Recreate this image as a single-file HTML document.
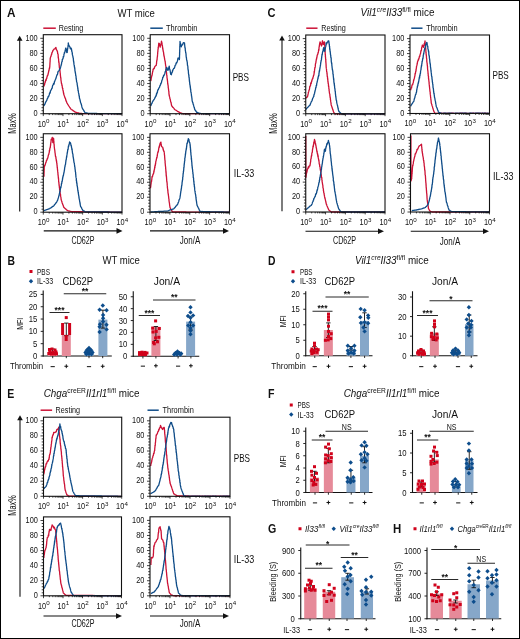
<!DOCTYPE html>
<html><head><meta charset="utf-8"><style>
html,body{margin:0;padding:0;background:#fff;width:520px;height:639px;overflow:hidden;}
svg{display:block;font-family:"Liberation Sans", sans-serif;}
text{fill:#111;}
svg{will-change:transform;}
</style></head><body>
<svg width="520" height="639" viewBox="0 0 520 639" font-family='"Liberation Sans", sans-serif'>
<rect x="0" y="0" width="520" height="639" fill="#fff"/>
<text x="7.00" y="17.04" font-size="13.45" font-weight="bold" textLength="8.50" lengthAdjust="spacingAndGlyphs">A</text>
<text x="136.20" y="16.50" font-size="11.11" text-anchor="middle" textLength="37.50" lengthAdjust="spacingAndGlyphs">WT mice</text>
<line x1="43.30" y1="28.20" x2="55.80" y2="28.20" stroke="#cc1236" stroke-width="1.5"/>
<text x="58.70" y="31.27" font-size="8.54" textLength="24.50" lengthAdjust="spacingAndGlyphs">Resting</text>
<line x1="150.30" y1="28.20" x2="162.80" y2="28.20" stroke="#0f4c88" stroke-width="1.5"/>
<text x="166.00" y="31.27" font-size="8.54" textLength="31.50" lengthAdjust="spacingAndGlyphs">Thrombin</text>
<polyline points="43.9,86.1 44.1,86.0 44.3,84.9 44.5,84.7 44.7,84.0 45.0,82.3 45.2,81.5 45.4,82.2 45.6,80.5 45.8,79.7 46.1,80.3 46.4,78.7 46.7,78.6 46.9,77.2 47.2,76.7 47.5,75.1 47.8,75.2 48.0,75.0 48.1,73.6 48.3,73.3 48.5,72.5 48.7,70.7 48.8,71.3 49.0,70.3 49.2,69.0 49.4,67.9 49.5,68.7 49.7,67.3 49.7,67.0 49.8,66.5 49.8,65.5 49.9,65.1 49.9,63.4 50.0,63.4 50.0,62.0 50.1,62.2 50.1,61.3 50.2,59.2 50.2,58.5 50.3,57.9 50.3,58.5 50.6,56.8 51.0,56.3 51.3,54.9 51.6,54.5 51.8,53.5 52.0,52.7 52.2,52.4 52.5,51.7 52.7,51.5 52.9,50.3 53.5,50.0 54.0,49.1 54.8,48.9 55.5,47.8 55.9,47.5 56.3,49.4 56.7,50.2 57.1,50.7 57.2,50.9 57.4,51.9 57.5,51.7 57.7,53.6 57.9,53.9 58.0,54.1 58.1,54.4 58.2,56.6 58.2,57.5 58.3,56.6 58.4,58.6 58.5,58.7 58.6,58.9 58.6,59.9 58.7,61.5 58.8,62.4 58.9,61.6 59.0,63.3 59.1,63.0 59.1,65.0 59.2,65.0 59.3,66.7 59.4,67.6 59.5,67.4 59.6,69.0 59.6,68.5 59.7,68.7 59.8,70.4 59.9,70.1 60.0,71.1 60.1,72.1 60.2,73.2 60.2,73.1 60.3,73.6 60.4,75.8 60.5,75.5 60.6,77.3 60.7,77.9 60.8,77.7 60.9,78.5 60.9,79.3 61.0,80.3 61.1,80.9 61.2,81.5 61.3,82.3 61.5,83.6 61.6,83.6 61.8,84.1 61.9,85.4 62.1,85.2 62.2,86.1 62.4,88.0 62.5,87.9 62.6,88.7 62.8,88.4 62.9,89.9 63.1,90.8 63.2,90.7 63.4,92.3 63.5,93.1 63.7,92.9 63.8,94.5 64.0,94.9 64.3,95.9 64.5,96.2 64.8,97.3 65.0,98.0 65.3,97.9 65.5,98.6 65.8,100.0 66.0,100.9 66.3,100.9 66.5,101.8 66.8,102.6 67.0,103.1 67.4,103.7 67.8,104.4 68.3,105.1 68.7,105.8 69.1,106.3 69.5,107.0 70.0,107.8 70.4,108.2 70.8,109.0 71.4,109.5 72.1,109.9 72.7,110.3 73.4,110.9 74.0,111.2 74.7,111.7 75.3,112.2 76.1,112.4 76.9,112.6 77.6,112.8 78.4,113.0 79.2,113.2 80.0,113.3 80.7,113.4 81.5,113.5 82.2,113.6 83.0,113.7 83.7,113.7 84.4,113.7 85.1,113.7 85.8,113.7 86.5,113.7 87.3,113.7 88.0,113.7 88.7,113.7 89.4,113.7 90.1,113.7 90.8,113.7 91.5,113.7 92.2,113.7 92.9,113.7 93.6,113.7 94.3,113.7 95.1,113.7 95.8,113.7 96.5,113.7 97.2,113.7 97.9,113.7 98.6,113.7 99.3,113.7 100.0,113.7 100.7,113.7 101.4,113.7 102.1,113.7 102.9,113.7 103.6,113.7 104.3,113.7 105.0,113.7 105.7,113.7 106.4,113.7 107.1,113.7 107.8,113.7 108.5,113.7 109.2,113.7 109.9,113.7 110.7,113.7 111.4,113.7 112.1,113.7 112.8,113.7 113.5,113.7 114.2,113.7 114.9,113.7 115.6,113.7 116.3,113.7 117.0,113.7 117.7,113.7 118.5,113.7 119.2,113.7 119.9,113.7 120.6,113.7 121.3,113.7 122.0,113.7" fill="none" stroke="#cc1236" stroke-width="1.3" stroke-linejoin="round"/>
<polyline points="43.9,105.9 44.2,105.2 44.5,104.5 44.9,104.2 45.2,103.3 45.5,102.5 45.8,101.8 46.1,101.6 46.5,100.7 46.8,100.3 47.1,99.2 47.4,98.4 47.7,98.2 47.9,97.8 48.2,96.4 48.5,96.6 48.8,96.1 49.0,95.3 49.3,94.7 49.6,92.9 49.9,93.2 50.2,92.9 50.4,91.0 50.7,90.7 51.0,90.0 51.3,89.8 51.6,88.9 51.9,88.3 52.2,88.1 52.5,86.0 52.8,85.4 53.0,84.9 53.3,84.2 53.6,83.4 53.9,84.3 54.2,83.4 54.5,81.3 54.8,81.4 55.0,80.4 55.3,79.7 55.5,79.1 55.8,78.9 56.0,78.1 56.3,77.0 56.5,76.1 56.8,75.6 57.0,74.6 57.3,74.7 57.5,74.3 57.8,73.0 58.0,71.7 58.3,71.3 58.6,71.0 59.0,70.7 59.3,70.4 59.6,69.0 60.0,69.1 60.3,68.2 60.6,67.2 60.8,66.4 60.9,65.9 61.1,65.6 61.3,64.4 61.5,64.1 61.6,63.0 61.8,61.9 62.0,61.8 62.2,61.4 62.3,59.5 62.5,59.5 62.7,58.8 62.9,58.9 63.1,58.3 63.3,56.5 63.6,56.8 63.8,55.9 64.0,54.2 64.2,53.8 64.4,52.5 64.6,53.0 64.8,52.0 65.0,51.7 65.1,50.8 65.3,49.9 65.5,49.2 65.7,48.2 65.9,48.1 66.1,49.7 66.3,49.4 66.4,50.4 66.6,52.2 66.8,51.7 67.0,52.5 67.1,51.7 67.2,52.4 67.3,50.4 67.4,49.4 67.5,50.1 67.6,48.1 67.7,48.6 67.8,47.6 67.9,47.2 68.0,46.6 68.1,45.2 68.2,44.9 68.3,42.8 68.6,44.9 68.9,45.2 69.3,46.4 69.6,46.1 70.1,47.9 70.5,48.9 71.0,48.0 71.5,49.1 71.6,50.2 71.8,51.4 71.9,51.1 72.0,51.7 72.2,52.6 72.3,54.0 72.5,55.0 72.6,55.0 72.7,55.7 72.9,56.5 73.0,57.1 73.1,58.0 73.3,58.1 73.4,59.6 73.5,61.2 73.6,60.9 73.7,62.2 73.8,61.9 73.9,63.5 74.0,64.4 74.1,64.9 74.2,65.4 74.3,66.0 74.5,67.0 74.6,68.2 74.7,67.6 74.8,68.2 74.9,70.1 75.0,71.1 75.1,71.1 75.2,71.7 75.3,72.9 75.4,72.6 75.5,73.5 75.6,74.1 75.7,75.5 75.9,75.7 76.0,76.3 76.1,77.8 76.2,79.0 76.3,78.5 76.4,80.0 76.5,80.2 76.6,81.7 76.7,81.9 76.9,82.0 77.0,82.7 77.1,83.0 77.2,84.6 77.3,85.1 77.4,85.4 77.5,86.5 77.7,87.1 77.8,88.6 77.9,88.2 78.0,90.4 78.2,90.2 78.3,91.1 78.4,91.6 78.5,92.9 78.7,93.5 78.8,93.8 78.9,94.4 79.0,95.5 79.2,96.3 79.3,96.5 79.4,97.6 79.5,98.5 79.7,98.7 79.8,99.1 80.0,99.8 80.2,101.0 80.4,101.6 80.6,102.6 80.8,103.1 81.0,103.4 81.2,104.0 81.4,104.8 81.6,105.4 81.8,106.4 82.0,107.2 82.2,107.9 82.4,108.3 82.8,109.2 83.2,109.7 83.7,110.4 84.1,111.2 84.5,111.8 84.9,112.5 85.7,112.8 86.6,113.0 87.4,113.2 88.2,113.5 88.9,113.5 89.6,113.5 90.3,113.5 91.0,113.5 91.7,113.5 92.4,113.5 93.1,113.5 93.8,113.5 94.5,113.5 95.2,113.5 95.9,113.5 96.7,113.5 97.4,113.6 98.1,113.6 98.8,113.6 99.5,113.6 100.2,113.6 100.9,113.6 101.6,113.6 102.3,113.6 103.0,113.6 103.7,113.6 104.4,113.6 105.1,113.6 105.8,113.6 106.5,113.6 107.2,113.6 107.9,113.6 108.6,113.6 109.3,113.6 110.0,113.6 110.7,113.6 111.4,113.6 112.1,113.6 112.8,113.6 113.5,113.7 114.3,113.7 115.0,113.7 115.7,113.7 116.4,113.7 117.1,113.7 117.8,113.7 118.5,113.7 119.2,113.7 119.9,113.7 120.6,113.7 121.3,113.7 122.0,113.7" fill="none" stroke="#0f4c88" stroke-width="1.3" stroke-linejoin="round"/>
<rect x="43.30" y="34.70" width="78.70" height="79.00" fill="none" stroke="#111" stroke-width="1.1"/>
<line x1="40.30" y1="113.70" x2="43.30" y2="113.70" stroke="#111" stroke-width="0.8"/>
<line x1="41.50" y1="110.68" x2="43.30" y2="110.68" stroke="#111" stroke-width="0.8"/>
<line x1="41.50" y1="107.67" x2="43.30" y2="107.67" stroke="#111" stroke-width="0.8"/>
<line x1="41.50" y1="104.65" x2="43.30" y2="104.65" stroke="#111" stroke-width="0.8"/>
<line x1="41.50" y1="101.64" x2="43.30" y2="101.64" stroke="#111" stroke-width="0.8"/>
<line x1="40.30" y1="98.62" x2="43.30" y2="98.62" stroke="#111" stroke-width="0.8"/>
<line x1="41.50" y1="95.60" x2="43.30" y2="95.60" stroke="#111" stroke-width="0.8"/>
<line x1="41.50" y1="92.59" x2="43.30" y2="92.59" stroke="#111" stroke-width="0.8"/>
<line x1="41.50" y1="89.57" x2="43.30" y2="89.57" stroke="#111" stroke-width="0.8"/>
<line x1="41.50" y1="86.56" x2="43.30" y2="86.56" stroke="#111" stroke-width="0.8"/>
<line x1="40.30" y1="83.54" x2="43.30" y2="83.54" stroke="#111" stroke-width="0.8"/>
<line x1="41.50" y1="80.52" x2="43.30" y2="80.52" stroke="#111" stroke-width="0.8"/>
<line x1="41.50" y1="77.51" x2="43.30" y2="77.51" stroke="#111" stroke-width="0.8"/>
<line x1="41.50" y1="74.49" x2="43.30" y2="74.49" stroke="#111" stroke-width="0.8"/>
<line x1="41.50" y1="71.48" x2="43.30" y2="71.48" stroke="#111" stroke-width="0.8"/>
<line x1="40.30" y1="68.46" x2="43.30" y2="68.46" stroke="#111" stroke-width="0.8"/>
<line x1="41.50" y1="65.44" x2="43.30" y2="65.44" stroke="#111" stroke-width="0.8"/>
<line x1="41.50" y1="62.43" x2="43.30" y2="62.43" stroke="#111" stroke-width="0.8"/>
<line x1="41.50" y1="59.41" x2="43.30" y2="59.41" stroke="#111" stroke-width="0.8"/>
<line x1="41.50" y1="56.40" x2="43.30" y2="56.40" stroke="#111" stroke-width="0.8"/>
<line x1="40.30" y1="53.38" x2="43.30" y2="53.38" stroke="#111" stroke-width="0.8"/>
<line x1="41.50" y1="50.36" x2="43.30" y2="50.36" stroke="#111" stroke-width="0.8"/>
<line x1="41.50" y1="47.35" x2="43.30" y2="47.35" stroke="#111" stroke-width="0.8"/>
<line x1="41.50" y1="44.33" x2="43.30" y2="44.33" stroke="#111" stroke-width="0.8"/>
<line x1="41.50" y1="41.32" x2="43.30" y2="41.32" stroke="#111" stroke-width="0.8"/>
<line x1="40.30" y1="38.30" x2="43.30" y2="38.30" stroke="#111" stroke-width="0.8"/>
<text x="37.70" y="115.93" font-size="8.42" text-anchor="end" textLength="4.10" lengthAdjust="spacingAndGlyphs">0</text>
<text x="37.70" y="100.85" font-size="8.42" text-anchor="end" textLength="8.20" lengthAdjust="spacingAndGlyphs">20</text>
<text x="37.70" y="85.77" font-size="8.42" text-anchor="end" textLength="8.20" lengthAdjust="spacingAndGlyphs">40</text>
<text x="37.70" y="70.69" font-size="8.42" text-anchor="end" textLength="8.20" lengthAdjust="spacingAndGlyphs">60</text>
<text x="37.70" y="55.61" font-size="8.42" text-anchor="end" textLength="8.20" lengthAdjust="spacingAndGlyphs">80</text>
<text x="37.70" y="40.53" font-size="8.42" text-anchor="end" textLength="12.30" lengthAdjust="spacingAndGlyphs">100</text>
<line x1="43.30" y1="113.70" x2="43.30" y2="116.10" stroke="#111" stroke-width="0.8"/>
<line x1="49.22" y1="113.70" x2="49.22" y2="115.10" stroke="#111" stroke-width="0.8"/>
<line x1="52.69" y1="113.70" x2="52.69" y2="115.10" stroke="#111" stroke-width="0.8"/>
<line x1="55.15" y1="113.70" x2="55.15" y2="115.10" stroke="#111" stroke-width="0.8"/>
<line x1="57.05" y1="113.70" x2="57.05" y2="115.10" stroke="#111" stroke-width="0.8"/>
<line x1="58.61" y1="113.70" x2="58.61" y2="115.10" stroke="#111" stroke-width="0.8"/>
<line x1="59.93" y1="113.70" x2="59.93" y2="115.10" stroke="#111" stroke-width="0.8"/>
<line x1="61.07" y1="113.70" x2="61.07" y2="115.10" stroke="#111" stroke-width="0.8"/>
<line x1="62.07" y1="113.70" x2="62.07" y2="115.10" stroke="#111" stroke-width="0.8"/>
<line x1="62.97" y1="113.70" x2="62.97" y2="116.10" stroke="#111" stroke-width="0.8"/>
<line x1="68.90" y1="113.70" x2="68.90" y2="115.10" stroke="#111" stroke-width="0.8"/>
<line x1="72.36" y1="113.70" x2="72.36" y2="115.10" stroke="#111" stroke-width="0.8"/>
<line x1="74.82" y1="113.70" x2="74.82" y2="115.10" stroke="#111" stroke-width="0.8"/>
<line x1="76.73" y1="113.70" x2="76.73" y2="115.10" stroke="#111" stroke-width="0.8"/>
<line x1="78.29" y1="113.70" x2="78.29" y2="115.10" stroke="#111" stroke-width="0.8"/>
<line x1="79.60" y1="113.70" x2="79.60" y2="115.10" stroke="#111" stroke-width="0.8"/>
<line x1="80.74" y1="113.70" x2="80.74" y2="115.10" stroke="#111" stroke-width="0.8"/>
<line x1="81.75" y1="113.70" x2="81.75" y2="115.10" stroke="#111" stroke-width="0.8"/>
<line x1="82.65" y1="113.70" x2="82.65" y2="116.10" stroke="#111" stroke-width="0.8"/>
<line x1="88.57" y1="113.70" x2="88.57" y2="115.10" stroke="#111" stroke-width="0.8"/>
<line x1="92.04" y1="113.70" x2="92.04" y2="115.10" stroke="#111" stroke-width="0.8"/>
<line x1="94.50" y1="113.70" x2="94.50" y2="115.10" stroke="#111" stroke-width="0.8"/>
<line x1="96.40" y1="113.70" x2="96.40" y2="115.10" stroke="#111" stroke-width="0.8"/>
<line x1="97.96" y1="113.70" x2="97.96" y2="115.10" stroke="#111" stroke-width="0.8"/>
<line x1="99.28" y1="113.70" x2="99.28" y2="115.10" stroke="#111" stroke-width="0.8"/>
<line x1="100.42" y1="113.70" x2="100.42" y2="115.10" stroke="#111" stroke-width="0.8"/>
<line x1="101.42" y1="113.70" x2="101.42" y2="115.10" stroke="#111" stroke-width="0.8"/>
<line x1="102.33" y1="113.70" x2="102.33" y2="116.10" stroke="#111" stroke-width="0.8"/>
<line x1="108.25" y1="113.70" x2="108.25" y2="115.10" stroke="#111" stroke-width="0.8"/>
<line x1="111.71" y1="113.70" x2="111.71" y2="115.10" stroke="#111" stroke-width="0.8"/>
<line x1="114.17" y1="113.70" x2="114.17" y2="115.10" stroke="#111" stroke-width="0.8"/>
<line x1="116.08" y1="113.70" x2="116.08" y2="115.10" stroke="#111" stroke-width="0.8"/>
<line x1="117.64" y1="113.70" x2="117.64" y2="115.10" stroke="#111" stroke-width="0.8"/>
<line x1="118.95" y1="113.70" x2="118.95" y2="115.10" stroke="#111" stroke-width="0.8"/>
<line x1="120.09" y1="113.70" x2="120.09" y2="115.10" stroke="#111" stroke-width="0.8"/>
<line x1="121.10" y1="113.70" x2="121.10" y2="115.10" stroke="#111" stroke-width="0.8"/>
<line x1="122.00" y1="113.70" x2="122.00" y2="116.10" stroke="#111" stroke-width="0.8"/>
<text x="37.70" y="126.60" font-size="8.4" textLength="8.2" lengthAdjust="spacingAndGlyphs" fill="#111">10</text><text x="46.10" y="123.30" font-size="6.2" fill="#111">0</text>
<text x="57.37" y="126.60" font-size="8.4" textLength="8.2" lengthAdjust="spacingAndGlyphs" fill="#111">10</text><text x="65.77" y="123.30" font-size="6.2" fill="#111">1</text>
<text x="77.05" y="126.60" font-size="8.4" textLength="8.2" lengthAdjust="spacingAndGlyphs" fill="#111">10</text><text x="85.45" y="123.30" font-size="6.2" fill="#111">2</text>
<text x="96.73" y="126.60" font-size="8.4" textLength="8.2" lengthAdjust="spacingAndGlyphs" fill="#111">10</text><text x="105.12" y="123.30" font-size="6.2" fill="#111">3</text>
<text x="116.40" y="126.60" font-size="8.4" textLength="8.2" lengthAdjust="spacingAndGlyphs" fill="#111">10</text><text x="124.80" y="123.30" font-size="6.2" fill="#111">4</text>
<polyline points="150.8,81.0 151.0,80.2 151.1,79.6 151.2,78.5 151.4,77.6 151.6,76.6 151.7,75.7 151.8,76.1 152.0,75.5 152.2,74.3 152.3,74.0 152.5,72.6 152.6,71.7 152.8,71.1 152.9,71.3 153.1,69.1 153.5,69.3 153.9,68.2 154.2,68.5 154.6,67.1 155.0,66.4 155.4,65.9 155.9,65.5 156.3,65.3 156.4,63.8 156.5,64.0 156.6,62.0 156.7,61.5 156.8,60.5 156.9,59.8 157.0,60.3 157.1,59.5 157.2,57.8 157.3,57.1 157.3,56.8 157.4,56.7 157.5,56.2 157.5,55.3 157.6,54.4 157.7,52.9 157.7,52.6 157.8,51.5 157.9,51.4 157.9,50.8 158.0,49.5 158.1,48.9 158.2,49.1 158.2,47.1 158.3,47.7 158.4,47.2 158.5,46.6 158.6,44.9 158.7,44.5 158.7,43.8 158.8,43.2 158.9,43.2 159.1,43.4 159.3,43.4 159.6,45.2 159.8,45.3 160.0,46.2 160.2,47.2 160.4,45.2 160.6,45.8 160.8,44.9 160.9,43.9 161.1,43.2 161.3,42.4 161.5,41.1 161.7,42.6 161.9,42.5 162.1,44.2 162.3,45.3 162.4,45.6 162.5,46.5 162.6,48.0 162.7,48.6 162.8,47.9 162.9,49.8 163.0,50.2 163.1,49.9 163.2,51.2 163.4,51.7 163.5,52.1 163.7,53.6 163.8,55.1 163.9,54.7 164.1,56.4 164.2,56.8 164.3,56.5 164.5,58.5 164.6,58.8 164.8,60.1 164.9,60.4 165.0,61.2 165.2,61.2 165.3,62.8 165.4,63.7 165.5,64.2 165.5,64.2 165.6,65.4 165.7,65.7 165.8,65.7 165.9,66.2 165.9,67.0 166.0,67.9 166.1,68.5 166.2,69.8 166.2,70.9 166.3,71.3 166.4,71.8 166.5,72.9 166.6,73.0 166.6,74.0 166.7,75.2 166.8,75.2 166.9,75.5 167.0,77.5 167.0,77.9 167.1,78.0 167.2,78.7 167.3,79.7 167.4,80.5 167.5,80.6 167.5,80.9 167.6,82.0 167.7,83.7 167.8,83.3 167.9,84.6 168.0,84.8 168.1,85.6 168.2,86.2 168.2,87.4 168.3,87.7 168.4,88.2 168.5,89.1 168.6,89.9 168.7,91.2 168.8,91.2 168.9,91.9 168.9,93.3 169.0,93.9 169.1,95.1 169.2,94.9 169.4,96.1 169.5,96.7 169.7,97.0 169.9,98.8 170.0,98.6 170.2,99.2 170.4,100.3 170.5,100.7 170.7,101.8 170.9,102.2 171.0,102.8 171.2,103.4 171.4,104.6 171.5,105.0 171.7,106.0 172.2,106.3 172.6,107.1 173.1,107.3 173.5,107.9 174.0,108.4 174.4,109.2 174.9,109.6 175.5,110.0 176.2,110.3 176.8,110.8 177.4,111.3 178.1,111.6 178.7,111.9 179.4,112.4 180.0,112.8 180.8,113.0 181.5,113.2 182.2,113.4 183.0,113.6 183.7,113.6 184.4,113.6 185.1,113.6 185.8,113.6 186.5,113.6 187.2,113.6 187.9,113.6 188.6,113.6 189.3,113.6 190.0,113.6 190.8,113.6 191.5,113.6 192.2,113.6 192.9,113.6 193.6,113.6 194.3,113.6 195.0,113.6 195.7,113.6 196.4,113.6 197.1,113.6 197.8,113.6 198.5,113.6 199.2,113.6 199.9,113.6 200.6,113.6 201.3,113.6 202.0,113.6 202.7,113.6 203.4,113.6 204.1,113.6 204.8,113.6 205.5,113.6 206.2,113.7 207.0,113.7 207.7,113.7 208.4,113.7 209.1,113.7 209.8,113.7 210.5,113.7 211.2,113.7 211.9,113.7 212.6,113.7 213.3,113.7 214.0,113.7 214.7,113.7 215.4,113.7 216.1,113.7 216.8,113.7 217.5,113.7 218.2,113.7 218.9,113.7 219.6,113.7 220.3,113.7 221.0,113.7 221.8,113.7 222.5,113.7 223.2,113.7 223.9,113.7 224.6,113.7 225.3,113.7 226.0,113.7 226.7,113.7 227.4,113.7 228.1,113.7 228.8,113.7 229.5,113.7" fill="none" stroke="#cc1236" stroke-width="1.3" stroke-linejoin="round"/>
<polyline points="150.8,105.9 151.1,105.1 151.5,104.0 151.8,103.4 152.1,103.2 152.4,101.9 152.8,101.5 153.1,100.6 153.5,100.3 154.0,99.5 154.4,99.1 154.8,98.1 155.3,97.1 155.7,96.4 155.9,95.6 156.2,95.8 156.4,94.2 156.6,93.3 156.9,94.0 157.1,92.1 157.4,92.5 157.6,90.5 157.8,90.4 158.1,89.3 158.3,89.7 158.6,88.7 158.9,88.1 159.2,87.7 159.6,87.2 159.9,85.6 160.2,85.5 160.5,84.5 160.8,83.3 161.0,83.9 161.3,82.7 161.5,82.4 161.8,80.6 162.0,80.4 162.2,79.6 162.5,79.3 162.7,77.4 163.0,77.3 163.3,76.9 163.6,75.5 163.8,75.7 164.1,75.4 164.4,74.2 164.7,74.0 164.9,73.2 165.2,71.8 165.4,71.3 165.6,71.7 165.9,69.8 166.1,69.3 166.4,68.0 166.6,67.5 167.0,68.0 167.5,70.0 167.9,70.3 168.2,69.8 168.4,69.3 168.7,67.8 168.9,67.6 169.2,66.2 169.3,66.6 169.5,68.3 169.6,68.9 169.8,69.6 169.9,69.5 170.1,70.7 170.2,70.7 170.4,72.5 170.5,73.0 170.7,72.6 170.8,74.4 171.0,73.7 171.1,74.3 171.4,74.7 171.6,73.2 171.9,72.8 172.2,72.3 172.5,70.5 172.7,71.1 173.0,69.5 173.4,69.1 173.7,68.3 174.1,68.4 174.5,67.8 174.9,66.3 175.2,65.3 175.6,65.0 175.8,64.5 176.1,63.2 176.3,62.7 176.6,63.1 176.8,62.3 177.1,62.1 177.3,61.4 177.6,60.5 177.8,58.9 178.1,57.8 178.8,58.7 179.4,59.5 179.4,58.9 179.5,58.2 179.5,57.2 179.5,57.4 179.5,55.6 179.6,55.2 179.6,55.3 179.6,54.4 179.6,52.7 179.7,51.9 179.7,52.2 179.7,50.1 179.7,49.6 179.8,49.6 179.8,48.9 179.8,47.5 179.8,46.5 179.8,46.1 179.9,46.4 179.9,45.1 179.9,45.3 179.9,44.3 180.0,43.9 180.0,41.5 180.2,42.5 180.4,42.9 180.7,44.4 180.9,45.0 181.1,45.2 181.3,46.9 181.6,45.4 182.0,45.2 182.3,44.4 182.6,44.8 183.0,43.5 183.3,42.6 184.5,42.8 184.6,44.2 184.7,45.3 184.8,46.1 184.9,47.3 185.0,47.8 185.1,47.6 185.2,48.1 185.3,50.0 185.4,50.8 185.5,51.0 185.6,52.3 185.7,52.6 185.8,52.8 185.9,53.3 186.0,53.8 186.1,55.6 186.2,56.8 186.3,57.5 186.4,57.4 186.5,58.5 186.6,59.7 186.8,60.2 186.9,60.5 187.0,60.9 187.1,61.8 187.2,61.9 187.3,62.6 187.4,64.2 187.5,65.5 187.6,65.4 187.7,65.8 187.8,66.4 187.9,67.3 187.9,68.6 188.0,68.7 188.1,70.3 188.2,69.6 188.3,70.5 188.4,71.6 188.4,72.1 188.5,73.6 188.6,74.2 188.7,75.1 188.8,75.2 188.9,74.9 188.9,76.6 189.0,77.2 189.1,77.8 189.2,78.1 189.3,79.6 189.4,80.7 189.4,79.9 189.5,81.6 189.6,81.8 189.7,82.7 189.8,84.1 189.9,85.0 190.0,85.1 190.1,85.0 190.2,87.1 190.3,86.4 190.4,87.5 190.5,89.1 190.6,88.9 190.7,89.5 190.8,91.4 190.9,92.1 191.0,91.8 191.1,92.6 191.2,93.2 191.3,93.7 191.4,94.6 191.5,96.3 191.6,95.9 191.7,96.8 191.8,97.5 191.9,98.1 192.0,99.3 192.1,100.2 192.2,101.0 192.4,101.5 192.6,102.3 192.8,102.4 193.0,103.3 193.2,104.4 193.4,104.5 193.6,105.4 193.8,106.2 194.0,106.7 194.2,107.6 194.4,108.1 194.6,108.8 194.8,109.7 195.3,110.2 195.8,111.0 196.2,111.5 196.7,112.3 197.6,112.5 198.4,112.9 199.3,113.2 200.2,113.4 201.0,113.7 201.7,113.7 202.4,113.7 203.1,113.7 203.8,113.7 204.6,113.7 205.3,113.7 206.0,113.7 206.7,113.7 207.4,113.7 208.1,113.7 208.8,113.7 209.6,113.7 210.3,113.7 211.0,113.7 211.7,113.7 212.4,113.7 213.1,113.7 213.8,113.7 214.5,113.7 215.2,113.7 216.0,113.7 216.7,113.7 217.4,113.7 218.1,113.7 218.8,113.7 219.5,113.7 220.2,113.7 220.9,113.7 221.7,113.7 222.4,113.7 223.1,113.7 223.8,113.7 224.5,113.7 225.2,113.7 225.9,113.7 226.7,113.7 227.4,113.7 228.1,113.7 228.8,113.7 229.5,113.7" fill="none" stroke="#0f4c88" stroke-width="1.3" stroke-linejoin="round"/>
<rect x="150.20" y="34.70" width="79.30" height="79.00" fill="none" stroke="#111" stroke-width="1.1"/>
<line x1="147.20" y1="113.70" x2="150.20" y2="113.70" stroke="#111" stroke-width="0.8"/>
<line x1="148.40" y1="110.68" x2="150.20" y2="110.68" stroke="#111" stroke-width="0.8"/>
<line x1="148.40" y1="107.67" x2="150.20" y2="107.67" stroke="#111" stroke-width="0.8"/>
<line x1="148.40" y1="104.65" x2="150.20" y2="104.65" stroke="#111" stroke-width="0.8"/>
<line x1="148.40" y1="101.64" x2="150.20" y2="101.64" stroke="#111" stroke-width="0.8"/>
<line x1="147.20" y1="98.62" x2="150.20" y2="98.62" stroke="#111" stroke-width="0.8"/>
<line x1="148.40" y1="95.60" x2="150.20" y2="95.60" stroke="#111" stroke-width="0.8"/>
<line x1="148.40" y1="92.59" x2="150.20" y2="92.59" stroke="#111" stroke-width="0.8"/>
<line x1="148.40" y1="89.57" x2="150.20" y2="89.57" stroke="#111" stroke-width="0.8"/>
<line x1="148.40" y1="86.56" x2="150.20" y2="86.56" stroke="#111" stroke-width="0.8"/>
<line x1="147.20" y1="83.54" x2="150.20" y2="83.54" stroke="#111" stroke-width="0.8"/>
<line x1="148.40" y1="80.52" x2="150.20" y2="80.52" stroke="#111" stroke-width="0.8"/>
<line x1="148.40" y1="77.51" x2="150.20" y2="77.51" stroke="#111" stroke-width="0.8"/>
<line x1="148.40" y1="74.49" x2="150.20" y2="74.49" stroke="#111" stroke-width="0.8"/>
<line x1="148.40" y1="71.48" x2="150.20" y2="71.48" stroke="#111" stroke-width="0.8"/>
<line x1="147.20" y1="68.46" x2="150.20" y2="68.46" stroke="#111" stroke-width="0.8"/>
<line x1="148.40" y1="65.44" x2="150.20" y2="65.44" stroke="#111" stroke-width="0.8"/>
<line x1="148.40" y1="62.43" x2="150.20" y2="62.43" stroke="#111" stroke-width="0.8"/>
<line x1="148.40" y1="59.41" x2="150.20" y2="59.41" stroke="#111" stroke-width="0.8"/>
<line x1="148.40" y1="56.40" x2="150.20" y2="56.40" stroke="#111" stroke-width="0.8"/>
<line x1="147.20" y1="53.38" x2="150.20" y2="53.38" stroke="#111" stroke-width="0.8"/>
<line x1="148.40" y1="50.36" x2="150.20" y2="50.36" stroke="#111" stroke-width="0.8"/>
<line x1="148.40" y1="47.35" x2="150.20" y2="47.35" stroke="#111" stroke-width="0.8"/>
<line x1="148.40" y1="44.33" x2="150.20" y2="44.33" stroke="#111" stroke-width="0.8"/>
<line x1="148.40" y1="41.32" x2="150.20" y2="41.32" stroke="#111" stroke-width="0.8"/>
<line x1="147.20" y1="38.30" x2="150.20" y2="38.30" stroke="#111" stroke-width="0.8"/>
<text x="144.60" y="115.93" font-size="8.42" text-anchor="end" textLength="4.10" lengthAdjust="spacingAndGlyphs">0</text>
<text x="144.60" y="100.85" font-size="8.42" text-anchor="end" textLength="8.20" lengthAdjust="spacingAndGlyphs">20</text>
<text x="144.60" y="85.77" font-size="8.42" text-anchor="end" textLength="8.20" lengthAdjust="spacingAndGlyphs">40</text>
<text x="144.60" y="70.69" font-size="8.42" text-anchor="end" textLength="8.20" lengthAdjust="spacingAndGlyphs">60</text>
<text x="144.60" y="55.61" font-size="8.42" text-anchor="end" textLength="8.20" lengthAdjust="spacingAndGlyphs">80</text>
<text x="144.60" y="40.53" font-size="8.42" text-anchor="end" textLength="12.30" lengthAdjust="spacingAndGlyphs">100</text>
<line x1="150.20" y1="113.70" x2="150.20" y2="116.10" stroke="#111" stroke-width="0.8"/>
<line x1="156.17" y1="113.70" x2="156.17" y2="115.10" stroke="#111" stroke-width="0.8"/>
<line x1="159.66" y1="113.70" x2="159.66" y2="115.10" stroke="#111" stroke-width="0.8"/>
<line x1="162.14" y1="113.70" x2="162.14" y2="115.10" stroke="#111" stroke-width="0.8"/>
<line x1="164.06" y1="113.70" x2="164.06" y2="115.10" stroke="#111" stroke-width="0.8"/>
<line x1="165.63" y1="113.70" x2="165.63" y2="115.10" stroke="#111" stroke-width="0.8"/>
<line x1="166.95" y1="113.70" x2="166.95" y2="115.10" stroke="#111" stroke-width="0.8"/>
<line x1="168.10" y1="113.70" x2="168.10" y2="115.10" stroke="#111" stroke-width="0.8"/>
<line x1="169.12" y1="113.70" x2="169.12" y2="115.10" stroke="#111" stroke-width="0.8"/>
<line x1="170.02" y1="113.70" x2="170.02" y2="116.10" stroke="#111" stroke-width="0.8"/>
<line x1="175.99" y1="113.70" x2="175.99" y2="115.10" stroke="#111" stroke-width="0.8"/>
<line x1="179.48" y1="113.70" x2="179.48" y2="115.10" stroke="#111" stroke-width="0.8"/>
<line x1="181.96" y1="113.70" x2="181.96" y2="115.10" stroke="#111" stroke-width="0.8"/>
<line x1="183.88" y1="113.70" x2="183.88" y2="115.10" stroke="#111" stroke-width="0.8"/>
<line x1="185.45" y1="113.70" x2="185.45" y2="115.10" stroke="#111" stroke-width="0.8"/>
<line x1="186.78" y1="113.70" x2="186.78" y2="115.10" stroke="#111" stroke-width="0.8"/>
<line x1="187.93" y1="113.70" x2="187.93" y2="115.10" stroke="#111" stroke-width="0.8"/>
<line x1="188.94" y1="113.70" x2="188.94" y2="115.10" stroke="#111" stroke-width="0.8"/>
<line x1="189.85" y1="113.70" x2="189.85" y2="116.10" stroke="#111" stroke-width="0.8"/>
<line x1="195.82" y1="113.70" x2="195.82" y2="115.10" stroke="#111" stroke-width="0.8"/>
<line x1="199.31" y1="113.70" x2="199.31" y2="115.10" stroke="#111" stroke-width="0.8"/>
<line x1="201.79" y1="113.70" x2="201.79" y2="115.10" stroke="#111" stroke-width="0.8"/>
<line x1="203.71" y1="113.70" x2="203.71" y2="115.10" stroke="#111" stroke-width="0.8"/>
<line x1="205.28" y1="113.70" x2="205.28" y2="115.10" stroke="#111" stroke-width="0.8"/>
<line x1="206.60" y1="113.70" x2="206.60" y2="115.10" stroke="#111" stroke-width="0.8"/>
<line x1="207.75" y1="113.70" x2="207.75" y2="115.10" stroke="#111" stroke-width="0.8"/>
<line x1="208.77" y1="113.70" x2="208.77" y2="115.10" stroke="#111" stroke-width="0.8"/>
<line x1="209.68" y1="113.70" x2="209.68" y2="116.10" stroke="#111" stroke-width="0.8"/>
<line x1="215.64" y1="113.70" x2="215.64" y2="115.10" stroke="#111" stroke-width="0.8"/>
<line x1="219.13" y1="113.70" x2="219.13" y2="115.10" stroke="#111" stroke-width="0.8"/>
<line x1="221.61" y1="113.70" x2="221.61" y2="115.10" stroke="#111" stroke-width="0.8"/>
<line x1="223.53" y1="113.70" x2="223.53" y2="115.10" stroke="#111" stroke-width="0.8"/>
<line x1="225.10" y1="113.70" x2="225.10" y2="115.10" stroke="#111" stroke-width="0.8"/>
<line x1="226.43" y1="113.70" x2="226.43" y2="115.10" stroke="#111" stroke-width="0.8"/>
<line x1="227.58" y1="113.70" x2="227.58" y2="115.10" stroke="#111" stroke-width="0.8"/>
<line x1="228.59" y1="113.70" x2="228.59" y2="115.10" stroke="#111" stroke-width="0.8"/>
<line x1="229.50" y1="113.70" x2="229.50" y2="116.10" stroke="#111" stroke-width="0.8"/>
<text x="144.60" y="126.60" font-size="8.4" textLength="8.2" lengthAdjust="spacingAndGlyphs" fill="#111">10</text><text x="153.00" y="123.30" font-size="6.2" fill="#111">0</text>
<text x="164.42" y="126.60" font-size="8.4" textLength="8.2" lengthAdjust="spacingAndGlyphs" fill="#111">10</text><text x="172.82" y="123.30" font-size="6.2" fill="#111">1</text>
<text x="184.25" y="126.60" font-size="8.4" textLength="8.2" lengthAdjust="spacingAndGlyphs" fill="#111">10</text><text x="192.65" y="123.30" font-size="6.2" fill="#111">2</text>
<text x="204.08" y="126.60" font-size="8.4" textLength="8.2" lengthAdjust="spacingAndGlyphs" fill="#111">10</text><text x="212.48" y="123.30" font-size="6.2" fill="#111">3</text>
<text x="223.90" y="126.60" font-size="8.4" textLength="8.2" lengthAdjust="spacingAndGlyphs" fill="#111">10</text><text x="232.30" y="123.30" font-size="6.2" fill="#111">4</text>
<polyline points="43.9,176.8 43.9,176.6 44.0,175.8 44.0,173.8 44.0,174.5 44.0,173.5 44.1,171.6 44.1,171.0 44.1,170.2 44.2,169.2 44.2,170.1 44.2,168.3 44.2,168.4 44.3,166.3 44.3,165.4 44.6,166.2 44.9,165.3 45.2,164.9 45.5,163.6 45.8,162.5 46.1,162.3 46.4,160.5 46.7,160.6 46.9,159.8 47.2,158.6 47.5,158.8 47.8,157.7 48.0,157.3 48.1,156.3 48.3,155.5 48.5,154.8 48.6,154.6 48.8,154.5 48.9,153.7 49.1,152.9 49.3,152.1 49.4,150.4 49.6,150.9 49.8,148.9 50.0,147.9 50.1,147.8 50.3,147.5 50.4,146.1 50.5,146.0 50.5,144.6 50.6,145.1 50.7,143.5 50.8,142.9 50.9,142.3 51.0,142.2 51.0,141.7 51.1,140.2 51.2,139.3 51.8,139.0 52.3,137.3 52.4,138.7 52.5,140.2 52.6,140.8 52.7,140.3 52.8,142.5 52.9,142.4 53.0,142.7 53.1,140.9 53.2,139.9 53.2,139.8 53.3,139.6 53.4,138.1 53.5,138.2 53.6,138.6 53.6,138.7 53.7,139.3 53.7,140.4 53.8,141.0 53.9,141.6 53.9,142.9 54.0,144.0 54.0,144.2 54.1,144.1 54.2,145.0 54.2,146.0 54.3,147.2 54.3,147.0 54.4,147.6 54.5,148.8 54.6,149.5 54.7,149.7 54.9,151.4 55.0,152.8 55.1,152.8 55.2,153.9 55.3,154.8 55.4,155.5 55.5,156.3 55.7,156.2 55.8,157.3 55.9,157.0 56.0,159.0 56.1,158.8 56.2,159.7 56.4,161.1 56.5,160.7 56.6,161.2 56.7,163.1 56.8,163.4 56.9,163.2 56.9,163.8 57.0,165.1 57.1,165.2 57.2,167.4 57.3,167.0 57.4,167.8 57.4,168.8 57.5,169.7 57.6,170.3 57.7,171.4 57.8,172.1 57.8,172.4 57.9,172.6 58.0,174.9 58.1,175.1 58.1,174.7 58.2,176.0 58.3,177.3 58.4,178.4 58.4,177.5 58.5,178.1 58.6,179.7 58.6,180.3 58.7,181.8 58.8,182.4 58.9,182.2 58.9,183.1 59.0,184.1 59.1,185.4 59.2,184.8 59.2,185.9 59.3,186.1 59.4,187.8 59.5,187.4 59.6,189.7 59.7,189.7 59.8,190.5 59.9,190.5 60.0,191.4 60.1,192.5 60.2,193.7 60.4,194.0 60.5,194.4 60.6,196.0 60.7,196.3 60.8,196.9 60.9,197.2 61.0,198.1 61.1,199.4 61.2,199.4 61.4,200.4 61.7,201.2 61.9,201.7 62.1,202.7 62.4,203.5 62.6,204.1 62.9,204.7 63.1,205.2 63.3,205.8 63.6,206.7 63.8,207.3 64.3,207.8 64.9,208.4 65.4,208.7 66.0,209.3 66.5,209.8 67.1,210.1 67.6,210.6 68.4,210.8 69.2,211.0 69.9,211.2 70.7,211.4 71.5,211.6 72.2,211.6 72.9,211.6 73.6,211.6 74.3,211.6 75.0,211.6 75.7,211.6 76.4,211.6 77.1,211.7 77.8,211.7 78.5,211.7 79.2,211.7 79.9,211.7 80.6,211.7 81.3,211.7 82.0,211.7 82.7,211.7 83.4,211.7 84.1,211.7 84.8,211.8 85.5,211.8 86.2,211.8 86.9,211.8 87.6,211.8 88.3,211.8 89.0,211.8 89.7,211.8 90.4,211.8 91.1,211.8 91.8,211.8 92.5,211.9 93.2,211.9 93.9,211.9 94.6,211.9 95.3,211.9 96.0,211.9 96.8,211.9 97.5,211.9 98.2,211.9 98.9,211.9 99.6,211.9 100.3,211.9 101.0,211.9 101.7,212.0 102.4,212.0 103.1,212.0 103.8,212.0 104.5,212.0 105.2,212.0 105.9,212.0 106.6,212.0 107.3,212.0 108.0,212.0 108.7,212.0 109.4,212.0 110.1,212.1 110.8,212.1 111.5,212.1 112.2,212.1 112.9,212.1 113.6,212.1 114.3,212.1 115.0,212.1 115.7,212.1 116.4,212.1 117.1,212.1 117.8,212.2 118.5,212.2 119.2,212.2 119.9,212.2 120.6,212.2 121.3,212.2 122.0,212.2" fill="none" stroke="#cc1236" stroke-width="1.3" stroke-linejoin="round"/>
<polyline points="43.9,210.6 44.6,210.3 45.4,210.1 46.1,209.8 46.8,209.6 47.5,209.4 48.2,209.1 49.0,208.8 49.7,208.6 50.3,208.1 51.0,207.8 51.6,207.2 52.2,206.9 52.9,206.4 53.5,206.1 54.0,205.6 54.4,204.8 54.9,204.2 55.3,203.9 55.8,203.1 56.2,202.8 56.7,202.0 57.0,201.2 57.3,200.8 57.6,200.4 57.8,199.6 58.1,198.6 58.4,197.7 58.7,196.6 58.8,196.2 59.0,195.5 59.1,195.6 59.3,193.8 59.4,194.2 59.6,192.9 59.7,192.2 59.9,191.2 60.0,191.6 60.2,189.7 60.3,189.6 60.5,188.8 60.6,187.6 60.7,186.9 60.9,187.6 61.0,186.6 61.2,185.8 61.3,185.4 61.5,183.3 61.6,183.7 61.8,183.1 61.9,181.4 62.1,181.2 62.2,181.4 62.4,179.6 62.5,179.7 62.6,177.9 62.8,178.1 62.9,176.7 63.1,176.4 63.2,175.5 63.4,175.7 63.5,174.8 63.7,173.7 63.8,173.3 64.0,172.1 64.1,172.1 64.3,170.5 64.4,170.3 64.5,169.6 64.6,168.5 64.8,167.2 64.9,166.7 65.0,166.8 65.1,165.3 65.2,165.5 65.4,164.3 65.5,164.4 65.6,163.5 65.7,162.5 65.9,161.1 66.0,159.8 66.1,160.0 66.2,159.6 66.3,159.3 66.5,157.3 66.6,156.5 66.7,157.3 66.8,156.1 66.9,155.0 67.0,154.7 67.2,153.0 67.3,153.0 67.4,152.5 67.5,151.7 67.7,150.2 67.8,149.4 68.0,149.6 68.1,149.3 68.3,147.3 68.4,146.3 68.6,145.8 68.7,146.3 68.9,144.9 69.1,144.3 69.2,144.5 69.4,143.1 69.6,141.8 70.0,143.3 70.4,142.8 70.8,144.1 71.0,145.6 71.2,145.4 71.4,145.9 71.5,147.5 71.7,147.9 71.9,149.8 72.1,149.0 72.2,151.0 72.3,151.0 72.4,152.5 72.5,152.6 72.6,153.7 72.8,153.8 72.9,154.4 73.0,155.5 73.1,156.9 73.2,156.8 73.3,157.4 73.4,158.4 73.5,158.6 73.6,159.7 73.8,160.9 73.9,161.6 74.0,162.5 74.1,162.6 74.2,162.9 74.4,163.6 74.5,164.9 74.6,165.4 74.7,166.8 74.9,167.0 75.0,168.6 75.1,169.1 75.2,169.9 75.3,170.7 75.3,171.1 75.4,171.6 75.5,172.1 75.6,172.4 75.7,174.4 75.8,174.6 75.8,174.6 75.9,176.8 76.0,176.9 76.1,177.7 76.2,178.0 76.3,178.2 76.3,180.5 76.4,179.7 76.5,180.7 76.6,182.6 76.7,181.7 76.8,183.1 76.9,183.8 77.0,184.1 77.1,186.0 77.2,185.8 77.3,185.8 77.4,187.3 77.5,187.2 77.7,189.2 77.8,190.1 77.9,190.9 78.0,190.3 78.1,191.9 78.2,192.1 78.3,193.0 78.4,193.5 78.5,194.3 78.6,194.8 78.8,196.1 78.9,196.2 79.0,197.9 79.1,197.7 79.2,199.3 79.4,199.3 79.5,199.9 79.6,201.2 79.8,201.8 79.9,202.7 80.0,203.2 80.1,204.0 80.2,204.4 80.4,205.5 80.5,206.1 80.9,206.9 81.2,207.2 81.6,207.9 81.9,208.7 82.3,209.4 82.6,209.9 83.0,210.6 83.7,210.9 84.3,211.2 84.9,211.5 85.6,211.8 86.3,211.8 87.0,211.8 87.7,211.8 88.4,211.8 89.1,211.8 89.8,211.8 90.5,211.9 91.2,211.9 91.9,211.9 92.6,211.9 93.3,211.9 94.0,211.9 94.7,211.9 95.4,211.9 96.1,211.9 96.8,211.9 97.5,211.9 98.2,211.9 98.9,211.9 99.6,211.9 100.3,212.0 101.0,212.0 101.7,212.0 102.4,212.0 103.1,212.0 103.8,212.0 104.5,212.0 105.2,212.0 105.9,212.0 106.6,212.0 107.3,212.0 108.0,212.0 108.7,212.1 109.4,212.1 110.1,212.1 110.8,212.1 111.5,212.1 112.2,212.1 112.9,212.1 113.6,212.1 114.3,212.1 115.0,212.1 115.7,212.1 116.4,212.1 117.1,212.1 117.8,212.2 118.5,212.2 119.2,212.2 119.9,212.2 120.6,212.2 121.3,212.2 122.0,212.2" fill="none" stroke="#0f4c88" stroke-width="1.3" stroke-linejoin="round"/>
<rect x="43.30" y="133.75" width="78.70" height="78.45" fill="none" stroke="#111" stroke-width="1.1"/>
<line x1="40.30" y1="212.20" x2="43.30" y2="212.20" stroke="#111" stroke-width="0.8"/>
<line x1="41.50" y1="209.21" x2="43.30" y2="209.21" stroke="#111" stroke-width="0.8"/>
<line x1="41.50" y1="206.21" x2="43.30" y2="206.21" stroke="#111" stroke-width="0.8"/>
<line x1="41.50" y1="203.22" x2="43.30" y2="203.22" stroke="#111" stroke-width="0.8"/>
<line x1="41.50" y1="200.22" x2="43.30" y2="200.22" stroke="#111" stroke-width="0.8"/>
<line x1="40.30" y1="197.23" x2="43.30" y2="197.23" stroke="#111" stroke-width="0.8"/>
<line x1="41.50" y1="194.24" x2="43.30" y2="194.24" stroke="#111" stroke-width="0.8"/>
<line x1="41.50" y1="191.24" x2="43.30" y2="191.24" stroke="#111" stroke-width="0.8"/>
<line x1="41.50" y1="188.25" x2="43.30" y2="188.25" stroke="#111" stroke-width="0.8"/>
<line x1="41.50" y1="185.25" x2="43.30" y2="185.25" stroke="#111" stroke-width="0.8"/>
<line x1="40.30" y1="182.26" x2="43.30" y2="182.26" stroke="#111" stroke-width="0.8"/>
<line x1="41.50" y1="179.27" x2="43.30" y2="179.27" stroke="#111" stroke-width="0.8"/>
<line x1="41.50" y1="176.27" x2="43.30" y2="176.27" stroke="#111" stroke-width="0.8"/>
<line x1="41.50" y1="173.28" x2="43.30" y2="173.28" stroke="#111" stroke-width="0.8"/>
<line x1="41.50" y1="170.28" x2="43.30" y2="170.28" stroke="#111" stroke-width="0.8"/>
<line x1="40.30" y1="167.29" x2="43.30" y2="167.29" stroke="#111" stroke-width="0.8"/>
<line x1="41.50" y1="164.30" x2="43.30" y2="164.30" stroke="#111" stroke-width="0.8"/>
<line x1="41.50" y1="161.30" x2="43.30" y2="161.30" stroke="#111" stroke-width="0.8"/>
<line x1="41.50" y1="158.31" x2="43.30" y2="158.31" stroke="#111" stroke-width="0.8"/>
<line x1="41.50" y1="155.31" x2="43.30" y2="155.31" stroke="#111" stroke-width="0.8"/>
<line x1="40.30" y1="152.32" x2="43.30" y2="152.32" stroke="#111" stroke-width="0.8"/>
<line x1="41.50" y1="149.33" x2="43.30" y2="149.33" stroke="#111" stroke-width="0.8"/>
<line x1="41.50" y1="146.33" x2="43.30" y2="146.33" stroke="#111" stroke-width="0.8"/>
<line x1="41.50" y1="143.34" x2="43.30" y2="143.34" stroke="#111" stroke-width="0.8"/>
<line x1="41.50" y1="140.34" x2="43.30" y2="140.34" stroke="#111" stroke-width="0.8"/>
<line x1="40.30" y1="137.35" x2="43.30" y2="137.35" stroke="#111" stroke-width="0.8"/>
<text x="37.70" y="214.43" font-size="8.42" text-anchor="end" textLength="4.10" lengthAdjust="spacingAndGlyphs">0</text>
<text x="37.70" y="199.46" font-size="8.42" text-anchor="end" textLength="8.20" lengthAdjust="spacingAndGlyphs">20</text>
<text x="37.70" y="184.49" font-size="8.42" text-anchor="end" textLength="8.20" lengthAdjust="spacingAndGlyphs">40</text>
<text x="37.70" y="169.52" font-size="8.42" text-anchor="end" textLength="8.20" lengthAdjust="spacingAndGlyphs">60</text>
<text x="37.70" y="154.55" font-size="8.42" text-anchor="end" textLength="8.20" lengthAdjust="spacingAndGlyphs">80</text>
<text x="37.70" y="139.58" font-size="8.42" text-anchor="end" textLength="12.30" lengthAdjust="spacingAndGlyphs">100</text>
<line x1="43.30" y1="212.20" x2="43.30" y2="214.60" stroke="#111" stroke-width="0.8"/>
<line x1="49.22" y1="212.20" x2="49.22" y2="213.60" stroke="#111" stroke-width="0.8"/>
<line x1="52.69" y1="212.20" x2="52.69" y2="213.60" stroke="#111" stroke-width="0.8"/>
<line x1="55.15" y1="212.20" x2="55.15" y2="213.60" stroke="#111" stroke-width="0.8"/>
<line x1="57.05" y1="212.20" x2="57.05" y2="213.60" stroke="#111" stroke-width="0.8"/>
<line x1="58.61" y1="212.20" x2="58.61" y2="213.60" stroke="#111" stroke-width="0.8"/>
<line x1="59.93" y1="212.20" x2="59.93" y2="213.60" stroke="#111" stroke-width="0.8"/>
<line x1="61.07" y1="212.20" x2="61.07" y2="213.60" stroke="#111" stroke-width="0.8"/>
<line x1="62.07" y1="212.20" x2="62.07" y2="213.60" stroke="#111" stroke-width="0.8"/>
<line x1="62.97" y1="212.20" x2="62.97" y2="214.60" stroke="#111" stroke-width="0.8"/>
<line x1="68.90" y1="212.20" x2="68.90" y2="213.60" stroke="#111" stroke-width="0.8"/>
<line x1="72.36" y1="212.20" x2="72.36" y2="213.60" stroke="#111" stroke-width="0.8"/>
<line x1="74.82" y1="212.20" x2="74.82" y2="213.60" stroke="#111" stroke-width="0.8"/>
<line x1="76.73" y1="212.20" x2="76.73" y2="213.60" stroke="#111" stroke-width="0.8"/>
<line x1="78.29" y1="212.20" x2="78.29" y2="213.60" stroke="#111" stroke-width="0.8"/>
<line x1="79.60" y1="212.20" x2="79.60" y2="213.60" stroke="#111" stroke-width="0.8"/>
<line x1="80.74" y1="212.20" x2="80.74" y2="213.60" stroke="#111" stroke-width="0.8"/>
<line x1="81.75" y1="212.20" x2="81.75" y2="213.60" stroke="#111" stroke-width="0.8"/>
<line x1="82.65" y1="212.20" x2="82.65" y2="214.60" stroke="#111" stroke-width="0.8"/>
<line x1="88.57" y1="212.20" x2="88.57" y2="213.60" stroke="#111" stroke-width="0.8"/>
<line x1="92.04" y1="212.20" x2="92.04" y2="213.60" stroke="#111" stroke-width="0.8"/>
<line x1="94.50" y1="212.20" x2="94.50" y2="213.60" stroke="#111" stroke-width="0.8"/>
<line x1="96.40" y1="212.20" x2="96.40" y2="213.60" stroke="#111" stroke-width="0.8"/>
<line x1="97.96" y1="212.20" x2="97.96" y2="213.60" stroke="#111" stroke-width="0.8"/>
<line x1="99.28" y1="212.20" x2="99.28" y2="213.60" stroke="#111" stroke-width="0.8"/>
<line x1="100.42" y1="212.20" x2="100.42" y2="213.60" stroke="#111" stroke-width="0.8"/>
<line x1="101.42" y1="212.20" x2="101.42" y2="213.60" stroke="#111" stroke-width="0.8"/>
<line x1="102.33" y1="212.20" x2="102.33" y2="214.60" stroke="#111" stroke-width="0.8"/>
<line x1="108.25" y1="212.20" x2="108.25" y2="213.60" stroke="#111" stroke-width="0.8"/>
<line x1="111.71" y1="212.20" x2="111.71" y2="213.60" stroke="#111" stroke-width="0.8"/>
<line x1="114.17" y1="212.20" x2="114.17" y2="213.60" stroke="#111" stroke-width="0.8"/>
<line x1="116.08" y1="212.20" x2="116.08" y2="213.60" stroke="#111" stroke-width="0.8"/>
<line x1="117.64" y1="212.20" x2="117.64" y2="213.60" stroke="#111" stroke-width="0.8"/>
<line x1="118.95" y1="212.20" x2="118.95" y2="213.60" stroke="#111" stroke-width="0.8"/>
<line x1="120.09" y1="212.20" x2="120.09" y2="213.60" stroke="#111" stroke-width="0.8"/>
<line x1="121.10" y1="212.20" x2="121.10" y2="213.60" stroke="#111" stroke-width="0.8"/>
<line x1="122.00" y1="212.20" x2="122.00" y2="214.60" stroke="#111" stroke-width="0.8"/>
<text x="37.70" y="225.10" font-size="8.4" textLength="8.2" lengthAdjust="spacingAndGlyphs" fill="#111">10</text><text x="46.10" y="221.80" font-size="6.2" fill="#111">0</text>
<text x="57.37" y="225.10" font-size="8.4" textLength="8.2" lengthAdjust="spacingAndGlyphs" fill="#111">10</text><text x="65.77" y="221.80" font-size="6.2" fill="#111">1</text>
<text x="77.05" y="225.10" font-size="8.4" textLength="8.2" lengthAdjust="spacingAndGlyphs" fill="#111">10</text><text x="85.45" y="221.80" font-size="6.2" fill="#111">2</text>
<text x="96.73" y="225.10" font-size="8.4" textLength="8.2" lengthAdjust="spacingAndGlyphs" fill="#111">10</text><text x="105.12" y="221.80" font-size="6.2" fill="#111">3</text>
<text x="116.40" y="225.10" font-size="8.4" textLength="8.2" lengthAdjust="spacingAndGlyphs" fill="#111">10</text><text x="124.80" y="221.80" font-size="6.2" fill="#111">4</text>
<polyline points="150.5,188.2 150.6,187.3 150.7,186.5 150.8,186.2 150.9,184.0 151.0,184.4 151.1,183.9 151.2,181.8 151.4,182.0 151.5,181.9 151.6,180.0 151.7,180.3 151.8,179.7 151.9,178.1 152.0,176.9 152.2,176.3 152.5,176.7 152.8,175.2 153.0,174.3 153.2,173.8 153.5,174.0 153.8,172.1 153.9,170.9 154.0,171.9 154.2,170.1 154.3,169.5 154.4,169.9 154.6,167.9 154.7,166.9 154.9,167.6 155.0,165.8 155.1,165.1 155.3,165.6 155.4,163.7 155.6,164.2 155.7,162.5 155.8,161.7 156.0,160.9 156.1,160.8 156.2,160.1 156.4,159.1 156.6,158.6 156.7,157.5 156.9,157.8 157.0,157.3 157.2,156.2 157.3,155.7 157.5,153.6 157.7,153.2 157.8,152.4 158.0,151.6 158.1,152.4 158.3,151.6 158.4,150.9 158.6,149.6 158.8,148.1 158.9,147.9 159.1,146.6 159.3,147.4 159.5,145.6 159.6,145.0 159.8,145.5 160.0,143.5 160.2,144.1 160.5,142.3 160.8,142.3 160.9,142.1 161.1,144.3 161.2,144.2 161.3,144.9 161.5,146.3 162.0,146.9 162.5,147.1 162.8,147.5 163.0,149.1 163.2,148.8 163.5,151.0 163.8,150.8 164.0,151.2 164.2,152.2 164.3,152.5 164.4,153.6 164.4,154.7 164.5,155.1 164.6,155.7 164.6,156.3 164.7,157.4 164.8,158.6 164.8,158.7 164.9,160.0 164.9,160.2 165.0,160.3 165.1,161.0 165.1,163.0 165.2,163.0 165.2,163.5 165.3,164.5 165.4,165.8 165.4,165.6 165.5,166.3 165.6,167.0 165.6,167.1 165.7,168.8 165.8,169.3 165.8,170.1 165.9,170.7 165.9,171.4 166.0,172.6 166.1,172.3 166.1,174.5 166.2,173.6 166.2,175.7 166.3,175.1 166.4,176.9 166.5,176.7 166.5,177.0 166.6,178.6 166.7,179.8 166.7,180.5 166.8,181.3 166.9,182.2 166.9,181.2 167.0,182.5 167.1,182.7 167.2,184.6 167.2,184.7 167.3,185.9 167.4,186.7 167.4,187.8 167.5,187.9 167.6,188.9 167.7,189.1 167.7,189.0 167.8,191.0 167.9,190.5 167.9,191.2 168.0,193.0 168.1,192.9 168.2,194.1 168.3,194.0 168.4,195.0 168.5,196.3 168.6,196.3 168.7,197.5 168.8,198.7 168.9,198.7 169.0,199.8 169.0,200.6 169.1,201.2 169.2,202.0 169.3,202.6 169.4,202.9 169.5,203.7 169.6,204.7 169.7,205.6 169.8,205.9 169.9,206.8 170.0,207.4 170.4,208.2 170.7,208.8 171.1,209.4 171.4,210.1 171.8,210.7 172.1,211.4 172.5,212.0 173.2,212.0 173.9,212.0 174.6,212.0 175.3,212.0 176.0,212.0 176.7,212.0 177.4,212.0 178.1,212.0 178.8,212.0 179.5,212.0 180.2,212.0 180.9,212.0 181.6,212.0 182.4,212.0 183.1,212.0 183.8,212.0 184.5,212.0 185.2,212.0 185.9,212.0 186.6,212.1 187.3,212.1 188.0,212.1 188.7,212.1 189.4,212.1 190.1,212.1 190.8,212.1 191.5,212.1 192.2,212.1 192.9,212.1 193.6,212.1 194.3,212.1 195.0,212.1 195.7,212.1 196.4,212.1 197.1,212.1 197.8,212.1 198.5,212.1 199.2,212.1 199.9,212.1 200.6,212.1 201.4,212.1 202.1,212.1 202.8,212.1 203.5,212.1 204.2,212.1 204.9,212.1 205.6,212.1 206.3,212.1 207.0,212.1 207.7,212.1 208.4,212.1 209.1,212.1 209.8,212.1 210.5,212.1 211.2,212.1 211.9,212.1 212.6,212.1 213.3,212.1 214.0,212.1 214.7,212.1 215.4,212.2 216.1,212.2 216.8,212.2 217.5,212.2 218.2,212.2 218.9,212.2 219.6,212.2 220.4,212.2 221.1,212.2 221.8,212.2 222.5,212.2 223.2,212.2 223.9,212.2 224.6,212.2 225.3,212.2 226.0,212.2 226.7,212.2 227.4,212.2 228.1,212.2 228.8,212.2 229.5,212.2" fill="none" stroke="#cc1236" stroke-width="1.3" stroke-linejoin="round"/>
<polyline points="150.5,212.0 151.2,212.0 151.9,211.9 152.6,211.9 153.3,211.8 154.0,211.8 154.8,211.7 155.5,211.7 156.2,211.7 156.9,211.6 157.6,211.6 158.3,211.5 159.0,211.5 159.7,211.5 160.4,211.4 161.1,211.4 161.8,211.3 162.5,211.3 163.2,211.3 164.0,211.2 164.7,211.2 165.4,211.2 166.1,211.1 166.8,211.1 167.5,211.0 168.2,210.8 168.9,210.5 169.6,210.2 170.3,209.9 171.0,209.7 171.7,209.6 172.4,209.2 173.1,209.1 173.8,208.7 174.2,208.3 174.7,207.8 175.2,207.2 175.6,206.8 176.1,205.9 176.6,205.5 177.0,205.0 177.5,204.5 177.8,203.9 178.0,203.3 178.2,202.6 178.5,202.0 178.8,201.2 179.0,200.2 179.2,199.6 179.5,199.1 179.8,198.5 180.0,197.4 180.1,196.6 180.2,196.2 180.3,195.1 180.4,195.2 180.5,193.3 180.6,193.5 180.7,192.6 180.8,191.5 180.9,191.3 181.0,190.5 181.1,190.5 181.2,189.7 181.3,188.5 181.4,188.4 181.5,187.7 181.6,185.7 181.7,186.2 181.8,185.5 181.9,185.1 182.0,184.0 182.1,182.6 182.2,181.6 182.3,181.7 182.4,180.2 182.5,180.5 182.6,179.4 182.7,179.2 182.7,177.6 182.8,176.8 182.9,177.2 183.0,176.1 183.0,174.9 183.1,174.5 183.2,173.6 183.3,173.2 183.4,172.3 183.4,171.2 183.5,171.7 183.6,170.8 183.7,169.9 183.8,168.4 183.8,167.5 183.9,167.8 184.0,167.2 184.1,166.2 184.1,164.7 184.2,164.9 184.3,163.9 184.4,162.9 184.5,162.6 184.5,161.6 184.6,161.3 184.7,160.8 184.8,160.5 184.8,158.2 184.9,158.3 185.0,158.3 185.1,157.1 185.2,156.2 185.3,156.0 185.4,153.8 185.5,154.4 185.6,153.4 185.7,152.6 185.8,151.4 185.9,151.2 186.1,149.6 186.2,149.6 186.3,148.4 186.4,148.9 186.5,147.9 186.6,146.6 186.7,146.4 186.8,145.0 186.9,144.5 187.0,143.1 187.2,143.7 187.4,142.8 187.6,142.1 187.9,140.1 188.1,140.8 188.3,138.6 188.5,138.9 188.7,139.4 188.9,139.4 189.1,140.8 189.4,142.3 189.6,142.5 189.8,142.7 190.0,144.3 190.1,144.2 190.1,145.9 190.2,145.7 190.3,145.8 190.3,148.1 190.4,147.2 190.5,148.3 190.5,149.9 190.6,149.4 190.7,150.9 190.7,152.2 190.8,152.4 190.9,152.7 190.9,154.1 191.0,155.0 191.1,155.2 191.1,156.0 191.2,156.2 191.3,157.0 191.3,158.8 191.4,159.5 191.5,158.4 191.5,159.5 191.6,160.3 191.7,162.0 191.7,161.6 191.8,162.3 191.9,164.1 191.9,163.7 192.0,165.9 192.1,165.6 192.2,167.1 192.2,167.7 192.3,167.3 192.4,169.0 192.5,169.1 192.5,169.4 192.6,169.8 192.7,171.7 192.8,172.1 192.9,172.4 192.9,174.0 193.0,173.6 193.1,174.7 193.2,174.8 193.2,176.0 193.3,177.6 193.4,177.7 193.5,177.7 193.6,178.6 193.6,180.0 193.7,180.1 193.8,181.9 193.9,181.1 194.0,183.2 194.0,183.5 194.1,184.6 194.2,184.4 194.3,184.6 194.3,185.5 194.4,187.0 194.5,186.7 194.6,187.5 194.7,189.4 194.8,190.2 194.9,190.9 195.0,191.5 195.1,191.8 195.2,192.9 195.3,193.4 195.4,193.9 195.5,194.4 195.6,194.6 195.7,195.4 195.8,196.3 195.9,197.3 196.0,197.6 196.1,199.2 196.2,199.5 196.3,200.3 196.4,201.1 196.5,201.3 196.6,202.5 196.7,203.2 196.8,203.5 196.9,204.1 197.0,205.2 197.3,205.8 197.6,206.4 197.9,206.9 198.2,207.6 198.5,208.1 198.8,208.8 199.1,209.5 199.4,210.2 199.7,210.8 200.0,211.5 200.7,211.5 201.4,211.6 202.1,211.5 202.8,211.6 203.5,211.6 204.2,211.6 204.9,211.6 205.6,211.6 206.3,211.6 207.0,211.7 207.7,211.7 208.4,211.7 209.1,211.7 209.8,211.7 210.5,211.8 211.2,211.8 211.9,211.8 212.6,211.8 213.3,211.8 214.0,211.8 214.8,211.9 215.5,211.9 216.2,211.9 216.9,211.9 217.6,211.9 218.3,211.9 219.0,211.9 219.7,212.0 220.4,212.0 221.1,212.0 221.8,212.0 222.5,212.0 223.2,212.0 223.9,212.1 224.6,212.1 225.3,212.1 226.0,212.1 226.7,212.1 227.4,212.2 228.1,212.2 228.8,212.2 229.5,212.2" fill="none" stroke="#0f4c88" stroke-width="1.3" stroke-linejoin="round"/>
<rect x="150.00" y="133.75" width="79.50" height="78.45" fill="none" stroke="#111" stroke-width="1.1"/>
<line x1="147.00" y1="212.20" x2="150.00" y2="212.20" stroke="#111" stroke-width="0.8"/>
<line x1="148.20" y1="209.21" x2="150.00" y2="209.21" stroke="#111" stroke-width="0.8"/>
<line x1="148.20" y1="206.21" x2="150.00" y2="206.21" stroke="#111" stroke-width="0.8"/>
<line x1="148.20" y1="203.22" x2="150.00" y2="203.22" stroke="#111" stroke-width="0.8"/>
<line x1="148.20" y1="200.22" x2="150.00" y2="200.22" stroke="#111" stroke-width="0.8"/>
<line x1="147.00" y1="197.23" x2="150.00" y2="197.23" stroke="#111" stroke-width="0.8"/>
<line x1="148.20" y1="194.24" x2="150.00" y2="194.24" stroke="#111" stroke-width="0.8"/>
<line x1="148.20" y1="191.24" x2="150.00" y2="191.24" stroke="#111" stroke-width="0.8"/>
<line x1="148.20" y1="188.25" x2="150.00" y2="188.25" stroke="#111" stroke-width="0.8"/>
<line x1="148.20" y1="185.25" x2="150.00" y2="185.25" stroke="#111" stroke-width="0.8"/>
<line x1="147.00" y1="182.26" x2="150.00" y2="182.26" stroke="#111" stroke-width="0.8"/>
<line x1="148.20" y1="179.27" x2="150.00" y2="179.27" stroke="#111" stroke-width="0.8"/>
<line x1="148.20" y1="176.27" x2="150.00" y2="176.27" stroke="#111" stroke-width="0.8"/>
<line x1="148.20" y1="173.28" x2="150.00" y2="173.28" stroke="#111" stroke-width="0.8"/>
<line x1="148.20" y1="170.28" x2="150.00" y2="170.28" stroke="#111" stroke-width="0.8"/>
<line x1="147.00" y1="167.29" x2="150.00" y2="167.29" stroke="#111" stroke-width="0.8"/>
<line x1="148.20" y1="164.30" x2="150.00" y2="164.30" stroke="#111" stroke-width="0.8"/>
<line x1="148.20" y1="161.30" x2="150.00" y2="161.30" stroke="#111" stroke-width="0.8"/>
<line x1="148.20" y1="158.31" x2="150.00" y2="158.31" stroke="#111" stroke-width="0.8"/>
<line x1="148.20" y1="155.31" x2="150.00" y2="155.31" stroke="#111" stroke-width="0.8"/>
<line x1="147.00" y1="152.32" x2="150.00" y2="152.32" stroke="#111" stroke-width="0.8"/>
<line x1="148.20" y1="149.33" x2="150.00" y2="149.33" stroke="#111" stroke-width="0.8"/>
<line x1="148.20" y1="146.33" x2="150.00" y2="146.33" stroke="#111" stroke-width="0.8"/>
<line x1="148.20" y1="143.34" x2="150.00" y2="143.34" stroke="#111" stroke-width="0.8"/>
<line x1="148.20" y1="140.34" x2="150.00" y2="140.34" stroke="#111" stroke-width="0.8"/>
<line x1="147.00" y1="137.35" x2="150.00" y2="137.35" stroke="#111" stroke-width="0.8"/>
<text x="144.40" y="214.43" font-size="8.42" text-anchor="end" textLength="4.10" lengthAdjust="spacingAndGlyphs">0</text>
<text x="144.40" y="199.46" font-size="8.42" text-anchor="end" textLength="8.20" lengthAdjust="spacingAndGlyphs">20</text>
<text x="144.40" y="184.49" font-size="8.42" text-anchor="end" textLength="8.20" lengthAdjust="spacingAndGlyphs">40</text>
<text x="144.40" y="169.52" font-size="8.42" text-anchor="end" textLength="8.20" lengthAdjust="spacingAndGlyphs">60</text>
<text x="144.40" y="154.55" font-size="8.42" text-anchor="end" textLength="8.20" lengthAdjust="spacingAndGlyphs">80</text>
<text x="144.40" y="139.58" font-size="8.42" text-anchor="end" textLength="12.30" lengthAdjust="spacingAndGlyphs">100</text>
<line x1="150.00" y1="212.20" x2="150.00" y2="214.60" stroke="#111" stroke-width="0.8"/>
<line x1="155.98" y1="212.20" x2="155.98" y2="213.60" stroke="#111" stroke-width="0.8"/>
<line x1="159.48" y1="212.20" x2="159.48" y2="213.60" stroke="#111" stroke-width="0.8"/>
<line x1="161.97" y1="212.20" x2="161.97" y2="213.60" stroke="#111" stroke-width="0.8"/>
<line x1="163.89" y1="212.20" x2="163.89" y2="213.60" stroke="#111" stroke-width="0.8"/>
<line x1="165.47" y1="212.20" x2="165.47" y2="213.60" stroke="#111" stroke-width="0.8"/>
<line x1="166.80" y1="212.20" x2="166.80" y2="213.60" stroke="#111" stroke-width="0.8"/>
<line x1="167.95" y1="212.20" x2="167.95" y2="213.60" stroke="#111" stroke-width="0.8"/>
<line x1="168.97" y1="212.20" x2="168.97" y2="213.60" stroke="#111" stroke-width="0.8"/>
<line x1="169.88" y1="212.20" x2="169.88" y2="214.60" stroke="#111" stroke-width="0.8"/>
<line x1="175.86" y1="212.20" x2="175.86" y2="213.60" stroke="#111" stroke-width="0.8"/>
<line x1="179.36" y1="212.20" x2="179.36" y2="213.60" stroke="#111" stroke-width="0.8"/>
<line x1="181.84" y1="212.20" x2="181.84" y2="213.60" stroke="#111" stroke-width="0.8"/>
<line x1="183.77" y1="212.20" x2="183.77" y2="213.60" stroke="#111" stroke-width="0.8"/>
<line x1="185.34" y1="212.20" x2="185.34" y2="213.60" stroke="#111" stroke-width="0.8"/>
<line x1="186.67" y1="212.20" x2="186.67" y2="213.60" stroke="#111" stroke-width="0.8"/>
<line x1="187.82" y1="212.20" x2="187.82" y2="213.60" stroke="#111" stroke-width="0.8"/>
<line x1="188.84" y1="212.20" x2="188.84" y2="213.60" stroke="#111" stroke-width="0.8"/>
<line x1="189.75" y1="212.20" x2="189.75" y2="214.60" stroke="#111" stroke-width="0.8"/>
<line x1="195.73" y1="212.20" x2="195.73" y2="213.60" stroke="#111" stroke-width="0.8"/>
<line x1="199.23" y1="212.20" x2="199.23" y2="213.60" stroke="#111" stroke-width="0.8"/>
<line x1="201.72" y1="212.20" x2="201.72" y2="213.60" stroke="#111" stroke-width="0.8"/>
<line x1="203.64" y1="212.20" x2="203.64" y2="213.60" stroke="#111" stroke-width="0.8"/>
<line x1="205.22" y1="212.20" x2="205.22" y2="213.60" stroke="#111" stroke-width="0.8"/>
<line x1="206.55" y1="212.20" x2="206.55" y2="213.60" stroke="#111" stroke-width="0.8"/>
<line x1="207.70" y1="212.20" x2="207.70" y2="213.60" stroke="#111" stroke-width="0.8"/>
<line x1="208.72" y1="212.20" x2="208.72" y2="213.60" stroke="#111" stroke-width="0.8"/>
<line x1="209.62" y1="212.20" x2="209.62" y2="214.60" stroke="#111" stroke-width="0.8"/>
<line x1="215.61" y1="212.20" x2="215.61" y2="213.60" stroke="#111" stroke-width="0.8"/>
<line x1="219.11" y1="212.20" x2="219.11" y2="213.60" stroke="#111" stroke-width="0.8"/>
<line x1="221.59" y1="212.20" x2="221.59" y2="213.60" stroke="#111" stroke-width="0.8"/>
<line x1="223.52" y1="212.20" x2="223.52" y2="213.60" stroke="#111" stroke-width="0.8"/>
<line x1="225.09" y1="212.20" x2="225.09" y2="213.60" stroke="#111" stroke-width="0.8"/>
<line x1="226.42" y1="212.20" x2="226.42" y2="213.60" stroke="#111" stroke-width="0.8"/>
<line x1="227.57" y1="212.20" x2="227.57" y2="213.60" stroke="#111" stroke-width="0.8"/>
<line x1="228.59" y1="212.20" x2="228.59" y2="213.60" stroke="#111" stroke-width="0.8"/>
<line x1="229.50" y1="212.20" x2="229.50" y2="214.60" stroke="#111" stroke-width="0.8"/>
<text x="144.40" y="225.10" font-size="8.4" textLength="8.2" lengthAdjust="spacingAndGlyphs" fill="#111">10</text><text x="152.80" y="221.80" font-size="6.2" fill="#111">0</text>
<text x="164.28" y="225.10" font-size="8.4" textLength="8.2" lengthAdjust="spacingAndGlyphs" fill="#111">10</text><text x="172.68" y="221.80" font-size="6.2" fill="#111">1</text>
<text x="184.15" y="225.10" font-size="8.4" textLength="8.2" lengthAdjust="spacingAndGlyphs" fill="#111">10</text><text x="192.55" y="221.80" font-size="6.2" fill="#111">2</text>
<text x="204.03" y="225.10" font-size="8.4" textLength="8.2" lengthAdjust="spacingAndGlyphs" fill="#111">10</text><text x="212.43" y="221.80" font-size="6.2" fill="#111">3</text>
<text x="223.90" y="225.10" font-size="8.4" textLength="8.2" lengthAdjust="spacingAndGlyphs" fill="#111">10</text><text x="232.30" y="221.80" font-size="6.2" fill="#111">4</text>
<text x="232.70" y="81.00" font-size="11.11" textLength="16.30" lengthAdjust="spacingAndGlyphs">PBS</text>
<text x="233.75" y="176.50" font-size="11.11" textLength="20.50" lengthAdjust="spacingAndGlyphs">IL-33</text>
<line x1="19.70" y1="39.80" x2="19.70" y2="211.60" stroke="#111" stroke-width="1.1"/>
<polygon points="19.70,35.80 16.90,40.80 22.50,40.80" fill="#111"/>
<text transform="translate(15.83,123.50) rotate(-90)" font-size="10.65" text-anchor="middle" fill="#111" textLength="20.40" lengthAdjust="spacingAndGlyphs">Max%</text>
<line x1="43.75" y1="230.90" x2="118.50" y2="230.90" stroke="#111" stroke-width="1.1"/>
<polygon points="122.50,230.90 116.50,228.10 116.50,233.70" fill="#111"/>
<line x1="150.00" y1="230.90" x2="225.00" y2="230.90" stroke="#111" stroke-width="1.1"/>
<polygon points="229.00,230.90 223.00,228.10 223.00,233.70" fill="#111"/>
<text x="83.00" y="243.54" font-size="11.23" text-anchor="middle" textLength="23.00" lengthAdjust="spacingAndGlyphs">CD62P</text>
<text x="190.00" y="243.54" font-size="11.23" text-anchor="middle" textLength="20.50" lengthAdjust="spacingAndGlyphs">Jon/A</text>
<text x="267.50" y="17.04" font-size="13.45" font-weight="bold" textLength="8.00" lengthAdjust="spacingAndGlyphs">C</text>
<text x="360.50" y="16.30" font-size="11.11" fill="#111" textLength="74.00" lengthAdjust="spacingAndGlyphs"><tspan font-style="italic">Vil1</tspan><tspan font-size="7.55" dy="-4.0" font-style="italic">cre</tspan><tspan dy="4.0" font-style="italic">Il33</tspan><tspan font-size="7.55" dy="-4.0">fl/fl</tspan><tspan dy="4.0"> mice</tspan></text>
<line x1="306.25" y1="28.20" x2="317.50" y2="28.20" stroke="#cc1236" stroke-width="1.5"/>
<text x="321.25" y="31.27" font-size="8.54" textLength="24.50" lengthAdjust="spacingAndGlyphs">Resting</text>
<line x1="411.25" y1="28.20" x2="422.50" y2="28.20" stroke="#0f4c88" stroke-width="1.5"/>
<text x="426.25" y="31.27" font-size="8.54" textLength="31.30" lengthAdjust="spacingAndGlyphs">Thrombin</text>
<polyline points="305.8,98.5 306.3,97.3 306.9,97.4 307.5,96.4 307.7,96.1 307.9,94.9 308.0,94.5 308.2,93.7 308.4,92.2 308.6,92.0 308.8,91.4 308.9,90.5 309.1,90.1 309.3,89.8 309.5,88.9 309.6,88.2 309.8,86.3 310.0,86.6 310.2,85.8 310.5,85.6 310.7,83.2 310.9,82.8 311.2,83.6 311.4,81.8 311.6,81.7 311.9,80.8 312.1,79.7 312.3,79.1 312.6,78.6 312.8,78.7 313.0,77.2 313.3,76.9 313.5,75.3 313.8,75.4 313.9,74.5 314.0,74.0 314.1,73.5 314.2,71.4 314.3,72.3 314.5,70.9 314.6,69.6 314.7,69.2 314.8,67.8 314.9,67.4 315.1,67.8 315.2,66.8 315.3,66.4 315.4,64.4 315.5,63.6 315.7,63.4 315.8,62.8 315.9,62.5 316.0,61.1 316.1,61.1 316.2,60.2 316.4,58.9 316.6,59.1 316.8,57.1 317.0,57.3 317.1,55.9 317.3,54.9 317.5,55.0 317.7,54.3 317.9,53.8 318.0,52.6 318.2,52.9 318.4,51.9 318.6,50.1 318.8,49.1 318.9,50.1 319.0,48.4 319.1,47.1 319.2,46.5 319.3,46.7 319.4,45.0 319.5,44.7 319.6,44.5 319.7,43.2 319.8,43.0 319.9,42.8 320.0,41.8 320.2,42.2 320.4,42.8 320.6,42.9 320.9,44.2 321.1,44.9 321.3,45.5 321.5,46.0 321.7,45.7 321.8,43.9 322.0,44.0 322.2,43.7 322.3,41.2 322.5,40.8 322.7,42.9 322.9,42.0 323.1,44.1 323.3,44.4 323.5,44.2 323.7,44.5 323.9,42.7 324.1,43.5 324.3,41.8 324.5,42.3 324.5,42.9 324.6,42.3 324.6,43.5 324.7,43.7 324.7,45.5 324.8,45.0 324.8,45.7 324.8,46.5 324.9,48.5 324.9,48.1 325.0,49.0 325.0,49.9 325.1,50.8 325.1,51.2 325.1,52.9 325.2,52.5 325.2,53.5 325.3,54.9 325.4,54.4 325.4,55.0 325.4,56.9 325.5,56.7 325.6,58.4 325.6,59.0 325.6,58.9 325.7,59.5 325.8,59.8 325.8,61.9 325.9,61.8 325.9,62.3 325.9,62.7 326.0,63.5 326.1,65.4 326.1,64.7 326.1,66.2 326.2,67.0 326.2,67.5 326.3,68.2 326.4,68.7 326.5,69.1 326.6,70.9 326.7,71.8 326.8,71.9 326.9,72.1 327.0,74.0 327.1,73.4 327.1,74.1 327.2,75.6 327.3,76.7 327.4,76.9 327.5,76.8 327.6,79.1 327.7,78.3 327.8,79.4 327.9,81.2 327.9,81.6 328.0,82.2 328.1,81.7 328.2,83.8 328.3,83.7 328.4,83.8 328.5,85.9 328.6,86.8 328.7,86.0 328.8,87.4 328.9,88.9 328.9,88.6 329.1,89.3 329.1,90.8 329.2,90.9 329.4,92.5 329.4,92.9 329.6,93.6 329.6,94.1 329.8,94.1 329.9,95.4 329.9,96.0 330.1,96.6 330.1,97.4 330.2,97.8 330.4,98.4 330.4,99.8 330.6,100.0 330.6,100.4 330.8,101.9 330.9,102.2 330.9,103.0 331.1,103.5 331.1,104.1 331.2,104.9 331.5,105.9 331.7,106.2 331.9,107.2 332.2,107.6 332.4,108.6 332.6,109.0 332.8,109.8 333.1,110.4 333.3,111.1 333.5,111.8 333.8,112.5 334.4,113.1 335.0,113.8 335.7,113.8 336.4,113.8 337.1,113.8 337.8,113.8 338.5,113.8 339.2,113.8 339.9,113.8 340.6,113.8 341.3,113.8 342.0,113.8 342.7,113.8 343.5,113.8 344.2,113.8 344.9,113.8 345.6,113.8 346.3,113.8 347.0,113.8 347.7,113.8 348.4,113.8 349.1,113.8 349.8,113.8 350.5,113.8 351.2,113.8 351.9,113.8 352.6,113.8 353.3,113.8 354.0,113.8 354.7,113.8 355.4,113.8 356.1,113.8 356.8,113.8 357.5,113.8 358.2,113.8 358.9,113.8 359.6,113.8 360.4,113.8 361.1,113.8 361.8,113.8 362.5,113.8 363.2,113.8 363.9,113.8 364.6,113.8 365.3,113.8 366.0,113.8 366.7,113.8 367.4,113.8 368.1,113.8 368.8,113.8 369.5,113.8 370.2,113.8 370.9,113.8 371.6,113.8 372.3,113.8 373.0,113.8 373.7,113.8 374.4,113.8 375.1,113.8 375.8,113.8 376.5,113.8 377.3,113.8 378.0,113.8 378.7,113.8 379.4,113.8 380.1,113.8 380.8,113.8 381.5,113.8 382.2,113.8 382.9,113.8 383.6,113.8 384.3,113.8 385.0,113.8" fill="none" stroke="#cc1236" stroke-width="1.3" stroke-linejoin="round"/>
<polyline points="305.8,109.5 306.3,108.9 306.8,108.2 307.3,107.8 307.9,107.1 308.4,106.8 308.9,106.1 309.5,105.4 310.0,105.2 310.3,104.3 310.6,103.4 310.9,102.8 311.2,101.9 311.4,101.6 311.7,101.3 312.0,100.7 312.3,99.8 312.6,98.6 312.9,98.0 313.2,97.3 313.5,96.8 313.8,96.4 313.9,94.9 314.1,94.8 314.3,94.0 314.5,93.6 314.6,93.2 314.8,91.8 315.0,91.4 315.2,90.2 315.4,89.7 315.5,89.3 315.7,87.6 315.9,87.7 316.1,87.0 316.2,85.7 316.4,85.1 316.6,85.4 316.7,83.9 316.9,82.9 317.0,82.3 317.2,82.1 317.3,81.1 317.5,80.4 317.7,79.6 317.8,78.7 318.0,78.5 318.1,78.0 318.3,76.4 318.4,76.6 318.6,75.4 318.8,75.9 318.9,75.1 319.0,72.9 319.1,73.2 319.2,71.9 319.3,70.7 319.5,71.4 319.6,70.7 319.7,69.8 319.8,68.8 319.9,68.7 320.1,67.2 320.2,66.7 320.3,66.0 320.4,65.6 320.5,64.9 320.7,63.2 320.8,62.3 320.9,62.2 321.0,61.6 321.1,60.5 321.2,60.6 321.4,59.9 321.5,58.9 321.6,57.9 321.7,57.5 321.8,55.9 321.9,56.3 322.0,54.3 322.2,55.0 322.3,53.9 322.5,52.6 322.6,51.7 322.8,51.8 323.0,50.8 323.1,50.6 323.3,48.8 323.4,49.5 323.6,48.1 323.8,47.4 323.9,48.7 324.0,49.2 324.1,49.7 324.2,50.1 324.4,51.2 324.5,51.2 324.6,50.9 324.8,51.2 324.9,49.3 325.1,48.5 325.2,49.2 325.4,47.6 325.5,47.2 325.7,46.7 325.8,46.2 326.0,44.8 326.1,44.9 326.2,42.9 326.8,43.7 327.2,42.1 327.8,42.0 328.2,40.8 328.8,40.9 328.8,41.0 328.9,42.1 329.0,42.3 329.1,43.9 329.2,44.5 329.3,44.1 329.4,45.8 329.5,46.9 329.6,46.3 329.6,46.9 329.7,48.9 329.8,49.7 329.9,48.9 330.0,50.7 330.1,51.7 330.2,51.2 330.3,52.8 330.4,52.7 330.4,54.2 330.5,54.4 330.6,55.1 330.7,55.1 330.8,56.8 330.9,57.6 331.0,57.5 331.1,57.8 331.2,58.6 331.2,59.6 331.3,61.6 331.4,61.9 331.5,62.9 331.6,63.3 331.7,62.9 331.8,64.1 331.9,65.8 332.0,66.3 332.1,67.3 332.1,67.7 332.2,68.2 332.3,69.0 332.4,70.0 332.5,69.9 332.6,69.9 332.7,71.1 332.8,71.3 332.9,72.4 332.9,73.7 333.0,73.9 333.1,74.5 333.2,75.0 333.3,76.2 333.4,77.2 333.5,78.0 333.6,79.4 333.7,78.5 333.8,79.6 333.8,80.0 333.9,82.2 334.0,82.4 334.1,83.1 334.2,84.1 334.3,83.4 334.4,85.7 334.5,85.4 334.6,86.7 334.6,87.0 334.7,88.3 334.8,88.2 334.9,88.9 335.0,89.6 335.1,91.1 335.2,91.4 335.3,91.6 335.4,92.6 335.4,93.7 335.5,94.1 335.6,95.1 335.7,96.2 335.8,96.6 335.9,97.5 336.0,97.6 336.1,99.0 336.2,99.7 336.2,100.0 336.4,100.3 336.6,101.0 336.7,102.3 336.9,103.1 337.0,103.7 337.2,104.2 337.3,104.9 337.5,105.4 337.7,106.4 337.8,107.3 338.0,107.6 338.1,108.5 338.3,109.3 338.4,109.9 338.6,110.5 338.8,111.2 339.2,111.8 339.8,112.3 340.2,112.8 340.8,113.2 341.2,113.8 342.0,113.8 342.7,113.8 343.4,113.8 344.1,113.8 344.8,113.8 345.5,113.8 346.2,113.8 346.9,113.8 347.6,113.8 348.3,113.8 349.0,113.8 349.7,113.8 350.4,113.8 351.1,113.8 351.8,113.8 352.5,113.8 353.2,113.8 354.0,113.8 354.7,113.8 355.4,113.8 356.1,113.8 356.8,113.8 357.5,113.8 358.2,113.8 358.9,113.8 359.6,113.8 360.3,113.8 361.0,113.8 361.7,113.8 362.4,113.8 363.1,113.8 363.8,113.8 364.5,113.8 365.2,113.8 365.9,113.8 366.7,113.8 367.4,113.8 368.1,113.8 368.8,113.8 369.5,113.8 370.2,113.8 370.9,113.8 371.6,113.8 372.3,113.8 373.0,113.8 373.7,113.8 374.4,113.8 375.1,113.8 375.8,113.8 376.5,113.8 377.2,113.8 377.9,113.8 378.6,113.8 379.4,113.8 380.1,113.8 380.8,113.8 381.5,113.8 382.2,113.8 382.9,113.8 383.6,113.8 384.3,113.8 385.0,113.8" fill="none" stroke="#0f4c88" stroke-width="1.3" stroke-linejoin="round"/>
<rect x="305.75" y="35.00" width="79.25" height="78.75" fill="none" stroke="#111" stroke-width="1.1"/>
<line x1="302.75" y1="113.75" x2="305.75" y2="113.75" stroke="#111" stroke-width="0.8"/>
<line x1="303.95" y1="110.74" x2="305.75" y2="110.74" stroke="#111" stroke-width="0.8"/>
<line x1="303.95" y1="107.74" x2="305.75" y2="107.74" stroke="#111" stroke-width="0.8"/>
<line x1="303.95" y1="104.73" x2="305.75" y2="104.73" stroke="#111" stroke-width="0.8"/>
<line x1="303.95" y1="101.73" x2="305.75" y2="101.73" stroke="#111" stroke-width="0.8"/>
<line x1="302.75" y1="98.72" x2="305.75" y2="98.72" stroke="#111" stroke-width="0.8"/>
<line x1="303.95" y1="95.71" x2="305.75" y2="95.71" stroke="#111" stroke-width="0.8"/>
<line x1="303.95" y1="92.71" x2="305.75" y2="92.71" stroke="#111" stroke-width="0.8"/>
<line x1="303.95" y1="89.70" x2="305.75" y2="89.70" stroke="#111" stroke-width="0.8"/>
<line x1="303.95" y1="86.70" x2="305.75" y2="86.70" stroke="#111" stroke-width="0.8"/>
<line x1="302.75" y1="83.69" x2="305.75" y2="83.69" stroke="#111" stroke-width="0.8"/>
<line x1="303.95" y1="80.68" x2="305.75" y2="80.68" stroke="#111" stroke-width="0.8"/>
<line x1="303.95" y1="77.68" x2="305.75" y2="77.68" stroke="#111" stroke-width="0.8"/>
<line x1="303.95" y1="74.67" x2="305.75" y2="74.67" stroke="#111" stroke-width="0.8"/>
<line x1="303.95" y1="71.67" x2="305.75" y2="71.67" stroke="#111" stroke-width="0.8"/>
<line x1="302.75" y1="68.66" x2="305.75" y2="68.66" stroke="#111" stroke-width="0.8"/>
<line x1="303.95" y1="65.65" x2="305.75" y2="65.65" stroke="#111" stroke-width="0.8"/>
<line x1="303.95" y1="62.65" x2="305.75" y2="62.65" stroke="#111" stroke-width="0.8"/>
<line x1="303.95" y1="59.64" x2="305.75" y2="59.64" stroke="#111" stroke-width="0.8"/>
<line x1="303.95" y1="56.64" x2="305.75" y2="56.64" stroke="#111" stroke-width="0.8"/>
<line x1="302.75" y1="53.63" x2="305.75" y2="53.63" stroke="#111" stroke-width="0.8"/>
<line x1="303.95" y1="50.62" x2="305.75" y2="50.62" stroke="#111" stroke-width="0.8"/>
<line x1="303.95" y1="47.62" x2="305.75" y2="47.62" stroke="#111" stroke-width="0.8"/>
<line x1="303.95" y1="44.61" x2="305.75" y2="44.61" stroke="#111" stroke-width="0.8"/>
<line x1="303.95" y1="41.61" x2="305.75" y2="41.61" stroke="#111" stroke-width="0.8"/>
<line x1="302.75" y1="38.60" x2="305.75" y2="38.60" stroke="#111" stroke-width="0.8"/>
<text x="300.15" y="115.98" font-size="8.42" text-anchor="end" textLength="4.10" lengthAdjust="spacingAndGlyphs">0</text>
<text x="300.15" y="100.95" font-size="8.42" text-anchor="end" textLength="8.20" lengthAdjust="spacingAndGlyphs">20</text>
<text x="300.15" y="85.92" font-size="8.42" text-anchor="end" textLength="8.20" lengthAdjust="spacingAndGlyphs">40</text>
<text x="300.15" y="70.89" font-size="8.42" text-anchor="end" textLength="8.20" lengthAdjust="spacingAndGlyphs">60</text>
<text x="300.15" y="55.86" font-size="8.42" text-anchor="end" textLength="8.20" lengthAdjust="spacingAndGlyphs">80</text>
<text x="300.15" y="40.83" font-size="8.42" text-anchor="end" textLength="12.30" lengthAdjust="spacingAndGlyphs">100</text>
<line x1="305.75" y1="113.75" x2="305.75" y2="116.15" stroke="#111" stroke-width="0.8"/>
<line x1="311.71" y1="113.75" x2="311.71" y2="115.15" stroke="#111" stroke-width="0.8"/>
<line x1="315.20" y1="113.75" x2="315.20" y2="115.15" stroke="#111" stroke-width="0.8"/>
<line x1="317.68" y1="113.75" x2="317.68" y2="115.15" stroke="#111" stroke-width="0.8"/>
<line x1="319.60" y1="113.75" x2="319.60" y2="115.15" stroke="#111" stroke-width="0.8"/>
<line x1="321.17" y1="113.75" x2="321.17" y2="115.15" stroke="#111" stroke-width="0.8"/>
<line x1="322.49" y1="113.75" x2="322.49" y2="115.15" stroke="#111" stroke-width="0.8"/>
<line x1="323.64" y1="113.75" x2="323.64" y2="115.15" stroke="#111" stroke-width="0.8"/>
<line x1="324.66" y1="113.75" x2="324.66" y2="115.15" stroke="#111" stroke-width="0.8"/>
<line x1="325.56" y1="113.75" x2="325.56" y2="116.15" stroke="#111" stroke-width="0.8"/>
<line x1="331.53" y1="113.75" x2="331.53" y2="115.15" stroke="#111" stroke-width="0.8"/>
<line x1="335.02" y1="113.75" x2="335.02" y2="115.15" stroke="#111" stroke-width="0.8"/>
<line x1="337.49" y1="113.75" x2="337.49" y2="115.15" stroke="#111" stroke-width="0.8"/>
<line x1="339.41" y1="113.75" x2="339.41" y2="115.15" stroke="#111" stroke-width="0.8"/>
<line x1="340.98" y1="113.75" x2="340.98" y2="115.15" stroke="#111" stroke-width="0.8"/>
<line x1="342.31" y1="113.75" x2="342.31" y2="115.15" stroke="#111" stroke-width="0.8"/>
<line x1="343.45" y1="113.75" x2="343.45" y2="115.15" stroke="#111" stroke-width="0.8"/>
<line x1="344.47" y1="113.75" x2="344.47" y2="115.15" stroke="#111" stroke-width="0.8"/>
<line x1="345.38" y1="113.75" x2="345.38" y2="116.15" stroke="#111" stroke-width="0.8"/>
<line x1="351.34" y1="113.75" x2="351.34" y2="115.15" stroke="#111" stroke-width="0.8"/>
<line x1="354.83" y1="113.75" x2="354.83" y2="115.15" stroke="#111" stroke-width="0.8"/>
<line x1="357.30" y1="113.75" x2="357.30" y2="115.15" stroke="#111" stroke-width="0.8"/>
<line x1="359.22" y1="113.75" x2="359.22" y2="115.15" stroke="#111" stroke-width="0.8"/>
<line x1="360.79" y1="113.75" x2="360.79" y2="115.15" stroke="#111" stroke-width="0.8"/>
<line x1="362.12" y1="113.75" x2="362.12" y2="115.15" stroke="#111" stroke-width="0.8"/>
<line x1="363.27" y1="113.75" x2="363.27" y2="115.15" stroke="#111" stroke-width="0.8"/>
<line x1="364.28" y1="113.75" x2="364.28" y2="115.15" stroke="#111" stroke-width="0.8"/>
<line x1="365.19" y1="113.75" x2="365.19" y2="116.15" stroke="#111" stroke-width="0.8"/>
<line x1="371.15" y1="113.75" x2="371.15" y2="115.15" stroke="#111" stroke-width="0.8"/>
<line x1="374.64" y1="113.75" x2="374.64" y2="115.15" stroke="#111" stroke-width="0.8"/>
<line x1="377.12" y1="113.75" x2="377.12" y2="115.15" stroke="#111" stroke-width="0.8"/>
<line x1="379.04" y1="113.75" x2="379.04" y2="115.15" stroke="#111" stroke-width="0.8"/>
<line x1="380.60" y1="113.75" x2="380.60" y2="115.15" stroke="#111" stroke-width="0.8"/>
<line x1="381.93" y1="113.75" x2="381.93" y2="115.15" stroke="#111" stroke-width="0.8"/>
<line x1="383.08" y1="113.75" x2="383.08" y2="115.15" stroke="#111" stroke-width="0.8"/>
<line x1="384.09" y1="113.75" x2="384.09" y2="115.15" stroke="#111" stroke-width="0.8"/>
<line x1="385.00" y1="113.75" x2="385.00" y2="116.15" stroke="#111" stroke-width="0.8"/>
<text x="300.15" y="126.65" font-size="8.4" textLength="8.2" lengthAdjust="spacingAndGlyphs" fill="#111">10</text><text x="308.55" y="123.35" font-size="6.2" fill="#111">0</text>
<text x="319.96" y="126.65" font-size="8.4" textLength="8.2" lengthAdjust="spacingAndGlyphs" fill="#111">10</text><text x="328.36" y="123.35" font-size="6.2" fill="#111">1</text>
<text x="339.77" y="126.65" font-size="8.4" textLength="8.2" lengthAdjust="spacingAndGlyphs" fill="#111">10</text><text x="348.18" y="123.35" font-size="6.2" fill="#111">2</text>
<text x="359.59" y="126.65" font-size="8.4" textLength="8.2" lengthAdjust="spacingAndGlyphs" fill="#111">10</text><text x="367.99" y="123.35" font-size="6.2" fill="#111">3</text>
<text x="379.40" y="126.65" font-size="8.4" textLength="8.2" lengthAdjust="spacingAndGlyphs" fill="#111">10</text><text x="387.80" y="123.35" font-size="6.2" fill="#111">4</text>
<polyline points="410.5,90.2 410.8,89.6 411.1,87.8 411.4,87.6 411.6,87.8 411.9,85.5 412.2,84.9 412.5,84.4 412.7,84.7 412.9,83.3 413.0,83.2 413.2,82.7 413.4,82.0 413.6,79.9 413.8,80.3 413.9,79.8 414.1,78.9 414.3,78.5 414.5,77.7 414.6,76.6 414.8,76.4 415.0,75.1 415.1,73.6 415.3,73.2 415.4,73.7 415.6,71.9 415.7,71.5 415.8,71.5 416.0,70.5 416.1,70.0 416.2,68.7 416.4,68.1 416.5,66.6 416.7,66.1 416.8,65.4 416.9,65.3 417.1,64.6 417.2,63.1 417.4,63.4 417.5,61.8 417.7,61.6 418.0,60.3 418.2,60.4 418.4,59.1 418.6,59.9 418.9,58.2 419.1,58.3 419.3,56.9 419.5,56.1 419.8,56.3 420.0,54.6 420.2,54.3 420.4,53.8 420.5,53.7 420.7,52.5 420.9,50.6 421.1,50.6 421.2,50.8 421.4,49.9 421.6,48.3 421.8,47.2 422.0,46.7 422.1,46.9 422.3,45.1 422.5,45.7 422.8,45.2 423.2,46.7 423.5,47.3 423.7,45.8 423.9,45.6 424.1,45.1 424.2,43.7 424.4,43.5 424.6,42.9 424.8,42.8 425.0,40.9 425.1,41.4 425.1,42.7 425.2,43.6 425.3,44.1 425.3,45.6 425.4,45.1 425.5,46.3 425.5,47.0 425.6,47.2 425.7,48.4 425.7,49.1 425.8,49.7 425.9,51.1 425.9,52.3 426.0,52.9 426.1,52.3 426.1,53.3 426.2,55.1 426.2,54.2 426.3,55.0 426.4,55.6 426.5,58.0 426.5,57.9 426.6,58.5 426.7,58.6 426.8,60.7 426.8,61.6 426.9,61.8 427.0,62.9 427.0,63.0 427.1,63.2 427.2,63.7 427.2,64.6 427.3,65.1 427.4,66.2 427.5,66.3 427.5,67.0 427.6,69.3 427.7,69.9 427.8,70.6 427.8,70.4 427.9,71.3 428.0,72.2 428.0,73.4 428.1,73.2 428.2,74.3 428.2,75.1 428.3,76.3 428.4,76.2 428.5,76.2 428.5,77.7 428.6,79.3 428.7,78.7 428.8,80.2 428.8,80.0 428.9,81.0 429.0,82.3 429.1,82.1 429.1,83.4 429.2,84.4 429.3,84.7 429.4,86.1 429.5,87.0 429.5,86.6 429.6,88.2 429.7,88.9 429.8,89.3 429.8,90.0 429.9,90.7 430.0,91.6 430.1,92.2 430.2,92.3 430.2,93.6 430.3,94.4 430.4,94.7 430.5,96.0 430.5,95.9 430.6,96.9 430.7,97.7 430.8,98.4 430.9,98.7 430.9,99.9 431.0,100.0 431.1,101.1 431.2,101.8 431.2,102.7 431.4,103.4 431.6,104.2 431.8,104.3 432.0,105.4 432.2,105.9 432.4,106.5 432.6,107.0 432.8,108.0 433.0,108.5 433.2,109.2 433.4,109.9 433.6,110.5 433.8,111.2 434.2,111.9 434.6,112.6 435.0,113.2 435.7,113.3 436.4,113.3 437.1,113.3 437.8,113.2 438.5,113.3 439.2,113.3 440.0,113.3 440.7,113.2 441.4,113.2 442.1,113.3 442.8,113.3 443.5,113.2 444.2,113.3 444.9,113.2 445.6,113.3 446.3,113.3 447.0,113.3 447.7,113.2 448.4,113.3 449.2,113.3 449.9,113.2 450.6,113.3 451.3,113.2 452.0,113.2 452.7,113.2 453.4,113.2 454.1,113.3 454.8,113.3 455.5,113.3 456.2,113.3 456.9,113.2 457.6,113.3 458.4,113.3 459.1,113.3 459.8,113.2 460.5,113.2 461.2,113.2 461.9,113.2 462.6,113.2 463.3,113.3 464.0,113.3 464.7,113.2 465.4,113.2 466.1,113.2 466.9,113.3 467.6,113.3 468.3,113.3 469.0,113.3 469.7,113.3 470.4,113.2 471.1,113.3 471.8,113.3 472.5,113.2 473.2,113.2 473.9,113.2 474.6,113.3 475.3,113.3 476.1,113.2 476.8,113.3 477.5,113.2 478.2,113.3 478.9,113.2 479.6,113.3 480.3,113.3 481.0,113.2 481.7,113.3 482.4,113.2 483.1,113.3 483.8,113.3 484.5,113.2 485.3,113.2 486.0,113.2 486.7,113.3 487.4,113.3 488.1,113.3 488.8,113.3 489.5,113.2" fill="none" stroke="#cc1236" stroke-width="1.3" stroke-linejoin="round"/>
<polyline points="410.5,106.2 410.9,105.8 411.3,104.9 411.7,104.3 412.1,103.7 412.5,103.3 412.9,102.4 413.3,101.9 413.8,101.3 413.9,100.9 414.1,99.9 414.3,99.1 414.5,98.6 414.7,97.8 414.9,97.5 415.1,96.1 415.3,95.5 415.5,94.6 415.7,94.4 415.9,94.3 416.1,93.3 416.2,92.7 416.4,92.5 416.6,91.6 416.7,90.1 416.9,89.2 417.0,89.1 417.1,87.8 417.3,87.8 417.4,86.1 417.6,86.0 417.8,85.9 417.9,84.4 418.1,83.5 418.2,83.8 418.4,82.1 418.5,82.7 418.6,81.5 418.8,81.3 418.9,80.0 419.1,79.2 419.2,78.1 419.4,77.0 419.6,77.9 419.7,75.9 419.9,74.9 420.0,75.8 420.1,74.4 420.2,73.7 420.4,73.6 420.5,72.6 420.6,71.0 420.7,70.3 420.8,70.3 421.0,69.6 421.1,68.1 421.2,67.4 421.3,67.2 421.4,65.6 421.5,66.3 421.7,65.3 421.8,63.7 421.9,63.7 422.0,63.0 422.1,61.4 422.3,61.3 422.4,61.2 422.5,59.9 422.6,59.7 422.8,58.1 422.9,58.8 423.1,57.5 423.2,56.6 423.3,55.0 423.5,54.9 423.6,53.5 423.8,53.6 423.9,52.5 424.0,51.9 424.2,51.3 424.3,50.3 424.4,49.9 424.6,49.6 424.7,48.2 424.9,48.3 425.0,48.3 425.2,47.2 425.4,46.9 425.7,44.7 425.9,45.0 426.1,43.6 426.3,44.2 426.5,42.7 426.8,42.4 426.9,43.2 427.0,42.7 427.1,43.4 427.3,45.4 427.4,46.1 427.6,46.1 427.7,46.0 427.8,46.7 427.9,48.8 428.1,49.4 428.2,49.5 428.4,50.7 428.5,51.7 428.6,50.9 428.8,52.9 428.8,54.1 428.9,54.6 429.0,55.3 429.1,55.2 429.2,56.3 429.3,56.1 429.4,58.0 429.5,58.5 429.6,58.8 429.6,58.8 429.7,59.8 429.8,60.9 429.9,62.5 430.0,62.4 430.1,63.9 430.2,63.4 430.3,64.2 430.4,64.9 430.4,65.7 430.5,67.3 430.6,67.3 430.7,67.9 430.8,69.3 430.9,69.5 431.0,71.0 431.1,71.4 431.2,72.4 431.2,72.4 431.3,73.0 431.4,73.8 431.5,75.5 431.6,76.2 431.7,76.2 431.8,76.8 431.9,76.7 432.0,78.9 432.1,79.1 432.1,79.5 432.2,79.8 432.3,81.0 432.4,82.2 432.5,82.1 432.6,82.8 432.7,83.9 432.8,84.6 432.9,84.5 432.9,85.3 433.0,86.6 433.1,87.9 433.2,88.0 433.3,88.1 433.4,89.2 433.5,89.8 433.6,91.5 433.7,91.4 433.8,93.2 433.9,92.9 434.0,93.5 434.1,94.0 434.3,95.4 434.4,96.1 434.5,97.2 434.7,97.8 434.8,98.3 434.9,98.5 435.1,100.2 435.2,100.2 435.3,100.9 435.5,101.6 435.6,102.7 435.7,103.5 435.9,104.0 436.0,104.7 436.1,105.2 436.2,106.3 436.5,107.0 436.8,107.5 437.1,108.2 437.4,109.1 437.6,109.8 437.9,110.3 438.2,111.2 438.5,111.8 438.8,112.5 439.6,112.7 440.4,113.0 441.2,113.2 442.0,113.3 442.7,113.3 443.4,113.3 444.1,113.2 444.8,113.2 445.5,113.2 446.2,113.2 446.9,113.3 447.6,113.3 448.3,113.2 449.1,113.2 449.8,113.2 450.5,113.2 451.2,113.3 451.9,113.2 452.6,113.3 453.3,113.3 454.0,113.3 454.7,113.3 455.4,113.2 456.2,113.2 456.9,113.3 457.6,113.2 458.3,113.3 459.0,113.2 459.7,113.3 460.4,113.2 461.1,113.2 461.8,113.3 462.5,113.2 463.2,113.2 464.0,113.2 464.7,113.2 465.4,113.2 466.1,113.2 466.8,113.3 467.5,113.3 468.2,113.3 468.9,113.3 469.6,113.2 470.3,113.2 471.1,113.2 471.8,113.2 472.5,113.3 473.2,113.2 473.9,113.3 474.6,113.3 475.3,113.2 476.0,113.2 476.7,113.2 477.4,113.2 478.1,113.2 478.9,113.2 479.6,113.2 480.3,113.2 481.0,113.3 481.7,113.3 482.4,113.2 483.1,113.2 483.8,113.3 484.5,113.2 485.2,113.2 486.0,113.3 486.7,113.3 487.4,113.2 488.1,113.3 488.8,113.3 489.5,113.2" fill="none" stroke="#0f4c88" stroke-width="1.3" stroke-linejoin="round"/>
<rect x="410.00" y="35.00" width="79.50" height="78.50" fill="none" stroke="#111" stroke-width="1.1"/>
<line x1="407.00" y1="113.50" x2="410.00" y2="113.50" stroke="#111" stroke-width="0.8"/>
<line x1="408.20" y1="110.50" x2="410.00" y2="110.50" stroke="#111" stroke-width="0.8"/>
<line x1="408.20" y1="107.51" x2="410.00" y2="107.51" stroke="#111" stroke-width="0.8"/>
<line x1="408.20" y1="104.51" x2="410.00" y2="104.51" stroke="#111" stroke-width="0.8"/>
<line x1="408.20" y1="101.52" x2="410.00" y2="101.52" stroke="#111" stroke-width="0.8"/>
<line x1="407.00" y1="98.52" x2="410.00" y2="98.52" stroke="#111" stroke-width="0.8"/>
<line x1="408.20" y1="95.52" x2="410.00" y2="95.52" stroke="#111" stroke-width="0.8"/>
<line x1="408.20" y1="92.53" x2="410.00" y2="92.53" stroke="#111" stroke-width="0.8"/>
<line x1="408.20" y1="89.53" x2="410.00" y2="89.53" stroke="#111" stroke-width="0.8"/>
<line x1="408.20" y1="86.54" x2="410.00" y2="86.54" stroke="#111" stroke-width="0.8"/>
<line x1="407.00" y1="83.54" x2="410.00" y2="83.54" stroke="#111" stroke-width="0.8"/>
<line x1="408.20" y1="80.54" x2="410.00" y2="80.54" stroke="#111" stroke-width="0.8"/>
<line x1="408.20" y1="77.55" x2="410.00" y2="77.55" stroke="#111" stroke-width="0.8"/>
<line x1="408.20" y1="74.55" x2="410.00" y2="74.55" stroke="#111" stroke-width="0.8"/>
<line x1="408.20" y1="71.56" x2="410.00" y2="71.56" stroke="#111" stroke-width="0.8"/>
<line x1="407.00" y1="68.56" x2="410.00" y2="68.56" stroke="#111" stroke-width="0.8"/>
<line x1="408.20" y1="65.56" x2="410.00" y2="65.56" stroke="#111" stroke-width="0.8"/>
<line x1="408.20" y1="62.57" x2="410.00" y2="62.57" stroke="#111" stroke-width="0.8"/>
<line x1="408.20" y1="59.57" x2="410.00" y2="59.57" stroke="#111" stroke-width="0.8"/>
<line x1="408.20" y1="56.58" x2="410.00" y2="56.58" stroke="#111" stroke-width="0.8"/>
<line x1="407.00" y1="53.58" x2="410.00" y2="53.58" stroke="#111" stroke-width="0.8"/>
<line x1="408.20" y1="50.58" x2="410.00" y2="50.58" stroke="#111" stroke-width="0.8"/>
<line x1="408.20" y1="47.59" x2="410.00" y2="47.59" stroke="#111" stroke-width="0.8"/>
<line x1="408.20" y1="44.59" x2="410.00" y2="44.59" stroke="#111" stroke-width="0.8"/>
<line x1="408.20" y1="41.60" x2="410.00" y2="41.60" stroke="#111" stroke-width="0.8"/>
<line x1="407.00" y1="38.60" x2="410.00" y2="38.60" stroke="#111" stroke-width="0.8"/>
<text x="404.40" y="115.73" font-size="8.42" text-anchor="end" textLength="4.10" lengthAdjust="spacingAndGlyphs">0</text>
<text x="404.40" y="100.75" font-size="8.42" text-anchor="end" textLength="8.20" lengthAdjust="spacingAndGlyphs">20</text>
<text x="404.40" y="85.77" font-size="8.42" text-anchor="end" textLength="8.20" lengthAdjust="spacingAndGlyphs">40</text>
<text x="404.40" y="70.79" font-size="8.42" text-anchor="end" textLength="8.20" lengthAdjust="spacingAndGlyphs">60</text>
<text x="404.40" y="55.81" font-size="8.42" text-anchor="end" textLength="8.20" lengthAdjust="spacingAndGlyphs">80</text>
<text x="404.40" y="40.83" font-size="8.42" text-anchor="end" textLength="12.30" lengthAdjust="spacingAndGlyphs">100</text>
<line x1="410.00" y1="113.50" x2="410.00" y2="115.90" stroke="#111" stroke-width="0.8"/>
<line x1="415.98" y1="113.50" x2="415.98" y2="114.90" stroke="#111" stroke-width="0.8"/>
<line x1="419.48" y1="113.50" x2="419.48" y2="114.90" stroke="#111" stroke-width="0.8"/>
<line x1="421.97" y1="113.50" x2="421.97" y2="114.90" stroke="#111" stroke-width="0.8"/>
<line x1="423.89" y1="113.50" x2="423.89" y2="114.90" stroke="#111" stroke-width="0.8"/>
<line x1="425.47" y1="113.50" x2="425.47" y2="114.90" stroke="#111" stroke-width="0.8"/>
<line x1="426.80" y1="113.50" x2="426.80" y2="114.90" stroke="#111" stroke-width="0.8"/>
<line x1="427.95" y1="113.50" x2="427.95" y2="114.90" stroke="#111" stroke-width="0.8"/>
<line x1="428.97" y1="113.50" x2="428.97" y2="114.90" stroke="#111" stroke-width="0.8"/>
<line x1="429.88" y1="113.50" x2="429.88" y2="115.90" stroke="#111" stroke-width="0.8"/>
<line x1="435.86" y1="113.50" x2="435.86" y2="114.90" stroke="#111" stroke-width="0.8"/>
<line x1="439.36" y1="113.50" x2="439.36" y2="114.90" stroke="#111" stroke-width="0.8"/>
<line x1="441.84" y1="113.50" x2="441.84" y2="114.90" stroke="#111" stroke-width="0.8"/>
<line x1="443.77" y1="113.50" x2="443.77" y2="114.90" stroke="#111" stroke-width="0.8"/>
<line x1="445.34" y1="113.50" x2="445.34" y2="114.90" stroke="#111" stroke-width="0.8"/>
<line x1="446.67" y1="113.50" x2="446.67" y2="114.90" stroke="#111" stroke-width="0.8"/>
<line x1="447.82" y1="113.50" x2="447.82" y2="114.90" stroke="#111" stroke-width="0.8"/>
<line x1="448.84" y1="113.50" x2="448.84" y2="114.90" stroke="#111" stroke-width="0.8"/>
<line x1="449.75" y1="113.50" x2="449.75" y2="115.90" stroke="#111" stroke-width="0.8"/>
<line x1="455.73" y1="113.50" x2="455.73" y2="114.90" stroke="#111" stroke-width="0.8"/>
<line x1="459.23" y1="113.50" x2="459.23" y2="114.90" stroke="#111" stroke-width="0.8"/>
<line x1="461.72" y1="113.50" x2="461.72" y2="114.90" stroke="#111" stroke-width="0.8"/>
<line x1="463.64" y1="113.50" x2="463.64" y2="114.90" stroke="#111" stroke-width="0.8"/>
<line x1="465.22" y1="113.50" x2="465.22" y2="114.90" stroke="#111" stroke-width="0.8"/>
<line x1="466.55" y1="113.50" x2="466.55" y2="114.90" stroke="#111" stroke-width="0.8"/>
<line x1="467.70" y1="113.50" x2="467.70" y2="114.90" stroke="#111" stroke-width="0.8"/>
<line x1="468.72" y1="113.50" x2="468.72" y2="114.90" stroke="#111" stroke-width="0.8"/>
<line x1="469.62" y1="113.50" x2="469.62" y2="115.90" stroke="#111" stroke-width="0.8"/>
<line x1="475.61" y1="113.50" x2="475.61" y2="114.90" stroke="#111" stroke-width="0.8"/>
<line x1="479.11" y1="113.50" x2="479.11" y2="114.90" stroke="#111" stroke-width="0.8"/>
<line x1="481.59" y1="113.50" x2="481.59" y2="114.90" stroke="#111" stroke-width="0.8"/>
<line x1="483.52" y1="113.50" x2="483.52" y2="114.90" stroke="#111" stroke-width="0.8"/>
<line x1="485.09" y1="113.50" x2="485.09" y2="114.90" stroke="#111" stroke-width="0.8"/>
<line x1="486.42" y1="113.50" x2="486.42" y2="114.90" stroke="#111" stroke-width="0.8"/>
<line x1="487.57" y1="113.50" x2="487.57" y2="114.90" stroke="#111" stroke-width="0.8"/>
<line x1="488.59" y1="113.50" x2="488.59" y2="114.90" stroke="#111" stroke-width="0.8"/>
<line x1="489.50" y1="113.50" x2="489.50" y2="115.90" stroke="#111" stroke-width="0.8"/>
<text x="404.40" y="126.40" font-size="8.4" textLength="8.2" lengthAdjust="spacingAndGlyphs" fill="#111">10</text><text x="412.80" y="123.10" font-size="6.2" fill="#111">0</text>
<text x="424.27" y="126.40" font-size="8.4" textLength="8.2" lengthAdjust="spacingAndGlyphs" fill="#111">10</text><text x="432.68" y="123.10" font-size="6.2" fill="#111">1</text>
<text x="444.15" y="126.40" font-size="8.4" textLength="8.2" lengthAdjust="spacingAndGlyphs" fill="#111">10</text><text x="452.55" y="123.10" font-size="6.2" fill="#111">2</text>
<text x="464.02" y="126.40" font-size="8.4" textLength="8.2" lengthAdjust="spacingAndGlyphs" fill="#111">10</text><text x="472.43" y="123.10" font-size="6.2" fill="#111">3</text>
<text x="483.90" y="126.40" font-size="8.4" textLength="8.2" lengthAdjust="spacingAndGlyphs" fill="#111">10</text><text x="492.30" y="123.10" font-size="6.2" fill="#111">4</text>
<polyline points="305.8,136.0 305.8,136.4 305.8,136.8 305.8,137.3 305.8,139.5 305.8,140.1 305.8,139.6 305.8,141.2 305.8,141.1 305.8,142.8 305.8,142.8 305.8,144.1 305.8,144.5 305.8,144.4 305.8,146.0 305.8,146.8 305.8,146.4 305.8,147.1 305.8,148.2 305.8,149.8 305.8,150.9 305.8,150.7 305.8,152.1 305.8,152.6 305.8,152.5 305.8,153.5 305.8,154.9 305.8,155.0 305.8,155.7 305.8,156.8 305.8,156.5 305.8,157.7 305.8,158.5 305.8,159.3 305.8,160.3 305.8,160.2 305.8,161.3 305.8,162.0 305.8,162.0 305.8,163.9 305.8,165.0 305.8,164.9 305.8,165.4 305.8,166.0 305.8,166.9 305.8,167.4 305.8,167.9 305.8,169.9 305.8,169.5 305.8,169.9 305.8,171.5 305.8,171.0 305.8,172.3 305.8,173.4 305.8,174.6 305.8,174.3 305.8,174.6 305.8,176.9 305.8,175.9 305.8,177.4 305.9,176.8 306.0,176.9 306.2,175.1 306.3,174.1 306.5,173.5 306.6,172.9 306.8,171.8 306.9,172.4 307.1,171.0 307.2,170.6 307.4,169.1 307.5,169.0 307.9,168.9 308.3,167.0 308.8,167.7 309.2,165.9 309.6,166.0 310.0,165.8 310.1,164.2 310.2,164.3 310.4,162.7 310.5,162.0 310.6,162.2 310.7,160.9 310.8,159.2 311.0,158.7 311.1,158.6 311.2,157.6 311.3,156.3 311.4,157.0 311.5,155.4 311.7,155.7 311.8,154.0 311.9,153.0 312.0,152.7 312.1,152.7 312.3,152.2 312.4,150.8 312.5,149.6 312.6,149.3 312.8,148.2 312.9,147.7 313.0,146.3 313.2,145.6 313.3,146.6 313.4,145.6 313.6,143.9 313.7,143.9 313.8,142.2 314.0,142.9 314.1,141.8 314.2,141.3 314.4,140.1 314.5,139.4 314.7,140.8 314.8,140.6 315.0,140.9 315.1,141.7 315.3,143.9 315.5,143.5 315.6,143.8 315.8,145.4 315.9,145.4 316.1,146.6 316.2,148.0 316.4,147.7 316.5,148.7 316.7,150.4 316.8,150.9 316.9,151.6 317.1,150.8 317.2,153.2 317.4,153.2 317.5,153.1 317.6,155.3 317.8,154.5 317.9,156.7 318.1,155.7 318.2,156.5 318.3,157.9 318.5,158.8 318.6,159.5 318.8,160.6 318.9,160.0 319.0,161.8 319.1,161.8 319.2,163.7 319.3,163.8 319.5,164.6 319.6,164.3 319.7,166.5 319.8,166.0 319.9,166.6 320.1,167.7 320.2,169.1 320.3,169.0 320.4,169.9 320.5,170.9 320.7,171.0 320.8,171.5 320.9,172.7 321.0,174.0 321.1,174.6 321.2,174.5 321.4,176.0 321.4,177.0 321.6,177.5 321.6,177.2 321.8,177.7 321.9,180.1 321.9,180.3 322.1,180.2 322.1,181.7 322.2,182.1 322.4,182.9 322.4,183.1 322.6,184.4 322.6,184.6 322.8,185.3 322.9,185.9 322.9,187.3 323.1,188.2 323.1,187.9 323.2,188.3 323.4,189.3 323.4,190.8 323.6,190.9 323.6,191.1 323.8,193.0 323.9,193.1 324.1,193.3 324.2,194.9 324.4,195.3 324.5,196.4 324.7,197.1 324.8,197.8 325.0,198.5 325.2,198.7 325.3,199.8 325.5,200.2 325.6,201.1 325.8,201.4 325.9,202.4 326.1,202.8 326.2,204.0 326.5,204.3 326.8,205.2 327.1,206.0 327.4,206.7 327.6,207.3 327.9,207.9 328.2,208.5 328.5,209.4 328.8,210.0 329.4,210.5 330.0,211.0 330.6,211.5 331.2,212.0 332.0,212.0 332.7,212.0 333.4,212.0 334.1,212.0 334.8,212.0 335.5,212.0 336.2,212.0 336.9,212.0 337.6,212.0 338.3,212.0 339.0,212.0 339.7,212.0 340.4,212.0 341.2,212.0 341.9,212.0 342.6,212.0 343.3,212.0 344.0,212.0 344.7,212.0 345.4,212.0 346.1,212.0 346.8,212.0 347.5,212.0 348.2,212.0 348.9,212.0 349.6,212.0 350.3,212.0 351.1,212.0 351.8,212.0 352.5,212.0 353.2,212.0 353.9,212.0 354.6,212.0 355.3,212.0 356.0,212.0 356.7,212.0 357.4,212.0 358.1,212.0 358.8,212.0 359.5,212.0 360.2,212.0 361.0,212.0 361.7,212.0 362.4,212.0 363.1,212.0 363.8,212.0 364.5,212.0 365.2,212.0 365.9,212.0 366.6,212.0 367.3,212.0 368.0,212.0 368.7,212.0 369.4,212.0 370.1,212.0 370.9,212.0 371.6,212.0 372.3,212.0 373.0,212.0 373.7,212.0 374.4,212.0 375.1,212.0 375.8,212.0 376.5,212.0 377.2,212.0 377.9,212.0 378.6,212.0 379.3,212.0 380.0,212.0 380.8,212.0 381.5,212.0 382.2,212.0 382.9,212.0 383.6,212.0 384.3,212.0 385.0,212.0" fill="none" stroke="#cc1236" stroke-width="1.3" stroke-linejoin="round"/>
<polyline points="305.9,209.5 306.5,209.1 307.2,208.6 307.9,208.0 308.5,207.6 309.1,207.1 309.8,206.3 310.4,205.8 311.1,205.5 311.7,204.7 312.0,204.0 312.2,203.4 312.5,202.3 312.8,201.7 313.1,201.5 313.3,200.2 313.6,200.0 313.9,198.5 314.2,198.1 314.5,197.6 314.8,196.7 315.1,196.7 315.3,196.0 315.6,194.5 315.9,193.6 316.2,194.0 316.5,193.1 316.8,192.0 317.0,190.6 317.1,189.8 317.3,190.2 317.5,189.5 317.7,188.4 317.8,187.5 318.0,186.7 318.2,186.2 318.4,185.6 318.5,185.2 318.7,184.1 318.8,183.3 319.0,182.3 319.1,182.4 319.3,182.1 319.4,180.1 319.6,180.4 319.7,179.4 319.8,177.9 320.0,177.0 320.1,177.5 320.3,175.6 320.4,174.8 320.6,174.0 320.7,174.6 320.8,173.1 320.9,171.7 321.0,171.5 321.1,171.2 321.2,170.4 321.3,169.1 321.4,169.6 321.5,168.7 321.6,167.2 321.8,166.6 321.9,165.7 322.0,164.6 322.1,165.0 322.2,163.6 322.3,163.6 322.4,163.2 322.5,161.6 322.6,160.8 322.7,160.3 322.8,159.8 323.0,158.3 323.1,158.2 323.2,157.4 323.3,156.3 323.4,156.9 323.5,156.0 323.7,154.9 323.8,153.4 323.9,153.9 324.0,152.5 324.1,152.7 324.2,151.5 324.3,150.0 324.4,150.2 324.5,149.2 324.7,149.5 324.9,151.0 325.0,150.9 325.2,151.4 325.3,150.4 325.5,150.7 325.6,149.3 325.7,148.4 325.9,147.4 326.0,148.0 326.1,146.3 326.3,146.6 326.4,145.9 326.7,145.1 327.0,143.4 327.3,144.1 327.5,142.8 327.8,142.6 328.1,142.1 328.4,140.4 328.6,141.2 328.7,142.9 328.9,142.5 329.1,142.9 329.3,143.5 329.4,145.2 329.6,145.5 329.7,147.3 329.7,146.3 329.8,147.7 329.9,149.0 330.0,149.5 330.0,150.7 330.1,151.0 330.2,152.2 330.2,153.0 330.3,153.6 330.4,153.8 330.5,154.2 330.5,155.1 330.6,155.3 330.7,156.0 330.8,157.2 330.8,157.8 330.9,158.4 331.0,158.5 331.1,160.9 331.1,160.4 331.2,161.3 331.3,161.8 331.4,162.9 331.5,164.0 331.5,165.0 331.6,165.0 331.7,166.3 331.8,166.0 331.9,166.9 331.9,167.4 332.0,169.2 332.1,168.4 332.2,169.2 332.2,170.9 332.3,170.7 332.4,171.0 332.5,172.3 332.6,173.1 332.6,173.8 332.7,174.1 332.8,175.0 332.9,175.6 333.0,176.1 333.1,177.4 333.2,177.6 333.3,178.2 333.3,180.3 333.4,180.9 333.5,180.7 333.6,181.7 333.7,181.6 333.8,182.1 333.9,183.7 334.0,185.2 334.1,184.3 334.2,185.7 334.3,187.0 334.3,186.3 334.4,188.1 334.5,188.2 334.6,189.7 334.7,190.5 334.8,191.3 334.9,191.8 335.0,191.5 335.2,193.1 335.3,193.7 335.4,194.0 335.5,194.6 335.6,195.7 335.8,196.4 335.9,197.1 336.0,198.3 336.1,198.3 336.2,199.6 336.3,199.7 336.5,200.9 336.6,201.4 336.7,202.1 336.9,202.9 337.1,203.4 337.3,204.2 337.5,205.0 337.8,205.6 338.0,206.6 338.2,207.2 338.4,207.9 338.6,208.6 339.1,209.3 339.6,210.0 340.0,210.7 340.5,211.5 341.2,211.7 342.0,212.0 342.7,212.0 343.4,212.0 344.1,212.0 344.8,212.0 345.5,212.0 346.2,212.0 346.9,212.0 347.6,212.0 348.3,212.0 349.0,212.0 349.8,212.0 350.5,212.0 351.2,212.0 351.9,212.0 352.6,212.0 353.3,212.0 354.0,212.0 354.7,212.0 355.4,212.0 356.1,212.0 356.8,212.0 357.5,212.0 358.2,212.0 358.9,212.0 359.6,212.0 360.3,212.0 361.0,212.0 361.7,212.0 362.4,212.0 363.1,212.0 363.9,212.0 364.6,212.0 365.3,212.0 366.0,212.0 366.7,212.0 367.4,212.0 368.1,212.0 368.8,212.0 369.5,212.0 370.2,212.0 370.9,212.0 371.6,212.0 372.3,212.0 373.0,212.0 373.7,212.0 374.4,212.0 375.1,212.0 375.8,212.0 376.5,212.0 377.2,212.0 378.0,212.0 378.7,212.0 379.4,212.0 380.1,212.0 380.8,212.0 381.5,212.0 382.2,212.0 382.9,212.0 383.6,212.0 384.3,212.0 385.0,212.0" fill="none" stroke="#0f4c88" stroke-width="1.3" stroke-linejoin="round"/>
<rect x="305.75" y="133.75" width="79.25" height="78.25" fill="none" stroke="#111" stroke-width="1.1"/>
<line x1="302.75" y1="212.00" x2="305.75" y2="212.00" stroke="#111" stroke-width="0.8"/>
<line x1="303.95" y1="209.01" x2="305.75" y2="209.01" stroke="#111" stroke-width="0.8"/>
<line x1="303.95" y1="206.03" x2="305.75" y2="206.03" stroke="#111" stroke-width="0.8"/>
<line x1="303.95" y1="203.04" x2="305.75" y2="203.04" stroke="#111" stroke-width="0.8"/>
<line x1="303.95" y1="200.06" x2="305.75" y2="200.06" stroke="#111" stroke-width="0.8"/>
<line x1="302.75" y1="197.07" x2="305.75" y2="197.07" stroke="#111" stroke-width="0.8"/>
<line x1="303.95" y1="194.08" x2="305.75" y2="194.08" stroke="#111" stroke-width="0.8"/>
<line x1="303.95" y1="191.10" x2="305.75" y2="191.10" stroke="#111" stroke-width="0.8"/>
<line x1="303.95" y1="188.11" x2="305.75" y2="188.11" stroke="#111" stroke-width="0.8"/>
<line x1="303.95" y1="185.13" x2="305.75" y2="185.13" stroke="#111" stroke-width="0.8"/>
<line x1="302.75" y1="182.14" x2="305.75" y2="182.14" stroke="#111" stroke-width="0.8"/>
<line x1="303.95" y1="179.15" x2="305.75" y2="179.15" stroke="#111" stroke-width="0.8"/>
<line x1="303.95" y1="176.17" x2="305.75" y2="176.17" stroke="#111" stroke-width="0.8"/>
<line x1="303.95" y1="173.18" x2="305.75" y2="173.18" stroke="#111" stroke-width="0.8"/>
<line x1="303.95" y1="170.20" x2="305.75" y2="170.20" stroke="#111" stroke-width="0.8"/>
<line x1="302.75" y1="167.21" x2="305.75" y2="167.21" stroke="#111" stroke-width="0.8"/>
<line x1="303.95" y1="164.22" x2="305.75" y2="164.22" stroke="#111" stroke-width="0.8"/>
<line x1="303.95" y1="161.24" x2="305.75" y2="161.24" stroke="#111" stroke-width="0.8"/>
<line x1="303.95" y1="158.25" x2="305.75" y2="158.25" stroke="#111" stroke-width="0.8"/>
<line x1="303.95" y1="155.27" x2="305.75" y2="155.27" stroke="#111" stroke-width="0.8"/>
<line x1="302.75" y1="152.28" x2="305.75" y2="152.28" stroke="#111" stroke-width="0.8"/>
<line x1="303.95" y1="149.29" x2="305.75" y2="149.29" stroke="#111" stroke-width="0.8"/>
<line x1="303.95" y1="146.31" x2="305.75" y2="146.31" stroke="#111" stroke-width="0.8"/>
<line x1="303.95" y1="143.32" x2="305.75" y2="143.32" stroke="#111" stroke-width="0.8"/>
<line x1="303.95" y1="140.34" x2="305.75" y2="140.34" stroke="#111" stroke-width="0.8"/>
<line x1="302.75" y1="137.35" x2="305.75" y2="137.35" stroke="#111" stroke-width="0.8"/>
<text x="300.15" y="214.23" font-size="8.42" text-anchor="end" textLength="4.10" lengthAdjust="spacingAndGlyphs">0</text>
<text x="300.15" y="199.30" font-size="8.42" text-anchor="end" textLength="8.20" lengthAdjust="spacingAndGlyphs">20</text>
<text x="300.15" y="184.37" font-size="8.42" text-anchor="end" textLength="8.20" lengthAdjust="spacingAndGlyphs">40</text>
<text x="300.15" y="169.44" font-size="8.42" text-anchor="end" textLength="8.20" lengthAdjust="spacingAndGlyphs">60</text>
<text x="300.15" y="154.51" font-size="8.42" text-anchor="end" textLength="8.20" lengthAdjust="spacingAndGlyphs">80</text>
<text x="300.15" y="139.58" font-size="8.42" text-anchor="end" textLength="12.30" lengthAdjust="spacingAndGlyphs">100</text>
<line x1="305.75" y1="212.00" x2="305.75" y2="214.40" stroke="#111" stroke-width="0.8"/>
<line x1="311.71" y1="212.00" x2="311.71" y2="213.40" stroke="#111" stroke-width="0.8"/>
<line x1="315.20" y1="212.00" x2="315.20" y2="213.40" stroke="#111" stroke-width="0.8"/>
<line x1="317.68" y1="212.00" x2="317.68" y2="213.40" stroke="#111" stroke-width="0.8"/>
<line x1="319.60" y1="212.00" x2="319.60" y2="213.40" stroke="#111" stroke-width="0.8"/>
<line x1="321.17" y1="212.00" x2="321.17" y2="213.40" stroke="#111" stroke-width="0.8"/>
<line x1="322.49" y1="212.00" x2="322.49" y2="213.40" stroke="#111" stroke-width="0.8"/>
<line x1="323.64" y1="212.00" x2="323.64" y2="213.40" stroke="#111" stroke-width="0.8"/>
<line x1="324.66" y1="212.00" x2="324.66" y2="213.40" stroke="#111" stroke-width="0.8"/>
<line x1="325.56" y1="212.00" x2="325.56" y2="214.40" stroke="#111" stroke-width="0.8"/>
<line x1="331.53" y1="212.00" x2="331.53" y2="213.40" stroke="#111" stroke-width="0.8"/>
<line x1="335.02" y1="212.00" x2="335.02" y2="213.40" stroke="#111" stroke-width="0.8"/>
<line x1="337.49" y1="212.00" x2="337.49" y2="213.40" stroke="#111" stroke-width="0.8"/>
<line x1="339.41" y1="212.00" x2="339.41" y2="213.40" stroke="#111" stroke-width="0.8"/>
<line x1="340.98" y1="212.00" x2="340.98" y2="213.40" stroke="#111" stroke-width="0.8"/>
<line x1="342.31" y1="212.00" x2="342.31" y2="213.40" stroke="#111" stroke-width="0.8"/>
<line x1="343.45" y1="212.00" x2="343.45" y2="213.40" stroke="#111" stroke-width="0.8"/>
<line x1="344.47" y1="212.00" x2="344.47" y2="213.40" stroke="#111" stroke-width="0.8"/>
<line x1="345.38" y1="212.00" x2="345.38" y2="214.40" stroke="#111" stroke-width="0.8"/>
<line x1="351.34" y1="212.00" x2="351.34" y2="213.40" stroke="#111" stroke-width="0.8"/>
<line x1="354.83" y1="212.00" x2="354.83" y2="213.40" stroke="#111" stroke-width="0.8"/>
<line x1="357.30" y1="212.00" x2="357.30" y2="213.40" stroke="#111" stroke-width="0.8"/>
<line x1="359.22" y1="212.00" x2="359.22" y2="213.40" stroke="#111" stroke-width="0.8"/>
<line x1="360.79" y1="212.00" x2="360.79" y2="213.40" stroke="#111" stroke-width="0.8"/>
<line x1="362.12" y1="212.00" x2="362.12" y2="213.40" stroke="#111" stroke-width="0.8"/>
<line x1="363.27" y1="212.00" x2="363.27" y2="213.40" stroke="#111" stroke-width="0.8"/>
<line x1="364.28" y1="212.00" x2="364.28" y2="213.40" stroke="#111" stroke-width="0.8"/>
<line x1="365.19" y1="212.00" x2="365.19" y2="214.40" stroke="#111" stroke-width="0.8"/>
<line x1="371.15" y1="212.00" x2="371.15" y2="213.40" stroke="#111" stroke-width="0.8"/>
<line x1="374.64" y1="212.00" x2="374.64" y2="213.40" stroke="#111" stroke-width="0.8"/>
<line x1="377.12" y1="212.00" x2="377.12" y2="213.40" stroke="#111" stroke-width="0.8"/>
<line x1="379.04" y1="212.00" x2="379.04" y2="213.40" stroke="#111" stroke-width="0.8"/>
<line x1="380.60" y1="212.00" x2="380.60" y2="213.40" stroke="#111" stroke-width="0.8"/>
<line x1="381.93" y1="212.00" x2="381.93" y2="213.40" stroke="#111" stroke-width="0.8"/>
<line x1="383.08" y1="212.00" x2="383.08" y2="213.40" stroke="#111" stroke-width="0.8"/>
<line x1="384.09" y1="212.00" x2="384.09" y2="213.40" stroke="#111" stroke-width="0.8"/>
<line x1="385.00" y1="212.00" x2="385.00" y2="214.40" stroke="#111" stroke-width="0.8"/>
<text x="300.15" y="224.90" font-size="8.4" textLength="8.2" lengthAdjust="spacingAndGlyphs" fill="#111">10</text><text x="308.55" y="221.60" font-size="6.2" fill="#111">0</text>
<text x="319.96" y="224.90" font-size="8.4" textLength="8.2" lengthAdjust="spacingAndGlyphs" fill="#111">10</text><text x="328.36" y="221.60" font-size="6.2" fill="#111">1</text>
<text x="339.77" y="224.90" font-size="8.4" textLength="8.2" lengthAdjust="spacingAndGlyphs" fill="#111">10</text><text x="348.18" y="221.60" font-size="6.2" fill="#111">2</text>
<text x="359.59" y="224.90" font-size="8.4" textLength="8.2" lengthAdjust="spacingAndGlyphs" fill="#111">10</text><text x="367.99" y="221.60" font-size="6.2" fill="#111">3</text>
<text x="379.40" y="224.90" font-size="8.4" textLength="8.2" lengthAdjust="spacingAndGlyphs" fill="#111">10</text><text x="387.80" y="221.60" font-size="6.2" fill="#111">4</text>
<polyline points="410.9,135.5 410.9,136.9 410.9,138.0 410.9,137.8 410.9,138.7 410.9,139.7 410.9,140.6 410.9,140.5 410.9,141.3 410.9,141.7 410.9,143.0 410.9,144.9 410.9,144.1 410.9,145.9 410.9,146.4 410.9,147.5 410.9,148.1 410.9,147.4 410.9,148.6 410.9,150.2 410.9,150.6 410.9,151.7 410.9,150.9 410.9,153.0 410.9,153.0 410.9,154.4 410.9,154.7 410.9,155.0 410.9,156.0 410.9,155.8 410.9,158.1 410.9,158.7 410.9,159.0 410.9,159.7 410.9,160.6 410.9,160.8 410.9,161.1 410.9,162.6 410.9,163.9 410.9,164.4 410.9,164.9 410.9,164.5 410.9,165.5 410.9,166.1 410.9,167.3 410.9,168.6 410.9,168.8 410.9,169.5 410.9,169.9 410.9,170.2 410.9,171.0 410.9,173.0 410.9,173.6 410.9,173.8 410.9,174.6 410.9,174.5 410.9,174.8 410.9,175.5 410.9,176.2 410.9,177.2 410.9,179.3 410.9,179.3 410.9,179.4 410.9,179.9 410.9,180.4 410.9,181.1 411.1,180.6 411.2,180.3 411.4,179.3 411.6,178.7 411.7,178.7 411.7,177.1 411.8,176.4 411.8,176.8 411.9,175.2 411.9,175.1 412.0,173.7 412.1,173.8 412.1,171.8 412.2,171.5 412.2,171.9 412.3,170.1 412.3,170.0 412.4,168.5 412.4,167.6 412.5,167.5 412.6,166.8 412.7,165.4 412.9,165.6 413.0,164.7 413.1,163.8 413.2,163.9 413.3,163.4 413.4,161.8 413.6,160.9 413.7,161.1 413.8,160.4 414.0,159.2 414.2,158.6 414.4,157.4 414.5,157.4 414.7,156.4 414.9,156.2 415.1,154.4 415.4,153.3 415.6,154.0 415.9,152.8 416.2,152.4 416.5,151.6 416.7,150.9 417.0,149.4 417.5,149.7 417.9,148.6 418.4,147.6 418.9,146.5 419.5,145.7 420.2,145.3 420.8,144.9 421.5,144.2 421.6,145.4 421.6,146.8 421.7,146.8 421.8,147.7 421.8,147.2 421.9,149.2 422.0,149.6 422.0,150.8 422.1,150.7 422.2,152.0 422.3,152.4 422.5,153.6 422.6,153.6 422.7,155.0 422.8,155.8 422.9,155.9 423.0,156.5 423.2,157.6 423.3,157.9 423.4,159.4 423.5,160.1 423.6,160.0 423.7,161.0 423.8,160.7 423.9,162.8 423.9,163.0 424.0,162.6 424.1,163.3 424.2,165.5 424.3,166.1 424.4,166.5 424.5,166.9 424.5,167.3 424.6,168.5 424.7,170.0 424.8,170.3 424.9,170.0 424.9,171.0 425.0,171.6 425.1,173.7 425.1,174.4 425.2,175.3 425.3,175.2 425.4,175.7 425.4,175.9 425.5,177.0 425.5,177.9 425.6,178.7 425.6,179.3 425.7,180.7 425.8,181.7 425.8,181.6 425.9,183.1 425.9,182.8 426.0,183.5 426.0,185.2 426.1,184.6 426.1,185.3 426.2,187.7 426.3,187.5 426.3,188.1 426.4,189.4 426.4,190.3 426.5,190.2 426.5,191.6 426.6,191.3 426.6,193.1 426.7,193.1 426.8,193.8 426.8,194.1 426.9,194.9 426.9,196.0 427.0,196.4 427.0,197.7 427.1,198.8 427.1,198.8 427.2,199.9 427.3,200.5 427.4,201.3 427.5,202.1 427.6,202.7 427.7,203.6 427.9,204.0 428.0,205.0 428.1,205.6 428.2,206.3 428.3,207.0 428.4,208.0 428.5,208.6 429.0,209.3 429.4,210.1 429.9,210.8 430.4,211.5 431.2,211.7 432.0,212.0 432.7,212.0 433.4,212.0 434.1,212.0 434.8,212.0 435.5,212.0 436.2,212.0 436.9,212.0 437.6,212.0 438.3,212.0 439.0,212.0 439.7,212.0 440.4,212.0 441.1,212.0 441.8,212.0 442.5,212.0 443.2,212.0 443.9,212.0 444.6,212.0 445.3,212.0 446.0,212.0 446.7,212.0 447.4,212.0 448.1,212.0 448.8,212.0 449.5,212.0 450.2,212.0 450.9,212.0 451.6,212.0 452.3,212.0 453.0,212.0 453.7,212.0 454.4,212.0 455.1,212.0 455.8,212.0 456.5,212.0 457.2,212.0 457.9,212.0 458.6,212.0 459.3,212.0 460.0,212.0 460.8,212.0 461.5,212.0 462.2,212.0 462.9,212.0 463.6,212.0 464.3,212.0 465.0,212.0 465.7,212.0 466.4,212.0 467.1,212.0 467.8,212.0 468.5,212.0 469.2,212.0 469.9,212.0 470.6,212.0 471.3,212.0 472.0,212.0 472.7,212.0 473.4,212.0 474.1,212.0 474.8,212.0 475.5,212.0 476.2,212.0 476.9,212.0 477.6,212.0 478.3,212.0 479.0,212.0 479.7,212.0 480.4,212.0 481.1,212.0 481.8,212.0 482.5,212.0 483.2,212.0 483.9,212.0 484.6,212.0 485.3,212.0 486.0,212.0 486.7,212.0 487.4,212.0 488.1,212.0 488.8,212.0 489.5,212.0" fill="none" stroke="#cc1236" stroke-width="1.3" stroke-linejoin="round"/>
<polyline points="411.8,210.6 412.5,210.5 413.3,210.3 414.0,210.4 414.8,210.2 415.5,210.1 416.3,210.0 417.0,209.9 417.7,209.7 418.5,209.5 419.2,209.4 419.9,209.2 420.6,209.1 421.4,208.9 422.1,208.7 422.9,208.3 423.7,208.0 424.5,207.8 425.3,207.5 425.8,206.8 426.3,206.5 426.9,205.8 427.4,205.1 427.9,204.8 428.1,204.3 428.3,203.4 428.5,202.9 428.7,202.2 429.0,201.5 429.2,200.4 429.4,200.2 429.6,198.7 429.8,198.4 429.9,197.2 430.1,196.8 430.2,196.6 430.3,195.8 430.5,195.3 430.6,194.1 430.8,193.3 430.9,192.0 431.0,191.8 431.2,191.7 431.3,190.1 431.4,190.1 431.6,188.5 431.7,188.6 431.8,186.8 431.9,187.5 432.0,185.3 432.1,184.5 432.2,184.7 432.3,184.4 432.4,183.5 432.5,182.3 432.6,182.1 432.6,180.5 432.7,180.0 432.8,179.3 432.9,178.4 433.0,177.4 433.1,177.0 433.2,176.9 433.3,176.3 433.4,175.1 433.5,174.9 433.6,173.7 433.7,173.8 433.8,171.7 433.8,172.3 433.9,171.9 434.0,170.6 434.1,170.0 434.2,169.9 434.2,167.6 434.3,166.8 434.4,166.9 434.5,166.5 434.6,165.5 434.6,164.7 434.7,163.9 434.8,163.2 434.9,163.2 435.0,161.1 435.0,161.4 435.1,159.7 435.2,160.3 435.3,158.5 435.4,158.8 435.4,157.2 435.5,157.1 435.6,156.1 435.7,156.2 435.8,154.6 435.9,153.9 436.0,153.2 436.1,152.0 436.2,152.5 436.3,150.7 436.4,149.7 436.5,149.0 436.6,149.2 436.7,148.9 436.8,147.6 436.9,147.5 437.0,145.5 437.1,145.9 437.2,145.0 437.4,143.2 437.5,142.2 437.7,142.1 437.9,141.3 438.0,140.7 438.2,140.3 438.3,138.7 438.5,138.0 438.7,138.9 438.8,139.3 439.0,140.6 439.1,141.6 439.3,141.8 439.5,142.3 439.6,144.2 439.8,143.8 439.9,145.9 440.0,146.2 440.0,146.2 440.1,146.5 440.2,148.7 440.3,148.0 440.4,150.0 440.5,150.4 440.5,151.4 440.6,151.2 440.7,152.9 440.8,152.8 440.9,154.1 440.9,155.5 441.0,155.5 441.1,155.5 441.2,156.3 441.2,157.3 441.3,158.8 441.4,159.4 441.4,159.4 441.5,160.5 441.6,160.7 441.6,161.7 441.7,162.1 441.8,163.9 441.9,163.6 441.9,164.2 442.0,165.4 442.1,165.4 442.1,165.9 442.2,167.2 442.3,168.6 442.3,168.5 442.4,169.0 442.5,169.7 442.5,171.0 442.6,171.1 442.7,172.3 442.8,173.0 442.8,172.8 442.9,174.1 443.0,175.7 443.1,175.3 443.2,177.0 443.3,176.5 443.3,178.0 443.4,178.6 443.5,179.7 443.6,179.3 443.7,180.2 443.8,181.4 443.8,183.1 443.9,183.1 444.0,184.4 444.1,184.5 444.2,186.1 444.3,185.2 444.3,187.3 444.4,186.9 444.5,187.6 444.6,188.8 444.7,189.4 444.8,191.0 444.9,191.6 445.0,192.0 445.1,192.0 445.2,192.7 445.3,193.7 445.4,194.2 445.5,194.8 445.6,195.5 445.7,196.3 445.8,197.1 445.9,197.6 446.0,198.5 446.1,199.8 446.2,200.4 446.3,200.9 446.4,201.8 446.5,202.5 446.7,202.6 447.0,203.3 447.2,204.2 447.4,205.0 447.6,205.9 447.9,206.2 448.1,207.2 448.3,207.9 448.5,208.4 448.8,209.3 449.0,210.0 449.6,210.3 450.3,210.8 451.0,211.2 451.6,211.6 452.3,211.6 453.0,211.6 453.7,211.6 454.4,211.6 455.1,211.6 455.8,211.6 456.5,211.7 457.2,211.7 457.9,211.7 458.6,211.7 459.3,211.7 460.0,211.7 460.7,211.7 461.4,211.7 462.1,211.7 462.8,211.7 463.5,211.7 464.2,211.7 464.9,211.7 465.6,211.7 466.3,211.8 467.0,211.8 467.7,211.8 468.4,211.8 469.1,211.8 469.8,211.8 470.6,211.8 471.3,211.8 472.0,211.8 472.7,211.8 473.4,211.8 474.1,211.8 474.8,211.8 475.5,211.8 476.2,211.9 476.9,211.9 477.6,211.9 478.3,211.9 479.0,211.9 479.7,211.9 480.4,211.9 481.1,211.9 481.8,211.9 482.5,211.9 483.2,211.9 483.9,211.9 484.6,211.9 485.3,212.0 486.0,212.0 486.7,212.0 487.4,212.0 488.1,212.0 488.8,212.0 489.5,212.0" fill="none" stroke="#0f4c88" stroke-width="1.3" stroke-linejoin="round"/>
<rect x="410.50" y="133.75" width="79.00" height="78.25" fill="none" stroke="#111" stroke-width="1.1"/>
<line x1="407.50" y1="212.00" x2="410.50" y2="212.00" stroke="#111" stroke-width="0.8"/>
<line x1="408.70" y1="209.01" x2="410.50" y2="209.01" stroke="#111" stroke-width="0.8"/>
<line x1="408.70" y1="206.03" x2="410.50" y2="206.03" stroke="#111" stroke-width="0.8"/>
<line x1="408.70" y1="203.04" x2="410.50" y2="203.04" stroke="#111" stroke-width="0.8"/>
<line x1="408.70" y1="200.06" x2="410.50" y2="200.06" stroke="#111" stroke-width="0.8"/>
<line x1="407.50" y1="197.07" x2="410.50" y2="197.07" stroke="#111" stroke-width="0.8"/>
<line x1="408.70" y1="194.08" x2="410.50" y2="194.08" stroke="#111" stroke-width="0.8"/>
<line x1="408.70" y1="191.10" x2="410.50" y2="191.10" stroke="#111" stroke-width="0.8"/>
<line x1="408.70" y1="188.11" x2="410.50" y2="188.11" stroke="#111" stroke-width="0.8"/>
<line x1="408.70" y1="185.13" x2="410.50" y2="185.13" stroke="#111" stroke-width="0.8"/>
<line x1="407.50" y1="182.14" x2="410.50" y2="182.14" stroke="#111" stroke-width="0.8"/>
<line x1="408.70" y1="179.15" x2="410.50" y2="179.15" stroke="#111" stroke-width="0.8"/>
<line x1="408.70" y1="176.17" x2="410.50" y2="176.17" stroke="#111" stroke-width="0.8"/>
<line x1="408.70" y1="173.18" x2="410.50" y2="173.18" stroke="#111" stroke-width="0.8"/>
<line x1="408.70" y1="170.20" x2="410.50" y2="170.20" stroke="#111" stroke-width="0.8"/>
<line x1="407.50" y1="167.21" x2="410.50" y2="167.21" stroke="#111" stroke-width="0.8"/>
<line x1="408.70" y1="164.22" x2="410.50" y2="164.22" stroke="#111" stroke-width="0.8"/>
<line x1="408.70" y1="161.24" x2="410.50" y2="161.24" stroke="#111" stroke-width="0.8"/>
<line x1="408.70" y1="158.25" x2="410.50" y2="158.25" stroke="#111" stroke-width="0.8"/>
<line x1="408.70" y1="155.27" x2="410.50" y2="155.27" stroke="#111" stroke-width="0.8"/>
<line x1="407.50" y1="152.28" x2="410.50" y2="152.28" stroke="#111" stroke-width="0.8"/>
<line x1="408.70" y1="149.29" x2="410.50" y2="149.29" stroke="#111" stroke-width="0.8"/>
<line x1="408.70" y1="146.31" x2="410.50" y2="146.31" stroke="#111" stroke-width="0.8"/>
<line x1="408.70" y1="143.32" x2="410.50" y2="143.32" stroke="#111" stroke-width="0.8"/>
<line x1="408.70" y1="140.34" x2="410.50" y2="140.34" stroke="#111" stroke-width="0.8"/>
<line x1="407.50" y1="137.35" x2="410.50" y2="137.35" stroke="#111" stroke-width="0.8"/>
<text x="404.90" y="214.23" font-size="8.42" text-anchor="end" textLength="4.10" lengthAdjust="spacingAndGlyphs">0</text>
<text x="404.90" y="199.30" font-size="8.42" text-anchor="end" textLength="8.20" lengthAdjust="spacingAndGlyphs">20</text>
<text x="404.90" y="184.37" font-size="8.42" text-anchor="end" textLength="8.20" lengthAdjust="spacingAndGlyphs">40</text>
<text x="404.90" y="169.44" font-size="8.42" text-anchor="end" textLength="8.20" lengthAdjust="spacingAndGlyphs">60</text>
<text x="404.90" y="154.51" font-size="8.42" text-anchor="end" textLength="8.20" lengthAdjust="spacingAndGlyphs">80</text>
<text x="404.90" y="139.58" font-size="8.42" text-anchor="end" textLength="12.30" lengthAdjust="spacingAndGlyphs">100</text>
<line x1="410.50" y1="212.00" x2="410.50" y2="214.40" stroke="#111" stroke-width="0.8"/>
<line x1="416.45" y1="212.00" x2="416.45" y2="213.40" stroke="#111" stroke-width="0.8"/>
<line x1="419.92" y1="212.00" x2="419.92" y2="213.40" stroke="#111" stroke-width="0.8"/>
<line x1="422.39" y1="212.00" x2="422.39" y2="213.40" stroke="#111" stroke-width="0.8"/>
<line x1="424.30" y1="212.00" x2="424.30" y2="213.40" stroke="#111" stroke-width="0.8"/>
<line x1="425.87" y1="212.00" x2="425.87" y2="213.40" stroke="#111" stroke-width="0.8"/>
<line x1="427.19" y1="212.00" x2="427.19" y2="213.40" stroke="#111" stroke-width="0.8"/>
<line x1="428.34" y1="212.00" x2="428.34" y2="213.40" stroke="#111" stroke-width="0.8"/>
<line x1="429.35" y1="212.00" x2="429.35" y2="213.40" stroke="#111" stroke-width="0.8"/>
<line x1="430.25" y1="212.00" x2="430.25" y2="214.40" stroke="#111" stroke-width="0.8"/>
<line x1="436.20" y1="212.00" x2="436.20" y2="213.40" stroke="#111" stroke-width="0.8"/>
<line x1="439.67" y1="212.00" x2="439.67" y2="213.40" stroke="#111" stroke-width="0.8"/>
<line x1="442.14" y1="212.00" x2="442.14" y2="213.40" stroke="#111" stroke-width="0.8"/>
<line x1="444.05" y1="212.00" x2="444.05" y2="213.40" stroke="#111" stroke-width="0.8"/>
<line x1="445.62" y1="212.00" x2="445.62" y2="213.40" stroke="#111" stroke-width="0.8"/>
<line x1="446.94" y1="212.00" x2="446.94" y2="213.40" stroke="#111" stroke-width="0.8"/>
<line x1="448.09" y1="212.00" x2="448.09" y2="213.40" stroke="#111" stroke-width="0.8"/>
<line x1="449.10" y1="212.00" x2="449.10" y2="213.40" stroke="#111" stroke-width="0.8"/>
<line x1="450.00" y1="212.00" x2="450.00" y2="214.40" stroke="#111" stroke-width="0.8"/>
<line x1="455.95" y1="212.00" x2="455.95" y2="213.40" stroke="#111" stroke-width="0.8"/>
<line x1="459.42" y1="212.00" x2="459.42" y2="213.40" stroke="#111" stroke-width="0.8"/>
<line x1="461.89" y1="212.00" x2="461.89" y2="213.40" stroke="#111" stroke-width="0.8"/>
<line x1="463.80" y1="212.00" x2="463.80" y2="213.40" stroke="#111" stroke-width="0.8"/>
<line x1="465.37" y1="212.00" x2="465.37" y2="213.40" stroke="#111" stroke-width="0.8"/>
<line x1="466.69" y1="212.00" x2="466.69" y2="213.40" stroke="#111" stroke-width="0.8"/>
<line x1="467.84" y1="212.00" x2="467.84" y2="213.40" stroke="#111" stroke-width="0.8"/>
<line x1="468.85" y1="212.00" x2="468.85" y2="213.40" stroke="#111" stroke-width="0.8"/>
<line x1="469.75" y1="212.00" x2="469.75" y2="214.40" stroke="#111" stroke-width="0.8"/>
<line x1="475.70" y1="212.00" x2="475.70" y2="213.40" stroke="#111" stroke-width="0.8"/>
<line x1="479.17" y1="212.00" x2="479.17" y2="213.40" stroke="#111" stroke-width="0.8"/>
<line x1="481.64" y1="212.00" x2="481.64" y2="213.40" stroke="#111" stroke-width="0.8"/>
<line x1="483.55" y1="212.00" x2="483.55" y2="213.40" stroke="#111" stroke-width="0.8"/>
<line x1="485.12" y1="212.00" x2="485.12" y2="213.40" stroke="#111" stroke-width="0.8"/>
<line x1="486.44" y1="212.00" x2="486.44" y2="213.40" stroke="#111" stroke-width="0.8"/>
<line x1="487.59" y1="212.00" x2="487.59" y2="213.40" stroke="#111" stroke-width="0.8"/>
<line x1="488.60" y1="212.00" x2="488.60" y2="213.40" stroke="#111" stroke-width="0.8"/>
<line x1="489.50" y1="212.00" x2="489.50" y2="214.40" stroke="#111" stroke-width="0.8"/>
<text x="404.90" y="224.90" font-size="8.4" textLength="8.2" lengthAdjust="spacingAndGlyphs" fill="#111">10</text><text x="413.30" y="221.60" font-size="6.2" fill="#111">0</text>
<text x="424.65" y="224.90" font-size="8.4" textLength="8.2" lengthAdjust="spacingAndGlyphs" fill="#111">10</text><text x="433.05" y="221.60" font-size="6.2" fill="#111">1</text>
<text x="444.40" y="224.90" font-size="8.4" textLength="8.2" lengthAdjust="spacingAndGlyphs" fill="#111">10</text><text x="452.80" y="221.60" font-size="6.2" fill="#111">2</text>
<text x="464.15" y="224.90" font-size="8.4" textLength="8.2" lengthAdjust="spacingAndGlyphs" fill="#111">10</text><text x="472.55" y="221.60" font-size="6.2" fill="#111">3</text>
<text x="483.90" y="224.90" font-size="8.4" textLength="8.2" lengthAdjust="spacingAndGlyphs" fill="#111">10</text><text x="492.30" y="221.60" font-size="6.2" fill="#111">4</text>
<text x="492.50" y="78.50" font-size="11.11" textLength="16.30" lengthAdjust="spacingAndGlyphs">PBS</text>
<text x="493.00" y="180.25" font-size="11.11" textLength="20.50" lengthAdjust="spacingAndGlyphs">IL-33</text>
<line x1="282.00" y1="39.50" x2="282.00" y2="211.30" stroke="#111" stroke-width="1.1"/>
<polygon points="282.00,35.50 279.20,40.50 284.80,40.50" fill="#111"/>
<text transform="translate(277.13,123.50) rotate(-90)" font-size="10.65" text-anchor="middle" fill="#111" textLength="20.40" lengthAdjust="spacingAndGlyphs">Max%</text>
<line x1="305.50" y1="231.25" x2="380.00" y2="231.25" stroke="#111" stroke-width="1.1"/>
<polygon points="384.00,231.25 378.00,228.45 378.00,234.05" fill="#111"/>
<line x1="410.75" y1="231.25" x2="485.00" y2="231.25" stroke="#111" stroke-width="1.1"/>
<polygon points="489.00,231.25 483.00,228.45 483.00,234.05" fill="#111"/>
<text x="344.50" y="244.04" font-size="11.23" text-anchor="middle" textLength="23.00" lengthAdjust="spacingAndGlyphs">CD62P</text>
<text x="450.00" y="244.54" font-size="11.23" text-anchor="middle" textLength="20.50" lengthAdjust="spacingAndGlyphs">Jon/A</text>
<text x="7.30" y="398.14" font-size="13.45" font-weight="bold" textLength="7.00" lengthAdjust="spacingAndGlyphs">E</text>
<text x="43.75" y="397.20" font-size="11.11" fill="#111" textLength="95.75" lengthAdjust="spacingAndGlyphs"><tspan font-style="italic">Chga</tspan><tspan font-size="7.55" dy="-4.0">creER</tspan><tspan dy="4.0" font-style="italic">Il1rl1</tspan><tspan font-size="7.55" dy="-4.0">fl/fl</tspan><tspan dy="4.0"> mice</tspan></text>
<line x1="40.60" y1="410.20" x2="52.10" y2="410.20" stroke="#cc1236" stroke-width="1.5"/>
<text x="55.60" y="413.27" font-size="8.54" textLength="24.40" lengthAdjust="spacingAndGlyphs">Resting</text>
<line x1="147.50" y1="410.20" x2="158.75" y2="410.20" stroke="#0f4c88" stroke-width="1.5"/>
<text x="162.50" y="413.27" font-size="8.54" textLength="31.30" lengthAdjust="spacingAndGlyphs">Thrombin</text>
<polyline points="43.8,474.4 43.9,473.3 44.1,473.0 44.2,472.0 44.4,470.6 44.5,470.2 44.6,470.1 44.8,468.6 44.9,469.3 45.1,467.0 45.2,467.2 45.5,467.1 45.8,466.1 46.0,464.3 46.3,463.5 46.6,463.9 46.9,462.6 47.4,461.4 47.8,460.8 48.2,461.1 48.7,459.3 48.8,459.1 49.0,459.5 49.1,457.6 49.3,457.9 49.4,455.7 49.5,455.3 49.7,454.3 49.8,454.8 50.0,453.8 50.1,453.4 50.3,452.8 50.4,451.9 50.5,450.1 50.6,450.0 50.7,448.5 50.8,449.1 50.8,447.6 50.9,447.1 51.0,447.1 51.1,446.6 51.2,445.2 51.3,444.0 51.4,444.2 51.5,443.4 51.6,441.5 51.7,441.2 51.7,441.4 51.8,440.8 51.9,439.9 52.0,438.4 52.1,437.1 52.3,437.7 52.6,435.7 52.8,435.7 53.1,434.5 53.3,434.6 53.6,433.0 53.8,432.3 54.7,432.7 55.6,432.0 56.2,431.9 56.7,429.8 57.3,429.2 57.6,429.6 58.0,428.6 58.4,428.7 58.7,427.2 58.8,427.2 58.8,428.7 58.9,429.0 59.0,430.7 59.1,431.4 59.1,432.2 59.2,431.6 59.3,433.1 59.3,433.2 59.4,435.3 59.5,434.5 59.5,436.1 59.6,436.9 59.7,436.7 59.8,438.1 59.8,438.0 59.9,438.6 60.0,439.7 60.1,440.1 60.1,441.4 60.2,442.6 60.3,443.7 60.4,443.2 60.4,444.3 60.5,445.4 60.6,445.4 60.7,446.1 60.8,447.0 60.8,448.5 60.9,448.4 61.0,449.8 61.1,449.4 61.1,450.4 61.2,451.1 61.3,451.7 61.4,452.3 61.4,453.4 61.5,454.9 61.6,455.3 61.7,456.6 61.7,456.1 61.8,456.8 61.8,457.4 61.9,458.6 62.0,458.6 62.0,460.6 62.1,460.6 62.2,460.6 62.2,462.2 62.3,462.8 62.3,463.1 62.4,464.0 62.5,465.3 62.5,466.7 62.6,466.7 62.7,466.8 62.7,467.1 62.8,468.3 62.8,468.9 62.9,469.9 63.0,470.7 63.0,471.1 63.1,471.6 63.2,473.7 63.2,474.4 63.3,474.7 63.3,475.7 63.4,475.9 63.5,476.9 63.6,477.2 63.7,478.2 63.8,479.1 63.8,479.7 63.9,480.5 64.0,481.0 64.1,481.4 64.2,482.6 64.3,483.4 64.4,483.6 64.5,484.2 64.6,484.8 64.7,485.8 64.7,486.5 64.8,487.2 64.9,488.0 65.0,488.8 65.1,489.4 65.3,490.5 65.6,490.9 65.8,491.7 66.1,492.7 66.3,493.3 66.6,494.1 66.8,494.8 67.5,495.1 68.1,495.5 68.8,495.9 69.4,496.2 70.1,496.2 70.8,496.2 71.5,496.2 72.2,496.2 72.9,496.2 73.6,496.2 74.3,496.2 75.1,496.2 75.8,496.2 76.5,496.2 77.2,496.2 77.9,496.2 78.6,496.2 79.3,496.2 80.0,496.2 80.7,496.2 81.4,496.2 82.1,496.2 82.8,496.2 83.5,496.2 84.2,496.2 84.9,496.2 85.7,496.2 86.4,496.2 87.1,496.2 87.8,496.2 88.5,496.2 89.2,496.2 89.9,496.2 90.6,496.2 91.3,496.2 92.0,496.2 92.7,496.2 93.4,496.2 94.1,496.2 94.8,496.2 95.6,496.3 96.3,496.3 97.0,496.3 97.7,496.3 98.4,496.3 99.1,496.3 99.8,496.3 100.5,496.3 101.2,496.3 101.9,496.3 102.6,496.3 103.3,496.3 104.0,496.3 104.7,496.3 105.4,496.3 106.2,496.3 106.9,496.3 107.6,496.3 108.3,496.3 109.0,496.3 109.7,496.3 110.4,496.3 111.1,496.3 111.8,496.3 112.5,496.3 113.2,496.3 113.9,496.3 114.6,496.3 115.3,496.3 116.0,496.3 116.8,496.3 117.5,496.3 118.2,496.3 118.9,496.3 119.6,496.3 120.3,496.3 121.0,496.3 121.7,496.3" fill="none" stroke="#cc1236" stroke-width="1.3" stroke-linejoin="round"/>
<polyline points="43.8,488.8 44.4,488.0 45.0,487.4 45.5,487.0 46.1,486.4 46.4,485.6 46.6,485.1 46.9,484.4 47.1,483.3 47.4,482.3 47.7,482.5 47.9,480.8 48.2,480.5 48.4,479.4 48.7,479.2 48.9,478.9 49.0,477.2 49.2,477.1 49.4,476.3 49.5,476.0 49.7,475.7 49.9,474.6 50.0,472.9 50.2,472.7 50.4,472.2 50.5,471.0 50.7,471.5 50.9,469.9 51.0,469.2 51.2,468.3 51.3,468.2 51.5,468.0 51.6,466.0 51.7,466.0 51.9,465.0 52.0,463.9 52.1,463.8 52.2,463.5 52.4,462.8 52.5,462.8 52.6,461.6 52.8,461.3 52.9,460.2 53.0,459.5 53.1,459.2 53.3,458.4 53.4,457.5 53.5,456.1 53.7,455.3 53.8,455.7 53.9,453.4 54.0,453.4 54.2,453.5 54.3,451.8 54.4,451.5 54.5,450.5 54.7,450.4 54.8,450.0 54.9,447.9 55.0,447.8 55.2,447.9 55.3,446.4 55.4,446.8 55.5,444.8 55.7,444.5 55.8,443.2 55.9,443.8 56.0,442.4 56.2,442.3 56.3,441.3 56.4,439.9 56.6,440.3 56.8,438.2 57.0,439.0 57.2,438.1 57.4,436.5 57.6,436.4 57.8,435.3 58.0,434.8 58.2,435.0 58.3,433.4 58.5,432.9 58.6,431.2 58.7,430.5 58.9,430.5 59.0,429.7 59.1,429.9 59.2,428.5 59.4,428.3 59.5,427.0 59.6,426.9 59.8,425.1 59.9,423.8 60.1,425.8 60.3,426.3 60.5,426.2 60.7,426.9 60.8,428.0 61.0,429.5 61.2,429.7 61.4,430.0 61.6,430.9 61.8,431.2 61.9,432.0 62.0,432.4 62.2,434.0 62.4,433.5 62.5,435.1 62.6,435.1 62.8,435.9 63.0,437.7 63.1,438.6 63.2,438.7 63.4,440.2 63.6,440.5 63.7,440.9 63.9,441.7 64.1,441.3 64.3,442.1 64.4,444.0 64.6,444.0 64.8,445.8 65.0,445.2 65.1,445.9 65.3,446.5 65.5,448.5 65.7,448.5 65.8,448.7 66.0,449.0 66.1,450.7 66.2,450.3 66.2,452.6 66.3,452.0 66.4,453.8 66.5,454.7 66.5,454.4 66.6,455.6 66.7,456.5 66.8,456.8 66.8,457.4 66.9,459.0 67.0,458.6 67.1,459.8 67.2,459.5 67.2,461.3 67.3,462.7 67.4,462.4 67.5,463.7 67.5,463.7 67.6,464.5 67.7,465.2 67.8,466.8 68.0,466.5 68.1,466.7 68.2,468.2 68.3,469.0 68.5,469.7 68.6,470.2 68.7,470.6 68.9,472.0 69.0,471.9 69.1,472.6 69.3,473.2 69.4,473.7 69.5,474.6 69.7,476.0 69.8,476.3 69.9,477.1 70.0,477.5 70.2,478.2 70.3,479.4 70.5,480.4 70.6,480.2 70.8,481.5 70.9,482.5 71.1,482.8 71.2,483.8 71.4,483.9 71.5,485.1 71.7,485.3 71.8,486.1 72.0,486.8 72.1,487.4 72.3,488.6 72.4,489.1 72.6,489.8 72.7,490.7 72.9,491.2 73.3,492.0 73.6,492.5 74.0,493.3 74.4,493.9 74.8,494.4 75.1,495.1 75.5,495.7 76.2,495.7 76.9,495.7 77.6,495.7 78.3,495.7 79.0,495.7 79.7,495.8 80.4,495.8 81.1,495.8 81.8,495.8 82.5,495.8 83.2,495.8 83.9,495.8 84.6,495.8 85.3,495.8 86.0,495.8 86.7,495.9 87.4,495.9 88.1,495.9 88.8,495.9 89.5,495.9 90.2,495.9 90.9,495.9 91.6,495.9 92.3,495.9 93.0,495.9 93.7,495.9 94.4,495.9 95.1,496.0 95.8,496.0 96.5,496.0 97.2,496.0 97.9,496.0 98.6,496.0 99.3,496.0 100.0,496.0 100.7,496.0 101.4,496.0 102.1,496.1 102.8,496.1 103.5,496.1 104.2,496.1 104.9,496.1 105.6,496.1 106.3,496.1 107.0,496.1 107.7,496.1 108.4,496.1 109.1,496.1 109.8,496.1 110.5,496.2 111.2,496.2 111.9,496.2 112.6,496.2 113.3,496.2 114.0,496.2 114.7,496.2 115.4,496.2 116.1,496.2 116.8,496.2 117.5,496.2 118.2,496.3 118.9,496.3 119.6,496.3 120.3,496.3 121.0,496.3 121.7,496.3" fill="none" stroke="#0f4c88" stroke-width="1.3" stroke-linejoin="round"/>
<rect x="43.50" y="417.20" width="78.20" height="79.10" fill="none" stroke="#111" stroke-width="1.1"/>
<line x1="40.50" y1="496.30" x2="43.50" y2="496.30" stroke="#111" stroke-width="0.8"/>
<line x1="41.70" y1="493.28" x2="43.50" y2="493.28" stroke="#111" stroke-width="0.8"/>
<line x1="41.70" y1="490.26" x2="43.50" y2="490.26" stroke="#111" stroke-width="0.8"/>
<line x1="41.70" y1="487.24" x2="43.50" y2="487.24" stroke="#111" stroke-width="0.8"/>
<line x1="41.70" y1="484.22" x2="43.50" y2="484.22" stroke="#111" stroke-width="0.8"/>
<line x1="40.50" y1="481.20" x2="43.50" y2="481.20" stroke="#111" stroke-width="0.8"/>
<line x1="41.70" y1="478.18" x2="43.50" y2="478.18" stroke="#111" stroke-width="0.8"/>
<line x1="41.70" y1="475.16" x2="43.50" y2="475.16" stroke="#111" stroke-width="0.8"/>
<line x1="41.70" y1="472.14" x2="43.50" y2="472.14" stroke="#111" stroke-width="0.8"/>
<line x1="41.70" y1="469.12" x2="43.50" y2="469.12" stroke="#111" stroke-width="0.8"/>
<line x1="40.50" y1="466.10" x2="43.50" y2="466.10" stroke="#111" stroke-width="0.8"/>
<line x1="41.70" y1="463.08" x2="43.50" y2="463.08" stroke="#111" stroke-width="0.8"/>
<line x1="41.70" y1="460.06" x2="43.50" y2="460.06" stroke="#111" stroke-width="0.8"/>
<line x1="41.70" y1="457.04" x2="43.50" y2="457.04" stroke="#111" stroke-width="0.8"/>
<line x1="41.70" y1="454.02" x2="43.50" y2="454.02" stroke="#111" stroke-width="0.8"/>
<line x1="40.50" y1="451.00" x2="43.50" y2="451.00" stroke="#111" stroke-width="0.8"/>
<line x1="41.70" y1="447.98" x2="43.50" y2="447.98" stroke="#111" stroke-width="0.8"/>
<line x1="41.70" y1="444.96" x2="43.50" y2="444.96" stroke="#111" stroke-width="0.8"/>
<line x1="41.70" y1="441.94" x2="43.50" y2="441.94" stroke="#111" stroke-width="0.8"/>
<line x1="41.70" y1="438.92" x2="43.50" y2="438.92" stroke="#111" stroke-width="0.8"/>
<line x1="40.50" y1="435.90" x2="43.50" y2="435.90" stroke="#111" stroke-width="0.8"/>
<line x1="41.70" y1="432.88" x2="43.50" y2="432.88" stroke="#111" stroke-width="0.8"/>
<line x1="41.70" y1="429.86" x2="43.50" y2="429.86" stroke="#111" stroke-width="0.8"/>
<line x1="41.70" y1="426.84" x2="43.50" y2="426.84" stroke="#111" stroke-width="0.8"/>
<line x1="41.70" y1="423.82" x2="43.50" y2="423.82" stroke="#111" stroke-width="0.8"/>
<line x1="40.50" y1="420.80" x2="43.50" y2="420.80" stroke="#111" stroke-width="0.8"/>
<text x="37.90" y="498.53" font-size="8.42" text-anchor="end" textLength="4.10" lengthAdjust="spacingAndGlyphs">0</text>
<text x="37.90" y="483.43" font-size="8.42" text-anchor="end" textLength="8.20" lengthAdjust="spacingAndGlyphs">20</text>
<text x="37.90" y="468.33" font-size="8.42" text-anchor="end" textLength="8.20" lengthAdjust="spacingAndGlyphs">40</text>
<text x="37.90" y="453.23" font-size="8.42" text-anchor="end" textLength="8.20" lengthAdjust="spacingAndGlyphs">60</text>
<text x="37.90" y="438.13" font-size="8.42" text-anchor="end" textLength="8.20" lengthAdjust="spacingAndGlyphs">80</text>
<text x="37.90" y="423.03" font-size="8.42" text-anchor="end" textLength="12.30" lengthAdjust="spacingAndGlyphs">100</text>
<line x1="43.50" y1="496.30" x2="43.50" y2="498.70" stroke="#111" stroke-width="0.8"/>
<line x1="49.39" y1="496.30" x2="49.39" y2="497.70" stroke="#111" stroke-width="0.8"/>
<line x1="52.83" y1="496.30" x2="52.83" y2="497.70" stroke="#111" stroke-width="0.8"/>
<line x1="55.27" y1="496.30" x2="55.27" y2="497.70" stroke="#111" stroke-width="0.8"/>
<line x1="57.16" y1="496.30" x2="57.16" y2="497.70" stroke="#111" stroke-width="0.8"/>
<line x1="58.71" y1="496.30" x2="58.71" y2="497.70" stroke="#111" stroke-width="0.8"/>
<line x1="60.02" y1="496.30" x2="60.02" y2="497.70" stroke="#111" stroke-width="0.8"/>
<line x1="61.16" y1="496.30" x2="61.16" y2="497.70" stroke="#111" stroke-width="0.8"/>
<line x1="62.16" y1="496.30" x2="62.16" y2="497.70" stroke="#111" stroke-width="0.8"/>
<line x1="63.05" y1="496.30" x2="63.05" y2="498.70" stroke="#111" stroke-width="0.8"/>
<line x1="68.94" y1="496.30" x2="68.94" y2="497.70" stroke="#111" stroke-width="0.8"/>
<line x1="72.38" y1="496.30" x2="72.38" y2="497.70" stroke="#111" stroke-width="0.8"/>
<line x1="74.82" y1="496.30" x2="74.82" y2="497.70" stroke="#111" stroke-width="0.8"/>
<line x1="76.71" y1="496.30" x2="76.71" y2="497.70" stroke="#111" stroke-width="0.8"/>
<line x1="78.26" y1="496.30" x2="78.26" y2="497.70" stroke="#111" stroke-width="0.8"/>
<line x1="79.57" y1="496.30" x2="79.57" y2="497.70" stroke="#111" stroke-width="0.8"/>
<line x1="80.71" y1="496.30" x2="80.71" y2="497.70" stroke="#111" stroke-width="0.8"/>
<line x1="81.71" y1="496.30" x2="81.71" y2="497.70" stroke="#111" stroke-width="0.8"/>
<line x1="82.60" y1="496.30" x2="82.60" y2="498.70" stroke="#111" stroke-width="0.8"/>
<line x1="88.49" y1="496.30" x2="88.49" y2="497.70" stroke="#111" stroke-width="0.8"/>
<line x1="91.93" y1="496.30" x2="91.93" y2="497.70" stroke="#111" stroke-width="0.8"/>
<line x1="94.37" y1="496.30" x2="94.37" y2="497.70" stroke="#111" stroke-width="0.8"/>
<line x1="96.26" y1="496.30" x2="96.26" y2="497.70" stroke="#111" stroke-width="0.8"/>
<line x1="97.81" y1="496.30" x2="97.81" y2="497.70" stroke="#111" stroke-width="0.8"/>
<line x1="99.12" y1="496.30" x2="99.12" y2="497.70" stroke="#111" stroke-width="0.8"/>
<line x1="100.26" y1="496.30" x2="100.26" y2="497.70" stroke="#111" stroke-width="0.8"/>
<line x1="101.26" y1="496.30" x2="101.26" y2="497.70" stroke="#111" stroke-width="0.8"/>
<line x1="102.15" y1="496.30" x2="102.15" y2="498.70" stroke="#111" stroke-width="0.8"/>
<line x1="108.04" y1="496.30" x2="108.04" y2="497.70" stroke="#111" stroke-width="0.8"/>
<line x1="111.48" y1="496.30" x2="111.48" y2="497.70" stroke="#111" stroke-width="0.8"/>
<line x1="113.92" y1="496.30" x2="113.92" y2="497.70" stroke="#111" stroke-width="0.8"/>
<line x1="115.81" y1="496.30" x2="115.81" y2="497.70" stroke="#111" stroke-width="0.8"/>
<line x1="117.36" y1="496.30" x2="117.36" y2="497.70" stroke="#111" stroke-width="0.8"/>
<line x1="118.67" y1="496.30" x2="118.67" y2="497.70" stroke="#111" stroke-width="0.8"/>
<line x1="119.81" y1="496.30" x2="119.81" y2="497.70" stroke="#111" stroke-width="0.8"/>
<line x1="120.81" y1="496.30" x2="120.81" y2="497.70" stroke="#111" stroke-width="0.8"/>
<line x1="121.70" y1="496.30" x2="121.70" y2="498.70" stroke="#111" stroke-width="0.8"/>
<text x="37.90" y="509.20" font-size="8.4" textLength="8.2" lengthAdjust="spacingAndGlyphs" fill="#111">10</text><text x="46.30" y="505.90" font-size="6.2" fill="#111">0</text>
<text x="57.45" y="509.20" font-size="8.4" textLength="8.2" lengthAdjust="spacingAndGlyphs" fill="#111">10</text><text x="65.85" y="505.90" font-size="6.2" fill="#111">1</text>
<text x="77.00" y="509.20" font-size="8.4" textLength="8.2" lengthAdjust="spacingAndGlyphs" fill="#111">10</text><text x="85.40" y="505.90" font-size="6.2" fill="#111">2</text>
<text x="96.55" y="509.20" font-size="8.4" textLength="8.2" lengthAdjust="spacingAndGlyphs" fill="#111">10</text><text x="104.95" y="505.90" font-size="6.2" fill="#111">3</text>
<text x="116.10" y="509.20" font-size="8.4" textLength="8.2" lengthAdjust="spacingAndGlyphs" fill="#111">10</text><text x="124.50" y="505.90" font-size="6.2" fill="#111">4</text>
<polyline points="150.5,466.0 150.7,465.5 150.8,465.5 151.0,463.7 151.2,463.5 151.3,462.9 151.5,462.3 151.7,461.8 151.8,459.9 152.0,460.3 152.2,458.2 152.3,458.2 152.5,457.9 152.7,457.5 152.9,455.8 153.2,455.7 153.4,455.1 153.6,453.2 153.8,453.8 154.1,453.2 154.3,451.3 154.5,450.9 154.6,450.4 154.7,450.6 154.7,450.0 154.8,447.9 154.9,447.5 155.0,446.3 155.0,445.5 155.1,445.1 155.2,445.7 155.3,444.9 155.3,442.9 155.4,443.0 155.5,442.3 155.6,441.3 155.6,441.3 155.7,439.2 155.8,438.8 155.9,437.8 155.9,438.6 156.0,437.7 156.1,436.3 156.2,435.0 156.2,435.6 156.6,434.8 157.0,434.2 157.3,433.7 157.7,432.4 158.0,431.4 158.4,431.3 158.8,429.3 159.1,429.9 159.4,428.2 159.8,427.6 160.2,427.7 160.5,425.4 161.0,426.6 161.5,428.1 162.0,427.9 162.5,429.5 163.1,428.7 163.7,427.4 164.2,427.5 164.3,427.9 164.4,429.2 164.4,430.0 164.5,430.3 164.6,430.2 164.6,432.3 164.7,431.8 164.7,433.3 164.8,434.4 164.8,434.4 164.9,434.4 165.0,436.0 165.0,435.9 165.1,436.7 165.2,437.5 165.2,438.1 165.3,439.5 165.3,440.6 165.4,440.7 165.4,442.3 165.5,441.4 165.6,442.6 165.6,443.3 165.7,444.4 165.8,445.3 165.8,445.3 165.9,446.3 165.9,446.9 166.0,447.6 166.1,447.8 166.1,449.7 166.2,449.2 166.2,450.6 166.3,450.9 166.4,452.0 166.4,453.2 166.5,454.1 166.6,454.9 166.6,455.2 166.7,455.3 166.8,455.5 166.8,456.5 166.9,458.5 166.9,458.4 167.0,459.1 167.1,459.7 167.1,460.4 167.2,460.9 167.2,461.7 167.3,462.8 167.4,463.5 167.4,463.5 167.5,464.3 167.6,464.8 167.7,466.3 167.8,467.4 167.9,468.5 168.0,468.3 168.1,469.4 168.2,470.4 168.3,470.7 168.4,471.4 168.5,471.4 168.6,473.0 168.7,473.8 168.8,473.8 168.9,475.0 169.0,475.1 169.1,475.6 169.2,476.7 169.3,477.7 169.4,478.2 169.5,478.7 169.6,480.3 169.7,480.6 169.8,480.9 169.9,481.4 170.0,482.7 170.2,483.6 170.5,484.1 170.7,484.8 170.9,485.7 171.2,486.2 171.4,486.5 171.6,487.4 171.9,488.1 172.1,488.9 172.3,489.4 172.6,490.3 172.8,491.0 173.0,491.6 173.3,492.4 173.5,493.0 173.8,493.8 174.4,494.1 175.0,494.6 175.6,494.9 176.2,495.2 176.9,495.6 177.5,496.0 178.2,496.0 178.9,496.0 179.6,496.0 180.3,496.0 181.0,496.0 181.7,496.0 182.4,496.0 183.1,496.0 183.8,496.0 184.5,496.0 185.2,496.0 185.9,496.0 186.6,496.0 187.3,496.0 188.0,496.0 188.7,496.1 189.4,496.1 190.1,496.1 190.8,496.1 191.5,496.1 192.2,496.1 192.9,496.1 193.6,496.1 194.3,496.1 195.0,496.1 195.7,496.1 196.4,496.1 197.1,496.1 197.8,496.1 198.5,496.1 199.2,496.1 199.9,496.1 200.6,496.1 201.3,496.1 202.0,496.1 202.7,496.1 203.4,496.1 204.1,496.1 204.8,496.1 205.5,496.1 206.2,496.1 206.9,496.1 207.6,496.1 208.3,496.1 209.0,496.1 209.7,496.2 210.4,496.2 211.1,496.2 211.8,496.2 212.5,496.2 213.2,496.2 213.9,496.2 214.6,496.2 215.3,496.2 216.0,496.2 216.7,496.2 217.4,496.2 218.1,496.2 218.8,496.2 219.5,496.2 220.2,496.2 220.9,496.2 221.6,496.2 222.3,496.2 223.0,496.2 223.7,496.2 224.4,496.2 225.1,496.2 225.8,496.2 226.5,496.2 227.2,496.2 227.9,496.2 228.6,496.2 229.3,496.2 230.0,496.2" fill="none" stroke="#cc1236" stroke-width="1.3" stroke-linejoin="round"/>
<polyline points="150.5,493.7 151.1,493.3 151.8,493.1 152.4,492.6 153.1,492.3 153.7,491.9 154.4,491.6 155.0,491.1 155.4,490.5 155.8,490.1 156.1,489.1 156.5,488.7 156.9,488.2 157.2,487.5 157.6,486.6 158.0,486.2 158.4,485.5 158.8,485.2 158.9,484.6 159.1,483.7 159.3,483.1 159.5,482.1 159.6,481.9 159.8,481.0 160.0,480.5 160.2,478.9 160.4,478.8 160.5,478.1 160.7,477.4 160.9,477.0 161.1,475.3 161.2,474.4 161.4,474.4 161.5,473.1 161.6,473.6 161.7,472.9 161.8,471.4 162.0,471.3 162.1,470.2 162.2,470.0 162.3,468.7 162.4,467.3 162.6,468.0 162.7,466.0 162.8,465.0 162.9,465.5 163.0,464.6 163.2,464.2 163.3,462.4 163.4,462.9 163.5,462.0 163.6,461.0 163.8,459.1 163.8,459.8 163.9,458.4 164.1,457.2 164.2,456.9 164.2,457.3 164.3,455.5 164.4,455.0 164.6,455.1 164.7,454.1 164.8,452.8 164.8,452.0 164.9,451.7 165.1,451.0 165.2,450.6 165.2,449.8 165.3,448.2 165.4,448.8 165.6,447.9 165.7,446.7 165.8,445.4 165.8,445.2 165.9,445.3 166.1,443.5 166.2,442.9 166.2,442.8 166.4,442.2 166.5,441.7 166.6,440.2 166.7,440.1 166.8,438.4 167.0,437.4 167.1,437.8 167.2,436.3 167.3,436.8 167.4,435.0 167.6,434.4 167.7,434.6 167.8,432.4 167.9,433.3 168.0,431.5 168.2,430.2 168.3,430.1 168.4,429.0 168.5,428.5 168.6,428.2 168.8,427.6 169.1,426.2 169.5,427.0 169.8,424.7 170.2,423.9 170.5,423.5 170.9,422.3 171.2,423.2 171.5,422.6 171.7,423.0 171.9,424.8 172.2,424.9 172.4,425.2 172.6,426.5 172.8,426.7 173.1,427.2 173.3,428.6 173.5,428.8 173.8,429.7 173.8,430.7 173.9,432.3 174.0,432.3 174.1,432.9 174.2,433.1 174.2,434.1 174.3,434.5 174.4,436.2 174.5,437.1 174.6,437.6 174.6,437.5 174.7,438.8 174.8,438.7 174.9,440.3 174.9,441.3 175.0,440.6 175.1,441.2 175.2,443.5 175.3,443.4 175.3,444.5 175.4,445.3 175.5,445.9 175.6,445.4 175.7,446.4 175.8,447.3 175.8,448.9 175.9,449.3 176.0,449.1 176.1,449.7 176.1,451.5 176.2,452.4 176.3,451.6 176.4,452.8 176.5,453.1 176.5,454.4 176.6,454.4 176.7,455.7 176.8,456.0 176.8,456.5 176.9,458.9 177.0,458.1 177.1,460.2 177.2,460.6 177.2,460.6 177.3,461.3 177.4,462.0 177.5,462.6 177.5,463.8 177.6,463.7 177.7,465.2 177.8,465.8 177.9,465.9 177.9,468.0 178.0,467.5 178.1,468.8 178.2,469.7 178.2,470.4 178.3,470.8 178.4,471.3 178.6,472.0 178.7,473.2 178.8,472.8 178.8,474.3 178.9,475.4 179.1,475.5 179.2,476.3 179.2,477.3 179.3,478.1 179.4,478.2 179.6,479.2 179.7,480.2 179.8,480.6 179.8,480.9 179.9,482.4 180.1,482.4 180.2,483.4 180.2,483.6 180.3,484.9 180.4,485.4 180.6,486.4 180.7,486.6 180.8,487.2 181.0,488.1 181.2,488.8 181.5,489.6 181.8,490.1 182.0,490.9 182.2,491.6 182.5,492.0 182.8,493.0 183.0,493.4 183.2,494.1 183.5,494.8 183.8,495.5 184.6,495.8 185.4,496.0 186.2,496.3 187.0,496.3 187.7,496.3 188.4,496.2 189.1,496.2 189.8,496.3 190.5,496.3 191.2,496.2 191.9,496.3 192.6,496.2 193.3,496.2 194.0,496.3 194.7,496.2 195.4,496.2 196.1,496.3 196.8,496.2 197.5,496.2 198.2,496.3 199.0,496.2 199.7,496.2 200.4,496.3 201.1,496.3 201.8,496.3 202.5,496.2 203.2,496.3 203.9,496.3 204.6,496.2 205.3,496.2 206.0,496.2 206.7,496.3 207.4,496.2 208.1,496.3 208.8,496.2 209.5,496.3 210.2,496.2 210.9,496.3 211.7,496.3 212.4,496.2 213.1,496.2 213.8,496.2 214.5,496.3 215.2,496.2 215.9,496.2 216.6,496.3 217.3,496.3 218.0,496.3 218.7,496.3 219.4,496.3 220.1,496.3 220.8,496.2 221.5,496.3 222.2,496.3 222.9,496.2 223.6,496.2 224.4,496.2 225.1,496.3 225.8,496.2 226.5,496.2 227.2,496.2 227.9,496.2 228.6,496.3 229.3,496.2 230.0,496.2" fill="none" stroke="#0f4c88" stroke-width="1.3" stroke-linejoin="round"/>
<rect x="150.00" y="417.20" width="80.00" height="79.10" fill="none" stroke="#111" stroke-width="1.1"/>
<line x1="147.00" y1="496.30" x2="150.00" y2="496.30" stroke="#111" stroke-width="0.8"/>
<line x1="148.20" y1="493.28" x2="150.00" y2="493.28" stroke="#111" stroke-width="0.8"/>
<line x1="148.20" y1="490.26" x2="150.00" y2="490.26" stroke="#111" stroke-width="0.8"/>
<line x1="148.20" y1="487.24" x2="150.00" y2="487.24" stroke="#111" stroke-width="0.8"/>
<line x1="148.20" y1="484.22" x2="150.00" y2="484.22" stroke="#111" stroke-width="0.8"/>
<line x1="147.00" y1="481.20" x2="150.00" y2="481.20" stroke="#111" stroke-width="0.8"/>
<line x1="148.20" y1="478.18" x2="150.00" y2="478.18" stroke="#111" stroke-width="0.8"/>
<line x1="148.20" y1="475.16" x2="150.00" y2="475.16" stroke="#111" stroke-width="0.8"/>
<line x1="148.20" y1="472.14" x2="150.00" y2="472.14" stroke="#111" stroke-width="0.8"/>
<line x1="148.20" y1="469.12" x2="150.00" y2="469.12" stroke="#111" stroke-width="0.8"/>
<line x1="147.00" y1="466.10" x2="150.00" y2="466.10" stroke="#111" stroke-width="0.8"/>
<line x1="148.20" y1="463.08" x2="150.00" y2="463.08" stroke="#111" stroke-width="0.8"/>
<line x1="148.20" y1="460.06" x2="150.00" y2="460.06" stroke="#111" stroke-width="0.8"/>
<line x1="148.20" y1="457.04" x2="150.00" y2="457.04" stroke="#111" stroke-width="0.8"/>
<line x1="148.20" y1="454.02" x2="150.00" y2="454.02" stroke="#111" stroke-width="0.8"/>
<line x1="147.00" y1="451.00" x2="150.00" y2="451.00" stroke="#111" stroke-width="0.8"/>
<line x1="148.20" y1="447.98" x2="150.00" y2="447.98" stroke="#111" stroke-width="0.8"/>
<line x1="148.20" y1="444.96" x2="150.00" y2="444.96" stroke="#111" stroke-width="0.8"/>
<line x1="148.20" y1="441.94" x2="150.00" y2="441.94" stroke="#111" stroke-width="0.8"/>
<line x1="148.20" y1="438.92" x2="150.00" y2="438.92" stroke="#111" stroke-width="0.8"/>
<line x1="147.00" y1="435.90" x2="150.00" y2="435.90" stroke="#111" stroke-width="0.8"/>
<line x1="148.20" y1="432.88" x2="150.00" y2="432.88" stroke="#111" stroke-width="0.8"/>
<line x1="148.20" y1="429.86" x2="150.00" y2="429.86" stroke="#111" stroke-width="0.8"/>
<line x1="148.20" y1="426.84" x2="150.00" y2="426.84" stroke="#111" stroke-width="0.8"/>
<line x1="148.20" y1="423.82" x2="150.00" y2="423.82" stroke="#111" stroke-width="0.8"/>
<line x1="147.00" y1="420.80" x2="150.00" y2="420.80" stroke="#111" stroke-width="0.8"/>
<text x="144.40" y="498.53" font-size="8.42" text-anchor="end" textLength="4.10" lengthAdjust="spacingAndGlyphs">0</text>
<text x="144.40" y="483.43" font-size="8.42" text-anchor="end" textLength="8.20" lengthAdjust="spacingAndGlyphs">20</text>
<text x="144.40" y="468.33" font-size="8.42" text-anchor="end" textLength="8.20" lengthAdjust="spacingAndGlyphs">40</text>
<text x="144.40" y="453.23" font-size="8.42" text-anchor="end" textLength="8.20" lengthAdjust="spacingAndGlyphs">60</text>
<text x="144.40" y="438.13" font-size="8.42" text-anchor="end" textLength="8.20" lengthAdjust="spacingAndGlyphs">80</text>
<text x="144.40" y="423.03" font-size="8.42" text-anchor="end" textLength="12.30" lengthAdjust="spacingAndGlyphs">100</text>
<line x1="150.00" y1="496.30" x2="150.00" y2="498.70" stroke="#111" stroke-width="0.8"/>
<line x1="156.02" y1="496.30" x2="156.02" y2="497.70" stroke="#111" stroke-width="0.8"/>
<line x1="159.54" y1="496.30" x2="159.54" y2="497.70" stroke="#111" stroke-width="0.8"/>
<line x1="162.04" y1="496.30" x2="162.04" y2="497.70" stroke="#111" stroke-width="0.8"/>
<line x1="163.98" y1="496.30" x2="163.98" y2="497.70" stroke="#111" stroke-width="0.8"/>
<line x1="165.56" y1="496.30" x2="165.56" y2="497.70" stroke="#111" stroke-width="0.8"/>
<line x1="166.90" y1="496.30" x2="166.90" y2="497.70" stroke="#111" stroke-width="0.8"/>
<line x1="168.06" y1="496.30" x2="168.06" y2="497.70" stroke="#111" stroke-width="0.8"/>
<line x1="169.08" y1="496.30" x2="169.08" y2="497.70" stroke="#111" stroke-width="0.8"/>
<line x1="170.00" y1="496.30" x2="170.00" y2="498.70" stroke="#111" stroke-width="0.8"/>
<line x1="176.02" y1="496.30" x2="176.02" y2="497.70" stroke="#111" stroke-width="0.8"/>
<line x1="179.54" y1="496.30" x2="179.54" y2="497.70" stroke="#111" stroke-width="0.8"/>
<line x1="182.04" y1="496.30" x2="182.04" y2="497.70" stroke="#111" stroke-width="0.8"/>
<line x1="183.98" y1="496.30" x2="183.98" y2="497.70" stroke="#111" stroke-width="0.8"/>
<line x1="185.56" y1="496.30" x2="185.56" y2="497.70" stroke="#111" stroke-width="0.8"/>
<line x1="186.90" y1="496.30" x2="186.90" y2="497.70" stroke="#111" stroke-width="0.8"/>
<line x1="188.06" y1="496.30" x2="188.06" y2="497.70" stroke="#111" stroke-width="0.8"/>
<line x1="189.08" y1="496.30" x2="189.08" y2="497.70" stroke="#111" stroke-width="0.8"/>
<line x1="190.00" y1="496.30" x2="190.00" y2="498.70" stroke="#111" stroke-width="0.8"/>
<line x1="196.02" y1="496.30" x2="196.02" y2="497.70" stroke="#111" stroke-width="0.8"/>
<line x1="199.54" y1="496.30" x2="199.54" y2="497.70" stroke="#111" stroke-width="0.8"/>
<line x1="202.04" y1="496.30" x2="202.04" y2="497.70" stroke="#111" stroke-width="0.8"/>
<line x1="203.98" y1="496.30" x2="203.98" y2="497.70" stroke="#111" stroke-width="0.8"/>
<line x1="205.56" y1="496.30" x2="205.56" y2="497.70" stroke="#111" stroke-width="0.8"/>
<line x1="206.90" y1="496.30" x2="206.90" y2="497.70" stroke="#111" stroke-width="0.8"/>
<line x1="208.06" y1="496.30" x2="208.06" y2="497.70" stroke="#111" stroke-width="0.8"/>
<line x1="209.08" y1="496.30" x2="209.08" y2="497.70" stroke="#111" stroke-width="0.8"/>
<line x1="210.00" y1="496.30" x2="210.00" y2="498.70" stroke="#111" stroke-width="0.8"/>
<line x1="216.02" y1="496.30" x2="216.02" y2="497.70" stroke="#111" stroke-width="0.8"/>
<line x1="219.54" y1="496.30" x2="219.54" y2="497.70" stroke="#111" stroke-width="0.8"/>
<line x1="222.04" y1="496.30" x2="222.04" y2="497.70" stroke="#111" stroke-width="0.8"/>
<line x1="223.98" y1="496.30" x2="223.98" y2="497.70" stroke="#111" stroke-width="0.8"/>
<line x1="225.56" y1="496.30" x2="225.56" y2="497.70" stroke="#111" stroke-width="0.8"/>
<line x1="226.90" y1="496.30" x2="226.90" y2="497.70" stroke="#111" stroke-width="0.8"/>
<line x1="228.06" y1="496.30" x2="228.06" y2="497.70" stroke="#111" stroke-width="0.8"/>
<line x1="229.08" y1="496.30" x2="229.08" y2="497.70" stroke="#111" stroke-width="0.8"/>
<line x1="230.00" y1="496.30" x2="230.00" y2="498.70" stroke="#111" stroke-width="0.8"/>
<text x="144.40" y="509.20" font-size="8.4" textLength="8.2" lengthAdjust="spacingAndGlyphs" fill="#111">10</text><text x="152.80" y="505.90" font-size="6.2" fill="#111">0</text>
<text x="164.40" y="509.20" font-size="8.4" textLength="8.2" lengthAdjust="spacingAndGlyphs" fill="#111">10</text><text x="172.80" y="505.90" font-size="6.2" fill="#111">1</text>
<text x="184.40" y="509.20" font-size="8.4" textLength="8.2" lengthAdjust="spacingAndGlyphs" fill="#111">10</text><text x="192.80" y="505.90" font-size="6.2" fill="#111">2</text>
<text x="204.40" y="509.20" font-size="8.4" textLength="8.2" lengthAdjust="spacingAndGlyphs" fill="#111">10</text><text x="212.80" y="505.90" font-size="6.2" fill="#111">3</text>
<text x="224.40" y="509.20" font-size="8.4" textLength="8.2" lengthAdjust="spacingAndGlyphs" fill="#111">10</text><text x="232.80" y="505.90" font-size="6.2" fill="#111">4</text>
<polyline points="43.8,557.4 43.9,557.4 44.0,555.5 44.2,554.8 44.3,554.4 44.4,554.0 44.5,552.5 44.7,551.8 44.8,550.7 45.0,550.4 45.2,549.9 45.5,549.5 45.7,548.3 45.9,548.0 46.1,547.7 46.2,546.1 46.3,546.1 46.4,545.5 46.5,545.0 46.6,544.0 46.7,543.1 46.7,542.3 46.8,541.1 46.9,541.3 47.0,539.3 47.1,538.9 47.2,537.8 47.3,537.7 47.6,537.8 48.0,536.7 48.4,534.9 48.7,535.8 48.8,533.5 48.9,533.0 49.0,532.8 49.1,531.2 49.2,531.8 49.3,530.9 49.4,530.6 49.5,529.3 49.9,529.5 50.3,529.7 50.7,530.5 50.9,530.3 51.1,530.0 51.2,528.1 51.4,528.0 51.6,527.6 51.8,526.1 51.9,526.3 52.1,524.8 52.7,525.6 53.2,526.1 53.8,528.1 54.2,527.1 54.7,528.3 55.1,529.5 55.6,529.9 55.7,530.1 55.7,531.3 55.8,531.9 55.9,532.8 55.9,533.3 56.0,533.5 56.1,535.2 56.1,535.2 56.2,536.8 56.3,536.6 56.3,538.3 56.4,537.8 56.5,539.3 56.5,540.5 56.6,540.0 56.6,541.6 56.7,541.9 56.8,541.6 56.8,543.4 56.9,543.7 57.0,543.8 57.0,545.8 57.1,546.4 57.2,547.5 57.2,546.7 57.3,547.9 57.4,548.9 57.4,549.2 57.5,549.5 57.6,550.7 57.6,551.5 57.7,552.3 57.7,552.9 57.8,553.6 57.9,554.4 57.9,555.5 58.0,555.4 58.1,556.5 58.1,557.9 58.2,558.5 58.2,559.2 58.3,560.1 58.4,560.0 58.4,561.4 58.5,562.0 58.6,561.9 58.6,563.4 58.7,563.6 58.7,564.4 58.8,564.4 58.9,566.1 58.9,566.1 59.0,567.0 59.1,567.9 59.2,569.0 59.2,570.1 59.3,570.6 59.4,570.9 59.5,571.0 59.6,572.1 59.7,573.0 59.7,573.2 59.8,574.8 59.9,574.6 60.0,575.6 60.1,577.0 60.1,576.6 60.2,577.6 60.3,579.0 60.4,579.7 60.5,579.8 60.6,580.8 60.6,581.4 60.7,581.6 60.8,583.1 61.0,583.7 61.1,584.4 61.3,584.6 61.5,585.5 61.7,586.4 61.8,587.1 62.0,587.8 62.2,588.0 62.4,589.0 62.5,589.6 62.7,590.2 62.9,591.0 63.1,591.6 63.2,592.4 63.4,593.1 64.0,593.6 64.7,594.2 65.3,594.7 66.0,595.3 66.7,595.3 67.4,595.3 68.1,595.3 68.8,595.3 69.5,595.3 70.2,595.4 70.9,595.3 71.6,595.4 72.3,595.4 73.0,595.4 73.7,595.4 74.4,595.4 75.1,595.4 75.8,595.4 76.5,595.4 77.2,595.4 77.9,595.4 78.6,595.4 79.3,595.4 80.0,595.4 80.7,595.4 81.4,595.5 82.1,595.5 82.8,595.5 83.5,595.5 84.2,595.5 84.9,595.5 85.6,595.5 86.3,595.5 87.0,595.5 87.7,595.5 88.4,595.5 89.1,595.5 89.8,595.5 90.5,595.5 91.2,595.5 91.9,595.5 92.6,595.5 93.3,595.6 94.0,595.5 94.7,595.6 95.4,595.6 96.1,595.6 96.8,595.6 97.5,595.6 98.2,595.6 98.9,595.6 99.6,595.6 100.3,595.6 101.0,595.6 101.7,595.6 102.4,595.6 103.1,595.6 103.8,595.6 104.5,595.6 105.2,595.7 105.9,595.7 106.6,595.7 107.3,595.7 108.0,595.7 108.7,595.7 109.4,595.7 110.1,595.7 110.8,595.7 111.5,595.7 112.2,595.7 112.9,595.7 113.6,595.7 114.3,595.7 115.0,595.7 115.7,595.7 116.4,595.8 117.1,595.8 117.8,595.8 118.5,595.8 119.2,595.8 119.9,595.8 120.6,595.8 121.3,595.8" fill="none" stroke="#cc1236" stroke-width="1.3" stroke-linejoin="round"/>
<polyline points="43.8,588.6 44.2,587.9 44.6,587.4 45.0,586.6 45.3,585.8 45.7,585.0 46.1,584.3 46.4,583.4 46.8,583.0 47.1,582.6 47.4,581.3 47.7,581.6 48.1,580.0 48.4,579.8 48.7,579.0 48.8,578.6 48.9,577.5 49.0,577.3 49.2,575.8 49.3,576.3 49.4,575.7 49.5,574.9 49.6,574.0 49.7,572.4 49.8,572.5 49.9,571.7 50.1,571.4 50.2,570.1 50.3,570.0 50.4,568.5 50.5,567.3 50.6,566.8 50.8,567.6 50.9,565.7 51.0,564.6 51.1,564.0 51.2,564.7 51.3,563.7 51.5,562.3 51.6,560.9 51.7,561.6 51.8,559.5 51.9,560.1 52.1,558.8 52.2,558.0 52.3,556.7 52.4,557.1 52.5,556.8 52.6,555.3 52.8,555.4 52.9,553.4 53.0,553.0 53.1,552.5 53.2,551.3 53.3,552.1 53.4,550.5 53.5,548.9 53.6,549.3 53.7,547.7 53.8,547.4 53.9,547.5 54.0,545.9 54.1,545.1 54.2,545.4 54.3,543.7 54.4,544.2 54.5,541.8 54.6,541.2 54.7,542.1 54.8,540.7 54.9,539.9 55.0,539.6 55.1,538.0 55.2,538.4 55.3,536.6 55.5,537.0 55.6,535.6 55.8,535.6 55.9,535.1 56.0,534.1 56.2,532.2 56.3,532.1 56.5,532.2 56.6,530.7 56.7,529.5 56.9,529.3 57.0,528.0 57.2,527.2 57.3,527.5 57.7,525.8 58.1,525.8 58.6,525.0 59.0,525.2 59.5,523.9 59.9,523.5 60.4,523.2 60.6,523.1 60.8,524.4 61.0,524.6 61.2,525.7 61.4,527.1 61.6,528.1 61.7,528.8 61.8,529.2 62.0,528.6 62.1,529.9 62.2,530.5 62.3,531.2 62.4,532.1 62.6,533.2 62.7,532.6 62.8,534.4 62.9,534.1 63.0,536.1 63.2,537.1 63.3,537.3 63.4,538.2 63.5,539.3 63.5,539.9 63.6,539.5 63.7,540.8 63.8,541.3 63.8,542.1 63.9,542.6 64.0,542.6 64.0,543.9 64.1,544.1 64.2,546.3 64.2,546.9 64.3,546.3 64.4,548.0 64.5,549.2 64.5,549.5 64.6,550.2 64.7,550.6 64.7,551.2 64.8,551.8 64.9,552.1 65.0,553.2 65.0,553.8 65.1,554.9 65.2,555.5 65.3,556.1 65.4,558.1 65.5,557.4 65.5,558.4 65.6,559.9 65.7,559.8 65.8,560.0 65.9,561.6 66.0,562.0 66.1,563.5 66.2,563.4 66.3,564.1 66.4,565.2 66.4,566.1 66.5,566.0 66.6,566.6 66.7,568.5 66.8,568.4 66.9,570.3 67.0,570.7 67.1,570.9 67.2,570.8 67.2,571.9 67.3,572.2 67.4,573.8 67.5,574.5 67.6,575.4 67.7,575.5 67.8,577.0 67.9,577.6 68.0,578.1 68.1,578.5 68.1,579.7 68.2,579.9 68.3,580.1 68.4,581.7 68.5,581.6 68.6,582.6 68.8,583.3 69.0,584.4 69.2,584.8 69.3,585.4 69.5,586.4 69.7,587.0 69.9,587.5 70.1,588.1 70.3,588.7 70.5,589.7 70.6,590.2 70.8,591.0 71.0,591.5 71.2,592.3 71.6,592.7 72.0,593.3 72.5,594.0 72.9,594.6 73.3,595.1 73.7,595.7 74.4,595.7 75.1,595.7 75.8,595.7 76.5,595.7 77.2,595.7 77.9,595.7 78.6,595.7 79.3,595.7 80.0,595.7 80.7,595.7 81.4,595.7 82.1,595.7 82.8,595.7 83.5,595.7 84.2,595.7 84.9,595.7 85.6,595.7 86.3,595.7 87.0,595.7 87.7,595.7 88.4,595.7 89.1,595.7 89.8,595.7 90.5,595.7 91.2,595.7 91.9,595.7 92.6,595.7 93.3,595.7 94.0,595.7 94.7,595.7 95.4,595.7 96.1,595.7 96.8,595.7 97.5,595.7 98.2,595.8 98.9,595.8 99.6,595.8 100.3,595.8 101.0,595.8 101.7,595.8 102.4,595.8 103.1,595.8 103.8,595.8 104.5,595.8 105.2,595.8 105.9,595.8 106.6,595.8 107.3,595.8 108.0,595.8 108.7,595.8 109.4,595.8 110.1,595.8 110.8,595.8 111.5,595.8 112.2,595.8 112.9,595.8 113.6,595.8 114.3,595.8 115.0,595.8 115.7,595.8 116.4,595.8 117.1,595.8 117.8,595.8 118.5,595.8 119.2,595.8 119.9,595.8 120.6,595.8 121.3,595.8" fill="none" stroke="#0f4c88" stroke-width="1.3" stroke-linejoin="round"/>
<rect x="43.50" y="516.90" width="78.00" height="78.90" fill="none" stroke="#111" stroke-width="1.1"/>
<line x1="40.50" y1="595.80" x2="43.50" y2="595.80" stroke="#111" stroke-width="0.8"/>
<line x1="41.70" y1="592.79" x2="43.50" y2="592.79" stroke="#111" stroke-width="0.8"/>
<line x1="41.70" y1="589.78" x2="43.50" y2="589.78" stroke="#111" stroke-width="0.8"/>
<line x1="41.70" y1="586.76" x2="43.50" y2="586.76" stroke="#111" stroke-width="0.8"/>
<line x1="41.70" y1="583.75" x2="43.50" y2="583.75" stroke="#111" stroke-width="0.8"/>
<line x1="40.50" y1="580.74" x2="43.50" y2="580.74" stroke="#111" stroke-width="0.8"/>
<line x1="41.70" y1="577.73" x2="43.50" y2="577.73" stroke="#111" stroke-width="0.8"/>
<line x1="41.70" y1="574.72" x2="43.50" y2="574.72" stroke="#111" stroke-width="0.8"/>
<line x1="41.70" y1="571.70" x2="43.50" y2="571.70" stroke="#111" stroke-width="0.8"/>
<line x1="41.70" y1="568.69" x2="43.50" y2="568.69" stroke="#111" stroke-width="0.8"/>
<line x1="40.50" y1="565.68" x2="43.50" y2="565.68" stroke="#111" stroke-width="0.8"/>
<line x1="41.70" y1="562.67" x2="43.50" y2="562.67" stroke="#111" stroke-width="0.8"/>
<line x1="41.70" y1="559.66" x2="43.50" y2="559.66" stroke="#111" stroke-width="0.8"/>
<line x1="41.70" y1="556.64" x2="43.50" y2="556.64" stroke="#111" stroke-width="0.8"/>
<line x1="41.70" y1="553.63" x2="43.50" y2="553.63" stroke="#111" stroke-width="0.8"/>
<line x1="40.50" y1="550.62" x2="43.50" y2="550.62" stroke="#111" stroke-width="0.8"/>
<line x1="41.70" y1="547.61" x2="43.50" y2="547.61" stroke="#111" stroke-width="0.8"/>
<line x1="41.70" y1="544.60" x2="43.50" y2="544.60" stroke="#111" stroke-width="0.8"/>
<line x1="41.70" y1="541.58" x2="43.50" y2="541.58" stroke="#111" stroke-width="0.8"/>
<line x1="41.70" y1="538.57" x2="43.50" y2="538.57" stroke="#111" stroke-width="0.8"/>
<line x1="40.50" y1="535.56" x2="43.50" y2="535.56" stroke="#111" stroke-width="0.8"/>
<line x1="41.70" y1="532.55" x2="43.50" y2="532.55" stroke="#111" stroke-width="0.8"/>
<line x1="41.70" y1="529.54" x2="43.50" y2="529.54" stroke="#111" stroke-width="0.8"/>
<line x1="41.70" y1="526.52" x2="43.50" y2="526.52" stroke="#111" stroke-width="0.8"/>
<line x1="41.70" y1="523.51" x2="43.50" y2="523.51" stroke="#111" stroke-width="0.8"/>
<line x1="40.50" y1="520.50" x2="43.50" y2="520.50" stroke="#111" stroke-width="0.8"/>
<text x="37.90" y="598.03" font-size="8.42" text-anchor="end" textLength="4.10" lengthAdjust="spacingAndGlyphs">0</text>
<text x="37.90" y="582.97" font-size="8.42" text-anchor="end" textLength="8.20" lengthAdjust="spacingAndGlyphs">20</text>
<text x="37.90" y="567.91" font-size="8.42" text-anchor="end" textLength="8.20" lengthAdjust="spacingAndGlyphs">40</text>
<text x="37.90" y="552.85" font-size="8.42" text-anchor="end" textLength="8.20" lengthAdjust="spacingAndGlyphs">60</text>
<text x="37.90" y="537.79" font-size="8.42" text-anchor="end" textLength="8.20" lengthAdjust="spacingAndGlyphs">80</text>
<text x="37.90" y="522.73" font-size="8.42" text-anchor="end" textLength="12.30" lengthAdjust="spacingAndGlyphs">100</text>
<line x1="43.50" y1="595.80" x2="43.50" y2="598.20" stroke="#111" stroke-width="0.8"/>
<line x1="49.37" y1="595.80" x2="49.37" y2="597.20" stroke="#111" stroke-width="0.8"/>
<line x1="52.80" y1="595.80" x2="52.80" y2="597.20" stroke="#111" stroke-width="0.8"/>
<line x1="55.24" y1="595.80" x2="55.24" y2="597.20" stroke="#111" stroke-width="0.8"/>
<line x1="57.13" y1="595.80" x2="57.13" y2="597.20" stroke="#111" stroke-width="0.8"/>
<line x1="58.67" y1="595.80" x2="58.67" y2="597.20" stroke="#111" stroke-width="0.8"/>
<line x1="59.98" y1="595.80" x2="59.98" y2="597.20" stroke="#111" stroke-width="0.8"/>
<line x1="61.11" y1="595.80" x2="61.11" y2="597.20" stroke="#111" stroke-width="0.8"/>
<line x1="62.11" y1="595.80" x2="62.11" y2="597.20" stroke="#111" stroke-width="0.8"/>
<line x1="63.00" y1="595.80" x2="63.00" y2="598.20" stroke="#111" stroke-width="0.8"/>
<line x1="68.87" y1="595.80" x2="68.87" y2="597.20" stroke="#111" stroke-width="0.8"/>
<line x1="72.30" y1="595.80" x2="72.30" y2="597.20" stroke="#111" stroke-width="0.8"/>
<line x1="74.74" y1="595.80" x2="74.74" y2="597.20" stroke="#111" stroke-width="0.8"/>
<line x1="76.63" y1="595.80" x2="76.63" y2="597.20" stroke="#111" stroke-width="0.8"/>
<line x1="78.17" y1="595.80" x2="78.17" y2="597.20" stroke="#111" stroke-width="0.8"/>
<line x1="79.48" y1="595.80" x2="79.48" y2="597.20" stroke="#111" stroke-width="0.8"/>
<line x1="80.61" y1="595.80" x2="80.61" y2="597.20" stroke="#111" stroke-width="0.8"/>
<line x1="81.61" y1="595.80" x2="81.61" y2="597.20" stroke="#111" stroke-width="0.8"/>
<line x1="82.50" y1="595.80" x2="82.50" y2="598.20" stroke="#111" stroke-width="0.8"/>
<line x1="88.37" y1="595.80" x2="88.37" y2="597.20" stroke="#111" stroke-width="0.8"/>
<line x1="91.80" y1="595.80" x2="91.80" y2="597.20" stroke="#111" stroke-width="0.8"/>
<line x1="94.24" y1="595.80" x2="94.24" y2="597.20" stroke="#111" stroke-width="0.8"/>
<line x1="96.13" y1="595.80" x2="96.13" y2="597.20" stroke="#111" stroke-width="0.8"/>
<line x1="97.67" y1="595.80" x2="97.67" y2="597.20" stroke="#111" stroke-width="0.8"/>
<line x1="98.98" y1="595.80" x2="98.98" y2="597.20" stroke="#111" stroke-width="0.8"/>
<line x1="100.11" y1="595.80" x2="100.11" y2="597.20" stroke="#111" stroke-width="0.8"/>
<line x1="101.11" y1="595.80" x2="101.11" y2="597.20" stroke="#111" stroke-width="0.8"/>
<line x1="102.00" y1="595.80" x2="102.00" y2="598.20" stroke="#111" stroke-width="0.8"/>
<line x1="107.87" y1="595.80" x2="107.87" y2="597.20" stroke="#111" stroke-width="0.8"/>
<line x1="111.30" y1="595.80" x2="111.30" y2="597.20" stroke="#111" stroke-width="0.8"/>
<line x1="113.74" y1="595.80" x2="113.74" y2="597.20" stroke="#111" stroke-width="0.8"/>
<line x1="115.63" y1="595.80" x2="115.63" y2="597.20" stroke="#111" stroke-width="0.8"/>
<line x1="117.17" y1="595.80" x2="117.17" y2="597.20" stroke="#111" stroke-width="0.8"/>
<line x1="118.48" y1="595.80" x2="118.48" y2="597.20" stroke="#111" stroke-width="0.8"/>
<line x1="119.61" y1="595.80" x2="119.61" y2="597.20" stroke="#111" stroke-width="0.8"/>
<line x1="120.61" y1="595.80" x2="120.61" y2="597.20" stroke="#111" stroke-width="0.8"/>
<line x1="121.50" y1="595.80" x2="121.50" y2="598.20" stroke="#111" stroke-width="0.8"/>
<text x="37.90" y="608.70" font-size="8.4" textLength="8.2" lengthAdjust="spacingAndGlyphs" fill="#111">10</text><text x="46.30" y="605.40" font-size="6.2" fill="#111">0</text>
<text x="57.40" y="608.70" font-size="8.4" textLength="8.2" lengthAdjust="spacingAndGlyphs" fill="#111">10</text><text x="65.80" y="605.40" font-size="6.2" fill="#111">1</text>
<text x="76.90" y="608.70" font-size="8.4" textLength="8.2" lengthAdjust="spacingAndGlyphs" fill="#111">10</text><text x="85.30" y="605.40" font-size="6.2" fill="#111">2</text>
<text x="96.40" y="608.70" font-size="8.4" textLength="8.2" lengthAdjust="spacingAndGlyphs" fill="#111">10</text><text x="104.80" y="605.40" font-size="6.2" fill="#111">3</text>
<text x="115.90" y="608.70" font-size="8.4" textLength="8.2" lengthAdjust="spacingAndGlyphs" fill="#111">10</text><text x="124.30" y="605.40" font-size="6.2" fill="#111">4</text>
<polyline points="150.9,564.9 150.9,563.6 151.0,562.1 151.0,563.0 151.0,560.9 151.1,561.2 151.1,559.5 151.1,559.3 151.2,558.7 151.2,557.5 151.9,557.6 152.5,557.9 153.2,556.3 153.2,556.1 153.3,556.0 153.3,553.9 153.4,554.5 153.4,553.9 153.5,552.6 153.5,550.9 153.5,550.6 153.6,549.8 153.6,549.6 153.7,548.4 153.7,549.0 153.8,548.3 153.8,546.0 154.1,546.6 154.3,545.1 154.6,544.5 154.8,543.6 155.1,542.6 155.5,542.3 156.0,541.8 156.4,540.7 156.8,539.8 157.3,539.4 157.7,538.4 157.8,538.5 157.9,537.6 158.0,537.2 158.0,536.3 158.1,535.6 158.2,534.1 158.3,533.7 158.4,532.4 158.5,532.9 158.6,532.4 158.7,531.2 158.7,530.2 158.8,529.1 158.9,528.8 159.0,528.5 159.4,527.3 159.9,526.9 160.1,526.7 160.3,527.8 160.6,529.1 160.8,530.5 161.0,530.2 161.1,531.3 161.1,531.7 161.2,532.0 161.2,533.1 161.3,534.5 161.3,534.6 161.4,535.5 161.4,536.3 161.5,537.2 161.5,537.9 161.6,538.7 162.5,539.7 162.8,540.0 163.0,540.7 163.3,542.1 163.5,542.0 163.8,543.0 163.9,542.9 163.9,544.6 164.0,545.3 164.1,546.6 164.2,545.8 164.2,546.9 164.3,548.5 164.4,549.3 164.5,549.9 164.5,549.8 164.6,551.8 164.7,551.9 164.8,553.1 164.8,553.8 164.9,554.3 165.0,554.7 165.0,555.7 165.1,555.4 165.1,557.3 165.2,558.3 165.3,558.5 165.3,559.2 165.4,560.1 165.4,560.7 165.5,560.4 165.6,562.4 165.6,563.0 165.7,562.7 165.7,564.0 165.8,563.9 165.8,564.9 165.9,565.8 166.0,566.8 166.0,568.0 166.1,569.0 166.1,569.4 166.2,569.3 166.3,570.0 166.3,570.3 166.4,571.8 166.5,572.3 166.6,573.3 166.6,573.8 166.7,574.9 166.8,575.7 166.8,575.9 166.9,576.8 167.0,577.7 167.1,577.8 167.1,579.1 167.2,579.2 167.3,580.1 167.4,581.0 167.4,581.8 167.5,582.4 167.6,583.5 167.8,583.7 167.9,584.8 168.0,585.4 168.1,585.8 168.3,586.5 168.4,587.5 168.5,588.1 168.6,588.8 168.8,589.6 168.9,590.0 169.0,590.7 169.1,591.7 169.3,592.2 169.4,592.9 169.9,593.4 170.4,593.9 170.9,594.5 171.4,595.0 172.3,595.2 173.1,595.5 174.0,595.8 174.7,595.7 175.4,595.8 176.1,595.7 176.8,595.8 177.5,595.7 178.2,595.7 178.9,595.7 179.6,595.8 180.3,595.8 181.0,595.7 181.7,595.8 182.4,595.8 183.1,595.7 183.8,595.8 184.5,595.8 185.2,595.7 185.9,595.8 186.6,595.8 187.3,595.7 188.0,595.7 188.7,595.7 189.4,595.8 190.1,595.8 190.8,595.8 191.5,595.7 192.2,595.7 192.9,595.7 193.6,595.7 194.3,595.8 195.0,595.8 195.7,595.7 196.4,595.8 197.1,595.8 197.8,595.8 198.5,595.8 199.2,595.7 199.9,595.8 200.6,595.8 201.3,595.7 202.0,595.8 202.7,595.7 203.4,595.8 204.1,595.8 204.8,595.7 205.5,595.7 206.2,595.8 206.9,595.8 207.6,595.8 208.3,595.8 209.0,595.7 209.7,595.7 210.4,595.8 211.1,595.7 211.8,595.7 212.5,595.7 213.2,595.8 213.9,595.8 214.6,595.7 215.3,595.8 216.0,595.7 216.7,595.7 217.4,595.8 218.1,595.8 218.8,595.7 219.5,595.7 220.2,595.7 220.9,595.8 221.6,595.7 222.3,595.7 223.0,595.7 223.7,595.7 224.4,595.8 225.1,595.8 225.8,595.8 226.5,595.7 227.2,595.8 227.9,595.7 228.6,595.8 229.3,595.7 230.0,595.8" fill="none" stroke="#cc1236" stroke-width="1.3" stroke-linejoin="round"/>
<polyline points="150.9,593.6 151.6,593.1 152.3,592.9 153.1,592.4 153.8,592.1 154.5,591.6 154.9,590.9 155.4,590.6 155.8,590.0 156.2,589.3 156.7,588.6 157.1,588.3 157.5,587.4 158.0,587.2 158.4,586.7 158.6,585.4 158.9,584.9 159.1,584.7 159.3,583.8 159.6,582.6 159.8,582.1 160.1,581.8 160.3,580.2 160.5,579.6 160.8,579.6 161.0,578.5 161.1,578.1 161.3,577.1 161.4,576.5 161.6,576.1 161.7,575.5 161.9,573.9 162.0,573.9 162.2,573.8 162.3,573.1 162.5,571.0 162.6,571.0 162.8,569.8 162.9,570.5 163.0,568.5 163.1,568.9 163.2,567.3 163.3,567.5 163.5,565.2 163.6,565.3 163.7,564.7 163.8,563.7 163.9,562.7 164.0,563.0 164.1,560.9 164.2,561.5 164.3,560.9 164.5,560.1 164.6,559.0 164.7,557.9 164.8,557.3 164.9,556.1 165.0,555.5 165.1,555.2 165.2,553.7 165.2,552.9 165.3,553.4 165.4,553.2 165.5,552.0 165.6,550.2 165.7,549.5 165.8,548.7 165.9,549.0 165.9,548.5 166.0,547.3 166.1,545.9 166.2,546.8 166.3,545.8 166.4,544.0 166.5,544.5 166.5,543.9 166.6,542.1 166.7,541.8 166.8,540.1 166.9,540.0 167.0,539.0 167.1,539.6 167.2,538.4 167.3,536.8 167.4,537.0 167.4,535.1 167.5,534.3 167.6,534.2 167.7,534.2 167.8,533.6 167.9,531.7 168.0,531.0 168.1,530.5 168.3,529.6 168.5,529.4 168.6,528.2 168.8,527.0 169.0,526.3 169.2,527.6 169.4,527.5 169.7,528.5 169.9,529.3 170.1,530.1 170.2,530.5 170.3,532.1 170.5,533.0 170.6,533.1 170.7,534.9 170.8,534.5 170.9,535.6 171.0,536.5 171.2,537.2 171.3,538.5 171.4,537.6 171.5,538.4 171.5,539.1 171.6,539.9 171.7,541.1 171.8,542.1 171.8,543.2 171.9,544.1 172.0,544.3 172.1,545.0 172.1,545.5 172.2,545.8 172.3,546.6 172.3,547.5 172.4,547.8 172.5,549.5 172.6,549.5 172.6,551.5 172.7,551.1 172.8,552.6 172.8,552.4 172.9,553.0 173.0,554.1 173.1,555.0 173.1,556.4 173.2,555.7 173.3,556.1 173.4,557.0 173.4,559.0 173.5,558.3 173.6,560.6 173.6,559.9 173.7,561.9 173.8,561.6 173.9,563.3 173.9,563.2 174.0,563.8 174.1,563.8 174.2,565.2 174.2,566.0 174.3,567.6 174.4,567.5 174.5,568.8 174.5,568.8 174.6,569.8 174.7,570.5 174.8,570.3 174.9,571.9 175.0,572.8 175.1,573.0 175.1,573.4 175.2,574.1 175.3,575.2 175.4,576.6 175.5,576.6 175.6,577.1 175.7,578.1 175.8,579.1 175.9,579.9 176.0,579.8 176.1,580.9 176.1,581.2 176.2,582.2 176.3,583.0 176.4,583.5 176.5,584.2 176.6,585.4 176.8,585.7 176.9,586.8 177.1,587.1 177.3,587.8 177.5,588.5 177.6,589.5 177.8,589.9 178.0,590.7 178.2,591.5 178.3,592.2 178.5,593.0 179.0,593.4 179.5,593.9 180.0,594.5 180.5,595.0 181.3,595.3 182.2,595.5 183.0,595.8 183.7,595.8 184.4,595.7 185.1,595.7 185.8,595.7 186.5,595.8 187.2,595.7 187.9,595.7 188.6,595.7 189.3,595.7 190.0,595.8 190.7,595.7 191.4,595.8 192.1,595.8 192.8,595.7 193.5,595.8 194.2,595.7 194.9,595.8 195.6,595.8 196.3,595.7 197.0,595.7 197.7,595.7 198.4,595.7 199.1,595.7 199.8,595.8 200.5,595.8 201.2,595.7 201.9,595.7 202.6,595.7 203.3,595.7 204.0,595.7 204.7,595.7 205.4,595.8 206.1,595.7 206.9,595.8 207.6,595.8 208.3,595.8 209.0,595.7 209.7,595.8 210.4,595.8 211.1,595.7 211.8,595.8 212.5,595.7 213.2,595.8 213.9,595.7 214.6,595.8 215.3,595.7 216.0,595.8 216.7,595.7 217.4,595.8 218.1,595.7 218.8,595.7 219.5,595.8 220.2,595.7 220.9,595.8 221.6,595.8 222.3,595.7 223.0,595.8 223.7,595.7 224.4,595.8 225.1,595.8 225.8,595.8 226.5,595.7 227.2,595.7 227.9,595.7 228.6,595.7 229.3,595.7 230.0,595.8" fill="none" stroke="#0f4c88" stroke-width="1.3" stroke-linejoin="round"/>
<rect x="150.00" y="516.80" width="80.00" height="79.00" fill="none" stroke="#111" stroke-width="1.1"/>
<line x1="147.00" y1="595.80" x2="150.00" y2="595.80" stroke="#111" stroke-width="0.8"/>
<line x1="148.20" y1="592.78" x2="150.00" y2="592.78" stroke="#111" stroke-width="0.8"/>
<line x1="148.20" y1="589.77" x2="150.00" y2="589.77" stroke="#111" stroke-width="0.8"/>
<line x1="148.20" y1="586.75" x2="150.00" y2="586.75" stroke="#111" stroke-width="0.8"/>
<line x1="148.20" y1="583.74" x2="150.00" y2="583.74" stroke="#111" stroke-width="0.8"/>
<line x1="147.00" y1="580.72" x2="150.00" y2="580.72" stroke="#111" stroke-width="0.8"/>
<line x1="148.20" y1="577.70" x2="150.00" y2="577.70" stroke="#111" stroke-width="0.8"/>
<line x1="148.20" y1="574.69" x2="150.00" y2="574.69" stroke="#111" stroke-width="0.8"/>
<line x1="148.20" y1="571.67" x2="150.00" y2="571.67" stroke="#111" stroke-width="0.8"/>
<line x1="148.20" y1="568.66" x2="150.00" y2="568.66" stroke="#111" stroke-width="0.8"/>
<line x1="147.00" y1="565.64" x2="150.00" y2="565.64" stroke="#111" stroke-width="0.8"/>
<line x1="148.20" y1="562.62" x2="150.00" y2="562.62" stroke="#111" stroke-width="0.8"/>
<line x1="148.20" y1="559.61" x2="150.00" y2="559.61" stroke="#111" stroke-width="0.8"/>
<line x1="148.20" y1="556.59" x2="150.00" y2="556.59" stroke="#111" stroke-width="0.8"/>
<line x1="148.20" y1="553.58" x2="150.00" y2="553.58" stroke="#111" stroke-width="0.8"/>
<line x1="147.00" y1="550.56" x2="150.00" y2="550.56" stroke="#111" stroke-width="0.8"/>
<line x1="148.20" y1="547.54" x2="150.00" y2="547.54" stroke="#111" stroke-width="0.8"/>
<line x1="148.20" y1="544.53" x2="150.00" y2="544.53" stroke="#111" stroke-width="0.8"/>
<line x1="148.20" y1="541.51" x2="150.00" y2="541.51" stroke="#111" stroke-width="0.8"/>
<line x1="148.20" y1="538.50" x2="150.00" y2="538.50" stroke="#111" stroke-width="0.8"/>
<line x1="147.00" y1="535.48" x2="150.00" y2="535.48" stroke="#111" stroke-width="0.8"/>
<line x1="148.20" y1="532.46" x2="150.00" y2="532.46" stroke="#111" stroke-width="0.8"/>
<line x1="148.20" y1="529.45" x2="150.00" y2="529.45" stroke="#111" stroke-width="0.8"/>
<line x1="148.20" y1="526.43" x2="150.00" y2="526.43" stroke="#111" stroke-width="0.8"/>
<line x1="148.20" y1="523.42" x2="150.00" y2="523.42" stroke="#111" stroke-width="0.8"/>
<line x1="147.00" y1="520.40" x2="150.00" y2="520.40" stroke="#111" stroke-width="0.8"/>
<text x="144.40" y="598.03" font-size="8.42" text-anchor="end" textLength="4.10" lengthAdjust="spacingAndGlyphs">0</text>
<text x="144.40" y="582.95" font-size="8.42" text-anchor="end" textLength="8.20" lengthAdjust="spacingAndGlyphs">20</text>
<text x="144.40" y="567.87" font-size="8.42" text-anchor="end" textLength="8.20" lengthAdjust="spacingAndGlyphs">40</text>
<text x="144.40" y="552.79" font-size="8.42" text-anchor="end" textLength="8.20" lengthAdjust="spacingAndGlyphs">60</text>
<text x="144.40" y="537.71" font-size="8.42" text-anchor="end" textLength="8.20" lengthAdjust="spacingAndGlyphs">80</text>
<text x="144.40" y="522.63" font-size="8.42" text-anchor="end" textLength="12.30" lengthAdjust="spacingAndGlyphs">100</text>
<line x1="150.00" y1="595.80" x2="150.00" y2="598.20" stroke="#111" stroke-width="0.8"/>
<line x1="156.02" y1="595.80" x2="156.02" y2="597.20" stroke="#111" stroke-width="0.8"/>
<line x1="159.54" y1="595.80" x2="159.54" y2="597.20" stroke="#111" stroke-width="0.8"/>
<line x1="162.04" y1="595.80" x2="162.04" y2="597.20" stroke="#111" stroke-width="0.8"/>
<line x1="163.98" y1="595.80" x2="163.98" y2="597.20" stroke="#111" stroke-width="0.8"/>
<line x1="165.56" y1="595.80" x2="165.56" y2="597.20" stroke="#111" stroke-width="0.8"/>
<line x1="166.90" y1="595.80" x2="166.90" y2="597.20" stroke="#111" stroke-width="0.8"/>
<line x1="168.06" y1="595.80" x2="168.06" y2="597.20" stroke="#111" stroke-width="0.8"/>
<line x1="169.08" y1="595.80" x2="169.08" y2="597.20" stroke="#111" stroke-width="0.8"/>
<line x1="170.00" y1="595.80" x2="170.00" y2="598.20" stroke="#111" stroke-width="0.8"/>
<line x1="176.02" y1="595.80" x2="176.02" y2="597.20" stroke="#111" stroke-width="0.8"/>
<line x1="179.54" y1="595.80" x2="179.54" y2="597.20" stroke="#111" stroke-width="0.8"/>
<line x1="182.04" y1="595.80" x2="182.04" y2="597.20" stroke="#111" stroke-width="0.8"/>
<line x1="183.98" y1="595.80" x2="183.98" y2="597.20" stroke="#111" stroke-width="0.8"/>
<line x1="185.56" y1="595.80" x2="185.56" y2="597.20" stroke="#111" stroke-width="0.8"/>
<line x1="186.90" y1="595.80" x2="186.90" y2="597.20" stroke="#111" stroke-width="0.8"/>
<line x1="188.06" y1="595.80" x2="188.06" y2="597.20" stroke="#111" stroke-width="0.8"/>
<line x1="189.08" y1="595.80" x2="189.08" y2="597.20" stroke="#111" stroke-width="0.8"/>
<line x1="190.00" y1="595.80" x2="190.00" y2="598.20" stroke="#111" stroke-width="0.8"/>
<line x1="196.02" y1="595.80" x2="196.02" y2="597.20" stroke="#111" stroke-width="0.8"/>
<line x1="199.54" y1="595.80" x2="199.54" y2="597.20" stroke="#111" stroke-width="0.8"/>
<line x1="202.04" y1="595.80" x2="202.04" y2="597.20" stroke="#111" stroke-width="0.8"/>
<line x1="203.98" y1="595.80" x2="203.98" y2="597.20" stroke="#111" stroke-width="0.8"/>
<line x1="205.56" y1="595.80" x2="205.56" y2="597.20" stroke="#111" stroke-width="0.8"/>
<line x1="206.90" y1="595.80" x2="206.90" y2="597.20" stroke="#111" stroke-width="0.8"/>
<line x1="208.06" y1="595.80" x2="208.06" y2="597.20" stroke="#111" stroke-width="0.8"/>
<line x1="209.08" y1="595.80" x2="209.08" y2="597.20" stroke="#111" stroke-width="0.8"/>
<line x1="210.00" y1="595.80" x2="210.00" y2="598.20" stroke="#111" stroke-width="0.8"/>
<line x1="216.02" y1="595.80" x2="216.02" y2="597.20" stroke="#111" stroke-width="0.8"/>
<line x1="219.54" y1="595.80" x2="219.54" y2="597.20" stroke="#111" stroke-width="0.8"/>
<line x1="222.04" y1="595.80" x2="222.04" y2="597.20" stroke="#111" stroke-width="0.8"/>
<line x1="223.98" y1="595.80" x2="223.98" y2="597.20" stroke="#111" stroke-width="0.8"/>
<line x1="225.56" y1="595.80" x2="225.56" y2="597.20" stroke="#111" stroke-width="0.8"/>
<line x1="226.90" y1="595.80" x2="226.90" y2="597.20" stroke="#111" stroke-width="0.8"/>
<line x1="228.06" y1="595.80" x2="228.06" y2="597.20" stroke="#111" stroke-width="0.8"/>
<line x1="229.08" y1="595.80" x2="229.08" y2="597.20" stroke="#111" stroke-width="0.8"/>
<line x1="230.00" y1="595.80" x2="230.00" y2="598.20" stroke="#111" stroke-width="0.8"/>
<text x="144.40" y="608.70" font-size="8.4" textLength="8.2" lengthAdjust="spacingAndGlyphs" fill="#111">10</text><text x="152.80" y="605.40" font-size="6.2" fill="#111">0</text>
<text x="164.40" y="608.70" font-size="8.4" textLength="8.2" lengthAdjust="spacingAndGlyphs" fill="#111">10</text><text x="172.80" y="605.40" font-size="6.2" fill="#111">1</text>
<text x="184.40" y="608.70" font-size="8.4" textLength="8.2" lengthAdjust="spacingAndGlyphs" fill="#111">10</text><text x="192.80" y="605.40" font-size="6.2" fill="#111">2</text>
<text x="204.40" y="608.70" font-size="8.4" textLength="8.2" lengthAdjust="spacingAndGlyphs" fill="#111">10</text><text x="212.80" y="605.40" font-size="6.2" fill="#111">3</text>
<text x="224.40" y="608.70" font-size="8.4" textLength="8.2" lengthAdjust="spacingAndGlyphs" fill="#111">10</text><text x="232.80" y="605.40" font-size="6.2" fill="#111">4</text>
<text x="233.75" y="462.00" font-size="11.11" textLength="16.30" lengthAdjust="spacingAndGlyphs">PBS</text>
<text x="233.75" y="563.25" font-size="11.11" textLength="20.50" lengthAdjust="spacingAndGlyphs">IL-33</text>
<line x1="20.00" y1="419.20" x2="20.00" y2="596.70" stroke="#111" stroke-width="1.1"/>
<polygon points="20.00,415.20 17.20,420.20 22.80,420.20" fill="#111"/>
<text transform="translate(15.83,505.50) rotate(-90)" font-size="10.65" text-anchor="middle" fill="#111" textLength="20.40" lengthAdjust="spacingAndGlyphs">Max%</text>
<line x1="43.50" y1="616.00" x2="118.00" y2="616.00" stroke="#111" stroke-width="1.1"/>
<polygon points="122.00,616.00 116.00,613.20 116.00,618.80" fill="#111"/>
<line x1="150.00" y1="616.00" x2="225.00" y2="616.00" stroke="#111" stroke-width="1.1"/>
<polygon points="229.00,616.00 223.00,613.20 223.00,618.80" fill="#111"/>
<text x="83.00" y="626.74" font-size="11.23" text-anchor="middle" textLength="23.00" lengthAdjust="spacingAndGlyphs">CD62P</text>
<text x="190.00" y="627.29" font-size="11.23" text-anchor="middle" textLength="20.50" lengthAdjust="spacingAndGlyphs">Jon/A</text>
<text x="7.50" y="264.84" font-size="13.45" font-weight="bold" textLength="7.50" lengthAdjust="spacingAndGlyphs">B</text>
<text x="121.20" y="264.00" font-size="11.11" text-anchor="middle" textLength="37.50" lengthAdjust="spacingAndGlyphs">WT mice</text>
<rect x="29.50" y="270.00" width="3.0" height="3.0" fill="#d0021b"/>
<text x="37.00" y="274.87" font-size="8.54" textLength="13.00" lengthAdjust="spacingAndGlyphs">PBS</text>
<polygon points="31.00,279.05 33.20,281.25 31.00,283.45 28.80,281.25" fill="#0d4d8c"/>
<text x="37.00" y="284.32" font-size="8.54" textLength="16.25" lengthAdjust="spacingAndGlyphs">IL-33</text>
<text x="62.50" y="284.75" font-size="11.11" textLength="30.50" lengthAdjust="spacingAndGlyphs">CD62P</text>
<text x="153.75" y="284.75" font-size="11.11" textLength="26.25" lengthAdjust="spacingAndGlyphs">Jon/A</text>
<line x1="43.20" y1="290.50" x2="43.20" y2="356.50" stroke="#111" stroke-width="1.1"/>
<line x1="42.70" y1="356.00" x2="111.80" y2="356.00" stroke="#111" stroke-width="1.1"/>
<line x1="40.70" y1="356.00" x2="43.20" y2="356.00" stroke="#111" stroke-width="0.9"/>
<text x="37.30" y="359.03" font-size="8.42" text-anchor="end" textLength="4.30" lengthAdjust="spacingAndGlyphs">0</text>
<line x1="40.70" y1="343.68" x2="43.20" y2="343.68" stroke="#111" stroke-width="0.9"/>
<text x="37.30" y="346.71" font-size="8.42" text-anchor="end" textLength="4.30" lengthAdjust="spacingAndGlyphs">5</text>
<line x1="40.70" y1="331.36" x2="43.20" y2="331.36" stroke="#111" stroke-width="0.9"/>
<text x="37.30" y="334.39" font-size="8.42" text-anchor="end" textLength="8.60" lengthAdjust="spacingAndGlyphs">10</text>
<line x1="40.70" y1="319.04" x2="43.20" y2="319.04" stroke="#111" stroke-width="0.9"/>
<text x="37.30" y="322.07" font-size="8.42" text-anchor="end" textLength="8.60" lengthAdjust="spacingAndGlyphs">15</text>
<line x1="40.70" y1="306.72" x2="43.20" y2="306.72" stroke="#111" stroke-width="0.9"/>
<text x="37.30" y="309.75" font-size="8.42" text-anchor="end" textLength="8.60" lengthAdjust="spacingAndGlyphs">20</text>
<line x1="40.70" y1="294.40" x2="43.20" y2="294.40" stroke="#111" stroke-width="0.9"/>
<text x="37.30" y="297.43" font-size="8.42" text-anchor="end" textLength="8.60" lengthAdjust="spacingAndGlyphs">25</text>
<rect x="48.00" y="350.50" width="9.00" height="5.50" fill="#e68a99"/>
<line x1="52.50" y1="349.00" x2="52.50" y2="352.50" stroke="#111" stroke-width="0.9"/>
<line x1="50.30" y1="349.00" x2="54.70" y2="349.00" stroke="#111" stroke-width="0.9"/>
<line x1="50.30" y1="352.50" x2="54.70" y2="352.50" stroke="#111" stroke-width="0.9"/>
<rect x="48.00" y="348.00" width="3.0" height="3.0" fill="#d0021b"/>
<rect x="50.50" y="347.50" width="3.0" height="3.0" fill="#d0021b"/>
<rect x="53.50" y="348.50" width="3.0" height="3.0" fill="#d0021b"/>
<rect x="48.50" y="350.50" width="3.0" height="3.0" fill="#d0021b"/>
<rect x="51.50" y="351.00" width="3.0" height="3.0" fill="#d0021b"/>
<rect x="54.50" y="350.50" width="3.0" height="3.0" fill="#d0021b"/>
<rect x="50.00" y="352.50" width="3.0" height="3.0" fill="#d0021b"/>
<rect x="53.00" y="352.50" width="3.0" height="3.0" fill="#d0021b"/>
<rect x="47.30" y="352.00" width="3.0" height="3.0" fill="#d0021b"/>
<rect x="55.00" y="352.30" width="3.0" height="3.0" fill="#d0021b"/>
<rect x="61.80" y="334.70" width="9.00" height="21.30" fill="#e68a99"/>
<line x1="66.30" y1="323.10" x2="66.30" y2="335.70" stroke="#111" stroke-width="0.9"/>
<line x1="64.10" y1="323.10" x2="68.50" y2="323.10" stroke="#111" stroke-width="0.9"/>
<line x1="64.10" y1="335.70" x2="68.50" y2="335.70" stroke="#111" stroke-width="0.9"/>
<rect x="64.75" y="316.10" width="3.0" height="3.0" fill="#d0021b"/>
<rect x="61.10" y="323.00" width="3.0" height="3.0" fill="#d0021b"/>
<rect x="61.10" y="326.00" width="3.0" height="3.0" fill="#d0021b"/>
<rect x="61.10" y="329.00" width="3.0" height="3.0" fill="#d0021b"/>
<rect x="61.10" y="332.00" width="3.0" height="3.0" fill="#d0021b"/>
<rect x="68.10" y="323.00" width="3.0" height="3.0" fill="#d0021b"/>
<rect x="68.10" y="326.00" width="3.0" height="3.0" fill="#d0021b"/>
<rect x="68.10" y="329.00" width="3.0" height="3.0" fill="#d0021b"/>
<rect x="68.10" y="332.00" width="3.0" height="3.0" fill="#d0021b"/>
<rect x="64.70" y="335.00" width="3.0" height="3.0" fill="#d0021b"/>
<rect x="64.70" y="338.00" width="3.0" height="3.0" fill="#d0021b"/>
<rect x="84.50" y="350.00" width="9.00" height="6.00" fill="#86a7c9"/>
<line x1="89.00" y1="348.50" x2="89.00" y2="352.00" stroke="#111" stroke-width="0.9"/>
<line x1="86.80" y1="348.50" x2="91.20" y2="348.50" stroke="#111" stroke-width="0.9"/>
<line x1="86.80" y1="352.00" x2="91.20" y2="352.00" stroke="#111" stroke-width="0.9"/>
<polygon points="89.00,345.80 91.20,348.00 89.00,350.20 86.80,348.00" fill="#0d4d8c"/>
<polygon points="87.00,347.80 89.20,350.00 87.00,352.20 84.80,350.00" fill="#0d4d8c"/>
<polygon points="91.00,347.80 93.20,350.00 91.00,352.20 88.80,350.00" fill="#0d4d8c"/>
<polygon points="85.50,350.30 87.70,352.50 85.50,354.70 83.30,352.50" fill="#0d4d8c"/>
<polygon points="88.50,350.30 90.70,352.50 88.50,354.70 86.30,352.50" fill="#0d4d8c"/>
<polygon points="92.50,350.30 94.70,352.50 92.50,354.70 90.30,352.50" fill="#0d4d8c"/>
<polygon points="89.00,351.80 91.20,354.00 89.00,356.20 86.80,354.00" fill="#0d4d8c"/>
<polygon points="86.50,352.10 88.70,354.30 86.50,356.50 84.30,354.30" fill="#0d4d8c"/>
<polygon points="91.50,352.10 93.70,354.30 91.50,356.50 89.30,354.30" fill="#0d4d8c"/>
<polygon points="89.00,348.80 91.20,351.00 89.00,353.20 86.80,351.00" fill="#0d4d8c"/>
<rect x="98.40" y="319.60" width="9.00" height="36.40" fill="#86a7c9"/>
<line x1="102.90" y1="310.20" x2="102.90" y2="328.10" stroke="#111" stroke-width="0.9"/>
<line x1="100.70" y1="310.20" x2="105.10" y2="310.20" stroke="#111" stroke-width="0.9"/>
<line x1="100.70" y1="328.10" x2="105.10" y2="328.10" stroke="#111" stroke-width="0.9"/>
<polygon points="102.80,303.30 105.00,305.50 102.80,307.70 100.60,305.50" fill="#0d4d8c"/>
<polygon points="99.60,307.60 101.80,309.80 99.60,312.00 97.40,309.80" fill="#0d4d8c"/>
<polygon points="106.60,308.00 108.80,310.20 106.60,312.40 104.40,310.20" fill="#0d4d8c"/>
<polygon points="103.10,312.80 105.30,315.00 103.10,317.20 100.90,315.00" fill="#0d4d8c"/>
<polygon points="103.10,316.10 105.30,318.30 103.10,320.50 100.90,318.30" fill="#0d4d8c"/>
<polygon points="100.00,322.00 102.20,324.20 100.00,326.40 97.80,324.20" fill="#0d4d8c"/>
<polygon points="106.50,322.60 108.70,324.80 106.50,327.00 104.30,324.80" fill="#0d4d8c"/>
<polygon points="103.10,319.40 105.30,321.60 103.10,323.80 100.90,321.60" fill="#0d4d8c"/>
<polygon points="99.60,324.60 101.80,326.80 99.60,329.00 97.40,326.80" fill="#0d4d8c"/>
<polygon points="106.60,327.20 108.80,329.40 106.60,331.60 104.40,329.40" fill="#0d4d8c"/>
<polygon points="99.60,329.80 101.80,332.00 99.60,334.20 97.40,332.00" fill="#0d4d8c"/>
<line x1="49.50" y1="312.50" x2="69.50" y2="312.50" stroke="#111" stroke-width="0.9"/>
<text x="59.50" y="312.50" font-size="9.36" text-anchor="middle" font-weight="bold" textLength="9.90" lengthAdjust="spacingAndGlyphs">***</text>
<line x1="63.75" y1="293.75" x2="106.25" y2="293.75" stroke="#111" stroke-width="0.9"/>
<text x="85.00" y="293.80" font-size="9.36" text-anchor="middle" font-weight="bold" textLength="6.60" lengthAdjust="spacingAndGlyphs">**</text>
<line x1="52.70" y1="356.00" x2="52.70" y2="358.20" stroke="#111" stroke-width="0.9"/>
<line x1="50.60" y1="366.65" x2="54.80" y2="366.65" stroke="#111" stroke-width="1.0"/>
<line x1="66.30" y1="356.00" x2="66.30" y2="358.20" stroke="#111" stroke-width="0.9"/>
<line x1="64.40" y1="366.25" x2="68.20" y2="366.25" stroke="#111" stroke-width="1.0"/>
<line x1="66.30" y1="364.35" x2="66.30" y2="368.15" stroke="#111" stroke-width="1.0"/>
<line x1="89.00" y1="356.00" x2="89.00" y2="358.20" stroke="#111" stroke-width="0.9"/>
<line x1="86.90" y1="366.65" x2="91.10" y2="366.65" stroke="#111" stroke-width="1.0"/>
<line x1="102.70" y1="356.00" x2="102.70" y2="358.20" stroke="#111" stroke-width="0.9"/>
<line x1="100.80" y1="366.25" x2="104.60" y2="366.25" stroke="#111" stroke-width="1.0"/>
<line x1="102.70" y1="364.35" x2="102.70" y2="368.15" stroke="#111" stroke-width="1.0"/>
<text x="26.50" y="369.41" font-size="8.77" text-anchor="middle" textLength="33.00" lengthAdjust="spacingAndGlyphs">Thrombin</text>
<text transform="translate(23.16,323.75) rotate(-90)" font-size="8.77" text-anchor="middle" fill="#111" textLength="12.00" lengthAdjust="spacingAndGlyphs">MFI</text>
<line x1="133.25" y1="291.25" x2="133.25" y2="356.75" stroke="#111" stroke-width="1.1"/>
<line x1="132.75" y1="356.25" x2="199.25" y2="356.25" stroke="#111" stroke-width="1.1"/>
<line x1="130.75" y1="356.25" x2="133.25" y2="356.25" stroke="#111" stroke-width="0.9"/>
<text x="127.35" y="359.28" font-size="8.42" text-anchor="end" textLength="4.30" lengthAdjust="spacingAndGlyphs">0</text>
<line x1="130.75" y1="344.35" x2="133.25" y2="344.35" stroke="#111" stroke-width="0.9"/>
<text x="127.35" y="347.38" font-size="8.42" text-anchor="end" textLength="8.60" lengthAdjust="spacingAndGlyphs">10</text>
<line x1="130.75" y1="332.45" x2="133.25" y2="332.45" stroke="#111" stroke-width="0.9"/>
<text x="127.35" y="335.48" font-size="8.42" text-anchor="end" textLength="8.60" lengthAdjust="spacingAndGlyphs">20</text>
<line x1="130.75" y1="320.55" x2="133.25" y2="320.55" stroke="#111" stroke-width="0.9"/>
<text x="127.35" y="323.58" font-size="8.42" text-anchor="end" textLength="8.60" lengthAdjust="spacingAndGlyphs">30</text>
<line x1="130.75" y1="308.65" x2="133.25" y2="308.65" stroke="#111" stroke-width="0.9"/>
<text x="127.35" y="311.68" font-size="8.42" text-anchor="end" textLength="8.60" lengthAdjust="spacingAndGlyphs">40</text>
<line x1="130.75" y1="296.75" x2="133.25" y2="296.75" stroke="#111" stroke-width="0.9"/>
<text x="127.35" y="299.78" font-size="8.42" text-anchor="end" textLength="8.60" lengthAdjust="spacingAndGlyphs">50</text>
<rect x="138.30" y="352.50" width="9.00" height="3.75" fill="#e68a99"/>
<line x1="142.80" y1="352.00" x2="142.80" y2="354.00" stroke="#111" stroke-width="0.9"/>
<line x1="140.60" y1="352.00" x2="145.00" y2="352.00" stroke="#111" stroke-width="0.9"/>
<line x1="140.60" y1="354.00" x2="145.00" y2="354.00" stroke="#111" stroke-width="0.9"/>
<rect x="138.00" y="351.10" width="3.0" height="3.0" fill="#d0021b"/>
<rect x="140.50" y="350.70" width="3.0" height="3.0" fill="#d0021b"/>
<rect x="143.50" y="350.90" width="3.0" height="3.0" fill="#d0021b"/>
<rect x="145.50" y="351.50" width="3.0" height="3.0" fill="#d0021b"/>
<rect x="138.00" y="352.90" width="3.0" height="3.0" fill="#d0021b"/>
<rect x="141.00" y="353.00" width="3.0" height="3.0" fill="#d0021b"/>
<rect x="144.00" y="353.00" width="3.0" height="3.0" fill="#d0021b"/>
<rect x="139.50" y="352.00" width="3.0" height="3.0" fill="#d0021b"/>
<rect x="142.50" y="351.90" width="3.0" height="3.0" fill="#d0021b"/>
<rect x="151.40" y="326.80" width="9.00" height="29.45" fill="#e68a99"/>
<line x1="155.90" y1="326.50" x2="155.90" y2="340.50" stroke="#111" stroke-width="0.9"/>
<line x1="153.70" y1="326.50" x2="158.10" y2="326.50" stroke="#111" stroke-width="0.9"/>
<line x1="153.70" y1="340.50" x2="158.10" y2="340.50" stroke="#111" stroke-width="0.9"/>
<rect x="154.10" y="319.40" width="3.0" height="3.0" fill="#d0021b"/>
<rect x="151.20" y="326.60" width="3.0" height="3.0" fill="#d0021b"/>
<rect x="157.80" y="327.00" width="3.0" height="3.0" fill="#d0021b"/>
<rect x="151.50" y="330.50" width="3.0" height="3.0" fill="#d0021b"/>
<rect x="154.70" y="329.90" width="3.0" height="3.0" fill="#d0021b"/>
<rect x="157.30" y="335.80" width="3.0" height="3.0" fill="#d0021b"/>
<rect x="154.10" y="336.40" width="3.0" height="3.0" fill="#d0021b"/>
<rect x="152.10" y="341.00" width="3.0" height="3.0" fill="#d0021b"/>
<rect x="156.00" y="340.30" width="3.0" height="3.0" fill="#d0021b"/>
<rect x="152.80" y="342.30" width="3.0" height="3.0" fill="#d0021b"/>
<rect x="173.20" y="353.00" width="9.00" height="3.25" fill="#86a7c9"/>
<line x1="177.70" y1="352.00" x2="177.70" y2="354.00" stroke="#111" stroke-width="0.9"/>
<line x1="175.50" y1="352.00" x2="179.90" y2="352.00" stroke="#111" stroke-width="0.9"/>
<line x1="175.50" y1="354.00" x2="179.90" y2="354.00" stroke="#111" stroke-width="0.9"/>
<polygon points="177.50,349.30 179.70,351.50 177.50,353.70 175.30,351.50" fill="#0d4d8c"/>
<polygon points="175.50,350.80 177.70,353.00 175.50,355.20 173.30,353.00" fill="#0d4d8c"/>
<polygon points="179.50,350.80 181.70,353.00 179.50,355.20 177.30,353.00" fill="#0d4d8c"/>
<polygon points="174.20,352.30 176.40,354.50 174.20,356.70 172.00,354.50" fill="#0d4d8c"/>
<polygon points="177.00,352.30 179.20,354.50 177.00,356.70 174.80,354.50" fill="#0d4d8c"/>
<polygon points="180.30,352.30 182.50,354.50 180.30,356.70 178.10,354.50" fill="#0d4d8c"/>
<polygon points="181.20,351.30 183.40,353.50 181.20,355.70 179.00,353.50" fill="#0d4d8c"/>
<rect x="186.10" y="321.60" width="9.00" height="34.65" fill="#86a7c9"/>
<line x1="190.60" y1="317.00" x2="190.60" y2="330.00" stroke="#111" stroke-width="0.9"/>
<line x1="188.40" y1="317.00" x2="192.80" y2="317.00" stroke="#111" stroke-width="0.9"/>
<line x1="188.40" y1="330.00" x2="192.80" y2="330.00" stroke="#111" stroke-width="0.9"/>
<polygon points="190.50,305.00 192.70,307.20 190.50,309.40 188.30,307.20" fill="#0d4d8c"/>
<polygon points="190.50,310.20 192.70,312.40 190.50,314.60 188.30,312.40" fill="#0d4d8c"/>
<polygon points="188.00,313.80 190.20,316.00 188.00,318.20 185.80,316.00" fill="#0d4d8c"/>
<polygon points="193.10,313.20 195.30,315.40 193.10,317.60 190.90,315.40" fill="#0d4d8c"/>
<polygon points="190.50,315.50 192.70,317.70 190.50,319.90 188.30,317.70" fill="#0d4d8c"/>
<polygon points="188.30,323.30 190.50,325.50 188.30,327.70 186.10,325.50" fill="#0d4d8c"/>
<polygon points="193.10,323.30 195.30,325.50 193.10,327.70 190.90,325.50" fill="#0d4d8c"/>
<polygon points="190.50,320.00 192.70,322.20 190.50,324.40 188.30,322.20" fill="#0d4d8c"/>
<polygon points="190.50,325.90 192.70,328.10 190.50,330.30 188.30,328.10" fill="#0d4d8c"/>
<polygon points="190.50,328.50 192.70,330.70 190.50,332.90 188.30,330.70" fill="#0d4d8c"/>
<polygon points="190.50,332.10 192.70,334.30 190.50,336.50 188.30,334.30" fill="#0d4d8c"/>
<line x1="138.75" y1="315.50" x2="160.00" y2="315.50" stroke="#111" stroke-width="0.9"/>
<text x="149.38" y="315.50" font-size="9.36" text-anchor="middle" font-weight="bold" textLength="9.90" lengthAdjust="spacingAndGlyphs">***</text>
<line x1="153.00" y1="300.00" x2="195.50" y2="300.00" stroke="#111" stroke-width="0.9"/>
<text x="174.25" y="300.10" font-size="9.36" text-anchor="middle" font-weight="bold" textLength="6.60" lengthAdjust="spacingAndGlyphs">**</text>
<line x1="142.90" y1="356.25" x2="142.90" y2="358.45" stroke="#111" stroke-width="0.9"/>
<line x1="140.80" y1="366.15" x2="145.00" y2="366.15" stroke="#111" stroke-width="1.0"/>
<line x1="155.90" y1="356.25" x2="155.90" y2="358.45" stroke="#111" stroke-width="0.9"/>
<line x1="154.00" y1="365.75" x2="157.80" y2="365.75" stroke="#111" stroke-width="1.0"/>
<line x1="155.90" y1="363.85" x2="155.90" y2="367.65" stroke="#111" stroke-width="1.0"/>
<line x1="178.10" y1="356.25" x2="178.10" y2="358.45" stroke="#111" stroke-width="0.9"/>
<line x1="176.00" y1="366.15" x2="180.20" y2="366.15" stroke="#111" stroke-width="1.0"/>
<line x1="190.90" y1="356.25" x2="190.90" y2="358.45" stroke="#111" stroke-width="0.9"/>
<line x1="189.00" y1="365.75" x2="192.80" y2="365.75" stroke="#111" stroke-width="1.0"/>
<line x1="190.90" y1="363.85" x2="190.90" y2="367.65" stroke="#111" stroke-width="1.0"/>
<text x="268.00" y="264.84" font-size="13.45" font-weight="bold" textLength="7.50" lengthAdjust="spacingAndGlyphs">D</text>
<text x="355.00" y="263.80" font-size="11.11" fill="#111" textLength="73.75" lengthAdjust="spacingAndGlyphs"><tspan font-style="italic">Vil1</tspan><tspan font-size="7.55" dy="-4.0" font-style="italic">cre</tspan><tspan dy="4.0" font-style="italic">Il33</tspan><tspan font-size="7.55" dy="-4.0">fl/fl</tspan><tspan dy="4.0"> mice</tspan></text>
<rect x="291.50" y="270.25" width="3.0" height="3.0" fill="#d0021b"/>
<text x="300.00" y="275.12" font-size="8.54" textLength="12.50" lengthAdjust="spacingAndGlyphs">PBS</text>
<polygon points="293.00,279.05 295.20,281.25 293.00,283.45 290.80,281.25" fill="#0d4d8c"/>
<text x="300.00" y="284.32" font-size="8.54" textLength="16.25" lengthAdjust="spacingAndGlyphs">IL-33</text>
<text x="324.50" y="284.50" font-size="11.11" textLength="30.50" lengthAdjust="spacingAndGlyphs">CD62P</text>
<text x="432.00" y="284.75" font-size="11.11" textLength="26.00" lengthAdjust="spacingAndGlyphs">Jon/A</text>
<line x1="305.75" y1="291.25" x2="305.75" y2="356.25" stroke="#111" stroke-width="1.1"/>
<line x1="305.25" y1="355.75" x2="372.50" y2="355.75" stroke="#111" stroke-width="1.1"/>
<line x1="303.25" y1="355.75" x2="305.75" y2="355.75" stroke="#111" stroke-width="0.9"/>
<text x="299.85" y="358.78" font-size="8.42" text-anchor="end" textLength="4.30" lengthAdjust="spacingAndGlyphs">0</text>
<line x1="303.25" y1="340.25" x2="305.75" y2="340.25" stroke="#111" stroke-width="0.9"/>
<text x="299.85" y="343.28" font-size="8.42" text-anchor="end" textLength="4.30" lengthAdjust="spacingAndGlyphs">5</text>
<line x1="303.25" y1="324.75" x2="305.75" y2="324.75" stroke="#111" stroke-width="0.9"/>
<text x="299.85" y="327.78" font-size="8.42" text-anchor="end" textLength="8.60" lengthAdjust="spacingAndGlyphs">10</text>
<line x1="303.25" y1="309.25" x2="305.75" y2="309.25" stroke="#111" stroke-width="0.9"/>
<text x="299.85" y="312.28" font-size="8.42" text-anchor="end" textLength="8.60" lengthAdjust="spacingAndGlyphs">15</text>
<line x1="303.25" y1="293.75" x2="305.75" y2="293.75" stroke="#111" stroke-width="0.9"/>
<text x="299.85" y="296.78" font-size="8.42" text-anchor="end" textLength="8.60" lengthAdjust="spacingAndGlyphs">20</text>
<rect x="309.90" y="350.50" width="9.20" height="5.25" fill="#e68a99"/>
<line x1="314.50" y1="346.50" x2="314.50" y2="351.00" stroke="#111" stroke-width="0.9"/>
<line x1="312.30" y1="346.50" x2="316.70" y2="346.50" stroke="#111" stroke-width="0.9"/>
<line x1="312.30" y1="351.00" x2="316.70" y2="351.00" stroke="#111" stroke-width="0.9"/>
<rect x="313.00" y="341.70" width="3.0" height="3.0" fill="#d0021b"/>
<rect x="313.00" y="344.30" width="3.0" height="3.0" fill="#d0021b"/>
<rect x="310.40" y="347.50" width="3.0" height="3.0" fill="#d0021b"/>
<rect x="315.00" y="347.50" width="3.0" height="3.0" fill="#d0021b"/>
<rect x="312.30" y="348.80" width="3.0" height="3.0" fill="#d0021b"/>
<rect x="316.70" y="348.20" width="3.0" height="3.0" fill="#d0021b"/>
<rect x="309.70" y="349.50" width="3.0" height="3.0" fill="#d0021b"/>
<rect x="312.50" y="351.00" width="3.0" height="3.0" fill="#d0021b"/>
<rect x="315.50" y="350.80" width="3.0" height="3.0" fill="#d0021b"/>
<rect x="310.50" y="352.00" width="3.0" height="3.0" fill="#d0021b"/>
<rect x="323.85" y="330.00" width="9.00" height="25.75" fill="#e68a99"/>
<line x1="328.35" y1="322.90" x2="328.35" y2="337.50" stroke="#111" stroke-width="0.9"/>
<line x1="326.15" y1="322.90" x2="330.55" y2="322.90" stroke="#111" stroke-width="0.9"/>
<line x1="326.15" y1="337.50" x2="330.55" y2="337.50" stroke="#111" stroke-width="0.9"/>
<rect x="327.00" y="312.60" width="3.0" height="3.0" fill="#d0021b"/>
<rect x="327.00" y="315.50" width="3.0" height="3.0" fill="#d0021b"/>
<rect x="327.00" y="318.40" width="3.0" height="3.0" fill="#d0021b"/>
<rect x="327.00" y="324.70" width="3.0" height="3.0" fill="#d0021b"/>
<rect x="327.00" y="329.90" width="3.0" height="3.0" fill="#d0021b"/>
<rect x="329.70" y="332.20" width="3.0" height="3.0" fill="#d0021b"/>
<rect x="327.00" y="335.10" width="3.0" height="3.0" fill="#d0021b"/>
<rect x="329.30" y="337.10" width="3.0" height="3.0" fill="#d0021b"/>
<rect x="323.90" y="338.80" width="3.0" height="3.0" fill="#d0021b"/>
<rect x="326.70" y="338.40" width="3.0" height="3.0" fill="#d0021b"/>
<rect x="346.50" y="349.70" width="9.20" height="6.05" fill="#86a7c9"/>
<line x1="351.10" y1="346.50" x2="351.10" y2="350.00" stroke="#111" stroke-width="0.9"/>
<line x1="348.90" y1="346.50" x2="353.30" y2="346.50" stroke="#111" stroke-width="0.9"/>
<line x1="348.90" y1="350.00" x2="353.30" y2="350.00" stroke="#111" stroke-width="0.9"/>
<polygon points="347.80,343.60 350.00,345.80 347.80,348.00 345.60,345.80" fill="#0d4d8c"/>
<polygon points="354.40,343.60 356.60,345.80 354.40,348.00 352.20,345.80" fill="#0d4d8c"/>
<polygon points="351.10,346.00 353.30,348.20 351.10,350.40 348.90,348.20" fill="#0d4d8c"/>
<polygon points="347.80,348.30 350.00,350.50 347.80,352.70 345.60,350.50" fill="#0d4d8c"/>
<polygon points="354.40,348.30 356.60,350.50 354.40,352.70 352.20,350.50" fill="#0d4d8c"/>
<polygon points="351.10,350.30 353.30,352.50 351.10,354.70 348.90,352.50" fill="#0d4d8c"/>
<polygon points="348.50,351.30 350.70,353.50 348.50,355.70 346.30,353.50" fill="#0d4d8c"/>
<polygon points="353.70,351.30 355.90,353.50 353.70,355.70 351.50,353.50" fill="#0d4d8c"/>
<rect x="360.00" y="320.90" width="9.00" height="34.85" fill="#86a7c9"/>
<line x1="364.50" y1="312.80" x2="364.50" y2="327.50" stroke="#111" stroke-width="0.9"/>
<line x1="362.30" y1="312.80" x2="366.70" y2="312.80" stroke="#111" stroke-width="0.9"/>
<line x1="362.30" y1="327.50" x2="366.70" y2="327.50" stroke="#111" stroke-width="0.9"/>
<polygon points="360.70,306.70 362.90,308.90 360.70,311.10 358.50,308.90" fill="#0d4d8c"/>
<polygon points="364.60,308.00 366.80,310.20 364.60,312.40 362.40,310.20" fill="#0d4d8c"/>
<polygon points="368.10,313.20 370.30,315.40 368.10,317.60 365.90,315.40" fill="#0d4d8c"/>
<polygon points="360.30,315.10 362.50,317.30 360.30,319.50 358.10,317.30" fill="#0d4d8c"/>
<polygon points="368.30,315.50 370.50,317.70 368.30,319.90 366.10,317.70" fill="#0d4d8c"/>
<polygon points="360.90,320.70 363.10,322.90 360.90,325.10 358.70,322.90" fill="#0d4d8c"/>
<polygon points="364.60,320.00 366.80,322.20 364.60,324.40 362.40,322.20" fill="#0d4d8c"/>
<polygon points="368.10,321.10 370.30,323.30 368.10,325.50 365.90,323.30" fill="#0d4d8c"/>
<polygon points="363.50,325.30 365.70,327.50 363.50,329.70 361.30,327.50" fill="#0d4d8c"/>
<polygon points="364.60,329.20 366.80,331.40 364.60,333.60 362.40,331.40" fill="#0d4d8c"/>
<line x1="312.50" y1="311.25" x2="332.50" y2="311.25" stroke="#111" stroke-width="0.9"/>
<text x="322.50" y="311.30" font-size="9.36" text-anchor="middle" font-weight="bold" textLength="9.90" lengthAdjust="spacingAndGlyphs">***</text>
<line x1="325.50" y1="297.00" x2="368.75" y2="297.00" stroke="#111" stroke-width="0.9"/>
<text x="347.12" y="297.10" font-size="9.36" text-anchor="middle" font-weight="bold" textLength="6.60" lengthAdjust="spacingAndGlyphs">**</text>
<line x1="314.75" y1="355.75" x2="314.75" y2="357.95" stroke="#111" stroke-width="0.9"/>
<line x1="312.65" y1="366.65" x2="316.85" y2="366.65" stroke="#111" stroke-width="1.0"/>
<line x1="328.50" y1="355.75" x2="328.50" y2="357.95" stroke="#111" stroke-width="0.9"/>
<line x1="326.60" y1="366.25" x2="330.40" y2="366.25" stroke="#111" stroke-width="1.0"/>
<line x1="328.50" y1="364.35" x2="328.50" y2="368.15" stroke="#111" stroke-width="1.0"/>
<line x1="350.90" y1="355.75" x2="350.90" y2="357.95" stroke="#111" stroke-width="0.9"/>
<line x1="348.80" y1="366.65" x2="353.00" y2="366.65" stroke="#111" stroke-width="1.0"/>
<line x1="364.60" y1="355.75" x2="364.60" y2="357.95" stroke="#111" stroke-width="0.9"/>
<line x1="362.70" y1="366.25" x2="366.50" y2="366.25" stroke="#111" stroke-width="1.0"/>
<line x1="364.60" y1="364.35" x2="364.60" y2="368.15" stroke="#111" stroke-width="1.0"/>
<text x="288.50" y="369.41" font-size="8.77" text-anchor="middle" textLength="34.50" lengthAdjust="spacingAndGlyphs">Thrombin</text>
<text transform="translate(286.16,321.25) rotate(-90)" font-size="8.77" text-anchor="middle" fill="#111" textLength="12.00" lengthAdjust="spacingAndGlyphs">MFI</text>
<line x1="412.50" y1="291.25" x2="412.50" y2="356.25" stroke="#111" stroke-width="1.1"/>
<line x1="412.00" y1="355.75" x2="477.50" y2="355.75" stroke="#111" stroke-width="1.1"/>
<line x1="410.00" y1="355.75" x2="412.50" y2="355.75" stroke="#111" stroke-width="0.9"/>
<text x="406.60" y="358.78" font-size="8.42" text-anchor="end" textLength="4.30" lengthAdjust="spacingAndGlyphs">0</text>
<line x1="410.00" y1="336.17" x2="412.50" y2="336.17" stroke="#111" stroke-width="0.9"/>
<text x="406.60" y="339.20" font-size="8.42" text-anchor="end" textLength="8.60" lengthAdjust="spacingAndGlyphs">10</text>
<line x1="410.00" y1="316.58" x2="412.50" y2="316.58" stroke="#111" stroke-width="0.9"/>
<text x="406.60" y="319.61" font-size="8.42" text-anchor="end" textLength="8.60" lengthAdjust="spacingAndGlyphs">20</text>
<line x1="410.00" y1="297.00" x2="412.50" y2="297.00" stroke="#111" stroke-width="0.9"/>
<text x="406.60" y="300.03" font-size="8.42" text-anchor="end" textLength="8.60" lengthAdjust="spacingAndGlyphs">30</text>
<rect x="416.25" y="351.00" width="9.50" height="4.75" fill="#e68a99"/>
<line x1="421.00" y1="350.00" x2="421.00" y2="353.00" stroke="#111" stroke-width="0.9"/>
<line x1="418.80" y1="350.00" x2="423.20" y2="350.00" stroke="#111" stroke-width="0.9"/>
<line x1="418.80" y1="353.00" x2="423.20" y2="353.00" stroke="#111" stroke-width="0.9"/>
<rect x="419.50" y="348.00" width="3.0" height="3.0" fill="#d0021b"/>
<rect x="417.00" y="349.50" width="3.0" height="3.0" fill="#d0021b"/>
<rect x="422.00" y="349.50" width="3.0" height="3.0" fill="#d0021b"/>
<rect x="416.10" y="351.50" width="3.0" height="3.0" fill="#d0021b"/>
<rect x="419.00" y="351.50" width="3.0" height="3.0" fill="#d0021b"/>
<rect x="422.50" y="351.50" width="3.0" height="3.0" fill="#d0021b"/>
<rect x="417.50" y="352.80" width="3.0" height="3.0" fill="#d0021b"/>
<rect x="421.00" y="352.80" width="3.0" height="3.0" fill="#d0021b"/>
<rect x="423.00" y="352.70" width="3.0" height="3.0" fill="#d0021b"/>
<rect x="429.85" y="333.30" width="9.00" height="22.45" fill="#e68a99"/>
<line x1="434.35" y1="326.80" x2="434.35" y2="340.50" stroke="#111" stroke-width="0.9"/>
<line x1="432.15" y1="326.80" x2="436.55" y2="326.80" stroke="#111" stroke-width="0.9"/>
<line x1="432.15" y1="340.50" x2="436.55" y2="340.50" stroke="#111" stroke-width="0.9"/>
<rect x="433.00" y="319.40" width="3.0" height="3.0" fill="#d0021b"/>
<rect x="433.00" y="322.70" width="3.0" height="3.0" fill="#d0021b"/>
<rect x="433.00" y="325.30" width="3.0" height="3.0" fill="#d0021b"/>
<rect x="430.10" y="331.80" width="3.0" height="3.0" fill="#d0021b"/>
<rect x="435.30" y="332.50" width="3.0" height="3.0" fill="#d0021b"/>
<rect x="429.90" y="335.10" width="3.0" height="3.0" fill="#d0021b"/>
<rect x="432.70" y="335.80" width="3.0" height="3.0" fill="#d0021b"/>
<rect x="435.80" y="336.40" width="3.0" height="3.0" fill="#d0021b"/>
<rect x="431.40" y="337.70" width="3.0" height="3.0" fill="#d0021b"/>
<rect x="434.70" y="338.40" width="3.0" height="3.0" fill="#d0021b"/>
<rect x="451.20" y="351.00" width="9.40" height="4.75" fill="#86a7c9"/>
<line x1="455.90" y1="350.00" x2="455.90" y2="353.00" stroke="#111" stroke-width="0.9"/>
<line x1="453.70" y1="350.00" x2="458.10" y2="350.00" stroke="#111" stroke-width="0.9"/>
<line x1="453.70" y1="353.00" x2="458.10" y2="353.00" stroke="#111" stroke-width="0.9"/>
<polygon points="455.50,346.40 457.70,348.60 455.50,350.80 453.30,348.60" fill="#0d4d8c"/>
<polygon points="453.00,348.30 455.20,350.50 453.00,352.70 450.80,350.50" fill="#0d4d8c"/>
<polygon points="458.00,348.30 460.20,350.50 458.00,352.70 455.80,350.50" fill="#0d4d8c"/>
<polygon points="452.00,350.60 454.20,352.80 452.00,355.00 449.80,352.80" fill="#0d4d8c"/>
<polygon points="455.00,350.30 457.20,352.50 455.00,354.70 452.80,352.50" fill="#0d4d8c"/>
<polygon points="459.20,350.60 461.40,352.80 459.20,355.00 457.00,352.80" fill="#0d4d8c"/>
<polygon points="453.50,352.10 455.70,354.30 453.50,356.50 451.30,354.30" fill="#0d4d8c"/>
<polygon points="457.00,352.10 459.20,354.30 457.00,356.50 454.80,354.30" fill="#0d4d8c"/>
<rect x="465.00" y="324.20" width="8.50" height="31.55" fill="#86a7c9"/>
<line x1="469.25" y1="315.00" x2="469.25" y2="332.00" stroke="#111" stroke-width="0.9"/>
<line x1="467.05" y1="315.00" x2="471.45" y2="315.00" stroke="#111" stroke-width="0.9"/>
<line x1="467.05" y1="332.00" x2="471.45" y2="332.00" stroke="#111" stroke-width="0.9"/>
<polygon points="468.90,305.00 471.10,307.20 468.90,309.40 466.70,307.20" fill="#0d4d8c"/>
<polygon points="468.90,312.80 471.10,315.00 468.90,317.20 466.70,315.00" fill="#0d4d8c"/>
<polygon points="466.70,317.20 468.90,319.40 466.70,321.60 464.50,319.40" fill="#0d4d8c"/>
<polygon points="471.50,318.70 473.70,320.90 471.50,323.10 469.30,320.90" fill="#0d4d8c"/>
<polygon points="468.20,321.30 470.40,323.50 468.20,325.70 466.00,323.50" fill="#0d4d8c"/>
<polygon points="471.10,322.60 473.30,324.80 471.10,327.00 468.90,324.80" fill="#0d4d8c"/>
<polygon points="466.70,325.30 468.90,327.50 466.70,329.70 464.50,327.50" fill="#0d4d8c"/>
<polygon points="470.80,325.30 473.00,327.50 470.80,329.70 468.60,327.50" fill="#0d4d8c"/>
<polygon points="469.30,329.80 471.50,332.00 469.30,334.20 467.10,332.00" fill="#0d4d8c"/>
<polygon points="468.90,333.10 471.10,335.30 468.90,337.50 466.70,335.30" fill="#0d4d8c"/>
<line x1="417.00" y1="315.50" x2="438.00" y2="315.50" stroke="#111" stroke-width="0.9"/>
<text x="427.50" y="315.50" font-size="9.36" text-anchor="middle" font-weight="bold" textLength="9.90" lengthAdjust="spacingAndGlyphs">***</text>
<line x1="429.50" y1="300.75" x2="472.50" y2="300.75" stroke="#111" stroke-width="0.9"/>
<text x="451.00" y="302.30" font-size="9.36" text-anchor="middle" font-weight="bold" textLength="3.30" lengthAdjust="spacingAndGlyphs">*</text>
<line x1="421.25" y1="355.75" x2="421.25" y2="357.95" stroke="#111" stroke-width="0.9"/>
<line x1="419.15" y1="366.65" x2="423.35" y2="366.65" stroke="#111" stroke-width="1.0"/>
<line x1="435.00" y1="355.75" x2="435.00" y2="357.95" stroke="#111" stroke-width="0.9"/>
<line x1="433.10" y1="366.25" x2="436.90" y2="366.25" stroke="#111" stroke-width="1.0"/>
<line x1="435.00" y1="364.35" x2="435.00" y2="368.15" stroke="#111" stroke-width="1.0"/>
<line x1="458.00" y1="355.75" x2="458.00" y2="357.95" stroke="#111" stroke-width="0.9"/>
<line x1="455.90" y1="366.65" x2="460.10" y2="366.65" stroke="#111" stroke-width="1.0"/>
<line x1="471.25" y1="355.75" x2="471.25" y2="357.95" stroke="#111" stroke-width="0.9"/>
<line x1="469.35" y1="366.25" x2="473.15" y2="366.25" stroke="#111" stroke-width="1.0"/>
<line x1="471.25" y1="364.35" x2="471.25" y2="368.15" stroke="#111" stroke-width="1.0"/>
<text x="268.00" y="398.14" font-size="13.45" font-weight="bold" textLength="6.50" lengthAdjust="spacingAndGlyphs">F</text>
<text x="343.75" y="397.00" font-size="11.11" fill="#111" textLength="95.75" lengthAdjust="spacingAndGlyphs"><tspan font-style="italic">Chga</tspan><tspan font-size="7.55" dy="-4.0">creER</tspan><tspan dy="4.0" font-style="italic">Il1rl1</tspan><tspan font-size="7.55" dy="-4.0">fl/fl</tspan><tspan dy="4.0"> mice</tspan></text>
<rect x="289.75" y="403.50" width="3.0" height="3.0" fill="#d0021b"/>
<text x="297.50" y="408.37" font-size="8.54" textLength="12.50" lengthAdjust="spacingAndGlyphs">PBS</text>
<polygon points="291.25,412.30 293.45,414.50 291.25,416.70 289.05,414.50" fill="#0d4d8c"/>
<text x="297.50" y="417.57" font-size="8.54" textLength="16.25" lengthAdjust="spacingAndGlyphs">IL-33</text>
<text x="324.50" y="417.75" font-size="11.11" textLength="30.50" lengthAdjust="spacingAndGlyphs">CD62P</text>
<text x="432.00" y="418.25" font-size="11.11" textLength="26.00" lengthAdjust="spacingAndGlyphs">Jon/A</text>
<line x1="305.75" y1="427.50" x2="305.75" y2="493.00" stroke="#111" stroke-width="1.1"/>
<line x1="305.25" y1="492.50" x2="372.50" y2="492.50" stroke="#111" stroke-width="1.1"/>
<line x1="303.25" y1="492.50" x2="305.75" y2="492.50" stroke="#111" stroke-width="0.9"/>
<text x="299.85" y="495.53" font-size="8.42" text-anchor="end" textLength="4.30" lengthAdjust="spacingAndGlyphs">0</text>
<line x1="303.25" y1="480.25" x2="305.75" y2="480.25" stroke="#111" stroke-width="0.9"/>
<text x="299.85" y="483.28" font-size="8.42" text-anchor="end" textLength="4.30" lengthAdjust="spacingAndGlyphs">2</text>
<line x1="303.25" y1="468.00" x2="305.75" y2="468.00" stroke="#111" stroke-width="0.9"/>
<text x="299.85" y="471.03" font-size="8.42" text-anchor="end" textLength="4.30" lengthAdjust="spacingAndGlyphs">4</text>
<line x1="303.25" y1="455.75" x2="305.75" y2="455.75" stroke="#111" stroke-width="0.9"/>
<text x="299.85" y="458.78" font-size="8.42" text-anchor="end" textLength="4.30" lengthAdjust="spacingAndGlyphs">6</text>
<line x1="303.25" y1="443.50" x2="305.75" y2="443.50" stroke="#111" stroke-width="0.9"/>
<text x="299.85" y="446.53" font-size="8.42" text-anchor="end" textLength="4.30" lengthAdjust="spacingAndGlyphs">8</text>
<line x1="303.25" y1="431.25" x2="305.75" y2="431.25" stroke="#111" stroke-width="0.9"/>
<text x="299.85" y="434.28" font-size="8.42" text-anchor="end" textLength="8.60" lengthAdjust="spacingAndGlyphs">10</text>
<rect x="309.90" y="477.60" width="9.20" height="14.90" fill="#e68a99"/>
<line x1="314.50" y1="471.30" x2="314.50" y2="484.40" stroke="#111" stroke-width="0.9"/>
<line x1="312.30" y1="471.30" x2="316.70" y2="471.30" stroke="#111" stroke-width="0.9"/>
<line x1="312.30" y1="484.40" x2="316.70" y2="484.40" stroke="#111" stroke-width="0.9"/>
<rect x="313.00" y="465.20" width="3.0" height="3.0" fill="#d0021b"/>
<rect x="310.00" y="469.80" width="3.0" height="3.0" fill="#d0021b"/>
<rect x="315.00" y="471.80" width="3.0" height="3.0" fill="#d0021b"/>
<rect x="310.40" y="473.70" width="3.0" height="3.0" fill="#d0021b"/>
<rect x="313.00" y="476.00" width="3.0" height="3.0" fill="#d0021b"/>
<rect x="310.40" y="479.00" width="3.0" height="3.0" fill="#d0021b"/>
<rect x="315.60" y="478.30" width="3.0" height="3.0" fill="#d0021b"/>
<rect x="312.30" y="480.90" width="3.0" height="3.0" fill="#d0021b"/>
<rect x="314.30" y="482.90" width="3.0" height="3.0" fill="#d0021b"/>
<rect x="311.70" y="483.50" width="3.0" height="3.0" fill="#d0021b"/>
<rect x="323.85" y="456.90" width="9.00" height="35.60" fill="#e68a99"/>
<line x1="328.35" y1="448.40" x2="328.35" y2="462.80" stroke="#111" stroke-width="0.9"/>
<line x1="326.15" y1="448.40" x2="330.55" y2="448.40" stroke="#111" stroke-width="0.9"/>
<line x1="326.15" y1="462.80" x2="330.55" y2="462.80" stroke="#111" stroke-width="0.9"/>
<rect x="327.00" y="442.60" width="3.0" height="3.0" fill="#d0021b"/>
<rect x="324.10" y="445.60" width="3.0" height="3.0" fill="#d0021b"/>
<rect x="327.80" y="447.30" width="3.0" height="3.0" fill="#d0021b"/>
<rect x="324.10" y="453.50" width="3.0" height="3.0" fill="#d0021b"/>
<rect x="329.80" y="452.20" width="3.0" height="3.0" fill="#d0021b"/>
<rect x="326.70" y="454.10" width="3.0" height="3.0" fill="#d0021b"/>
<rect x="324.10" y="457.40" width="3.0" height="3.0" fill="#d0021b"/>
<rect x="329.80" y="456.10" width="3.0" height="3.0" fill="#d0021b"/>
<rect x="326.70" y="459.30" width="3.0" height="3.0" fill="#d0021b"/>
<rect x="323.90" y="461.30" width="3.0" height="3.0" fill="#d0021b"/>
<rect x="329.30" y="460.00" width="3.0" height="3.0" fill="#d0021b"/>
<rect x="346.45" y="477.80" width="9.00" height="14.70" fill="#86a7c9"/>
<line x1="350.95" y1="470.30" x2="350.95" y2="481.10" stroke="#111" stroke-width="0.9"/>
<line x1="348.75" y1="470.30" x2="353.15" y2="470.30" stroke="#111" stroke-width="0.9"/>
<line x1="348.75" y1="481.10" x2="353.15" y2="481.10" stroke="#111" stroke-width="0.9"/>
<polygon points="350.70,460.30 352.90,462.50 350.70,464.70 348.50,462.50" fill="#0d4d8c"/>
<polygon points="350.50,468.10 352.70,470.30 350.50,472.50 348.30,470.30" fill="#0d4d8c"/>
<polygon points="347.60,475.60 349.80,477.80 347.60,480.00 345.40,477.80" fill="#0d4d8c"/>
<polygon points="353.30,475.00 355.50,477.20 353.30,479.40 351.10,477.20" fill="#0d4d8c"/>
<polygon points="350.50,477.30 352.70,479.50 350.50,481.70 348.30,479.50" fill="#0d4d8c"/>
<polygon points="347.60,479.60 349.80,481.80 347.60,484.00 345.40,481.80" fill="#0d4d8c"/>
<polygon points="353.70,478.90 355.90,481.10 353.70,483.30 351.50,481.10" fill="#0d4d8c"/>
<polygon points="350.50,480.20 352.70,482.40 350.50,484.60 348.30,482.40" fill="#0d4d8c"/>
<rect x="360.00" y="455.60" width="9.00" height="36.90" fill="#86a7c9"/>
<line x1="364.50" y1="446.70" x2="364.50" y2="462.80" stroke="#111" stroke-width="0.9"/>
<line x1="362.30" y1="446.70" x2="366.70" y2="446.70" stroke="#111" stroke-width="0.9"/>
<line x1="362.30" y1="462.80" x2="366.70" y2="462.80" stroke="#111" stroke-width="0.9"/>
<polygon points="364.60,440.10 366.80,442.30 364.60,444.50 362.40,442.30" fill="#0d4d8c"/>
<polygon points="361.60,443.20 363.80,445.40 361.60,447.60 359.40,445.40" fill="#0d4d8c"/>
<polygon points="366.40,443.60 368.60,445.80 366.40,448.00 364.20,445.80" fill="#0d4d8c"/>
<polygon points="364.60,450.10 366.80,452.30 364.60,454.50 362.40,452.30" fill="#0d4d8c"/>
<polygon points="360.90,452.10 363.10,454.30 360.90,456.50 358.70,454.30" fill="#0d4d8c"/>
<polygon points="367.50,452.10 369.70,454.30 367.50,456.50 365.30,454.30" fill="#0d4d8c"/>
<polygon points="364.60,456.00 366.80,458.20 364.60,460.40 362.40,458.20" fill="#0d4d8c"/>
<polygon points="361.60,458.00 363.80,460.20 361.60,462.40 359.40,460.20" fill="#0d4d8c"/>
<polygon points="366.40,458.60 368.60,460.80 366.40,463.00 364.20,460.80" fill="#0d4d8c"/>
<polygon points="364.60,465.20 366.80,467.40 364.60,469.60 362.40,467.40" fill="#0d4d8c"/>
<line x1="311.75" y1="440.00" x2="332.50" y2="440.00" stroke="#111" stroke-width="0.9"/>
<text x="322.12" y="440.10" font-size="9.36" text-anchor="middle" font-weight="bold" textLength="6.60" lengthAdjust="spacingAndGlyphs">**</text>
<line x1="325.50" y1="431.25" x2="368.00" y2="431.25" stroke="#111" stroke-width="0.9"/>
<text x="346.75" y="429.60" font-size="8.19" text-anchor="middle" textLength="9.80" lengthAdjust="spacingAndGlyphs">NS</text>
<line x1="315.00" y1="492.50" x2="315.00" y2="494.70" stroke="#111" stroke-width="0.9"/>
<line x1="312.90" y1="502.90" x2="317.10" y2="502.90" stroke="#111" stroke-width="1.0"/>
<line x1="328.40" y1="492.50" x2="328.40" y2="494.70" stroke="#111" stroke-width="0.9"/>
<line x1="326.50" y1="502.50" x2="330.30" y2="502.50" stroke="#111" stroke-width="1.0"/>
<line x1="328.40" y1="500.60" x2="328.40" y2="504.40" stroke="#111" stroke-width="1.0"/>
<line x1="351.25" y1="492.50" x2="351.25" y2="494.70" stroke="#111" stroke-width="0.9"/>
<line x1="349.15" y1="502.90" x2="353.35" y2="502.90" stroke="#111" stroke-width="1.0"/>
<line x1="364.60" y1="492.50" x2="364.60" y2="494.70" stroke="#111" stroke-width="0.9"/>
<line x1="362.70" y1="502.50" x2="366.50" y2="502.50" stroke="#111" stroke-width="1.0"/>
<line x1="364.60" y1="500.60" x2="364.60" y2="504.40" stroke="#111" stroke-width="1.0"/>
<text x="289.00" y="505.66" font-size="8.77" text-anchor="middle" textLength="34.00" lengthAdjust="spacingAndGlyphs">Thrombin</text>
<text transform="translate(286.16,461.25) rotate(-90)" font-size="8.77" text-anchor="middle" fill="#111" textLength="12.00" lengthAdjust="spacingAndGlyphs">MFI</text>
<line x1="412.50" y1="430.00" x2="412.50" y2="493.00" stroke="#111" stroke-width="1.1"/>
<line x1="412.00" y1="492.50" x2="477.50" y2="492.50" stroke="#111" stroke-width="1.1"/>
<line x1="410.00" y1="492.50" x2="412.50" y2="492.50" stroke="#111" stroke-width="0.9"/>
<text x="406.60" y="495.53" font-size="8.42" text-anchor="end" textLength="4.30" lengthAdjust="spacingAndGlyphs">0</text>
<line x1="410.00" y1="472.75" x2="412.50" y2="472.75" stroke="#111" stroke-width="0.9"/>
<text x="406.60" y="475.78" font-size="8.42" text-anchor="end" textLength="4.30" lengthAdjust="spacingAndGlyphs">5</text>
<line x1="410.00" y1="453.00" x2="412.50" y2="453.00" stroke="#111" stroke-width="0.9"/>
<text x="406.60" y="456.03" font-size="8.42" text-anchor="end" textLength="8.60" lengthAdjust="spacingAndGlyphs">10</text>
<line x1="410.00" y1="433.25" x2="412.50" y2="433.25" stroke="#111" stroke-width="0.9"/>
<text x="406.60" y="436.28" font-size="8.42" text-anchor="end" textLength="8.60" lengthAdjust="spacingAndGlyphs">15</text>
<rect x="416.60" y="485.00" width="9.10" height="7.50" fill="#e68a99"/>
<line x1="421.15" y1="482.00" x2="421.15" y2="487.00" stroke="#111" stroke-width="0.9"/>
<line x1="418.95" y1="482.00" x2="423.35" y2="482.00" stroke="#111" stroke-width="0.9"/>
<line x1="418.95" y1="487.00" x2="423.35" y2="487.00" stroke="#111" stroke-width="0.9"/>
<rect x="417.50" y="479.50" width="3.0" height="3.0" fill="#d0021b"/>
<rect x="421.00" y="479.50" width="3.0" height="3.0" fill="#d0021b"/>
<rect x="416.70" y="482.50" width="3.0" height="3.0" fill="#d0021b"/>
<rect x="420.00" y="483.00" width="3.0" height="3.0" fill="#d0021b"/>
<rect x="423.00" y="482.50" width="3.0" height="3.0" fill="#d0021b"/>
<rect x="418.00" y="485.50" width="3.0" height="3.0" fill="#d0021b"/>
<rect x="421.50" y="486.00" width="3.0" height="3.0" fill="#d0021b"/>
<rect x="416.50" y="487.80" width="3.0" height="3.0" fill="#d0021b"/>
<rect x="423.00" y="488.00" width="3.0" height="3.0" fill="#d0021b"/>
<rect x="429.85" y="459.50" width="9.00" height="33.00" fill="#e68a99"/>
<line x1="434.35" y1="451.70" x2="434.35" y2="462.20" stroke="#111" stroke-width="0.9"/>
<line x1="432.15" y1="451.70" x2="436.55" y2="451.70" stroke="#111" stroke-width="0.9"/>
<line x1="432.15" y1="462.20" x2="436.55" y2="462.20" stroke="#111" stroke-width="0.9"/>
<rect x="433.00" y="445.60" width="3.0" height="3.0" fill="#d0021b"/>
<rect x="432.10" y="449.50" width="3.0" height="3.0" fill="#d0021b"/>
<rect x="435.30" y="450.80" width="3.0" height="3.0" fill="#d0021b"/>
<rect x="429.50" y="454.80" width="3.0" height="3.0" fill="#d0021b"/>
<rect x="435.80" y="454.10" width="3.0" height="3.0" fill="#d0021b"/>
<rect x="431.40" y="458.00" width="3.0" height="3.0" fill="#d0021b"/>
<rect x="429.50" y="460.00" width="3.0" height="3.0" fill="#d0021b"/>
<rect x="429.50" y="462.60" width="3.0" height="3.0" fill="#d0021b"/>
<rect x="435.30" y="460.70" width="3.0" height="3.0" fill="#d0021b"/>
<rect x="432.70" y="462.00" width="3.0" height="3.0" fill="#d0021b"/>
<rect x="451.90" y="486.30" width="8.70" height="6.20" fill="#86a7c9"/>
<line x1="456.25" y1="481.50" x2="456.25" y2="486.00" stroke="#111" stroke-width="0.9"/>
<line x1="454.05" y1="481.50" x2="458.45" y2="481.50" stroke="#111" stroke-width="0.9"/>
<line x1="454.05" y1="486.00" x2="458.45" y2="486.00" stroke="#111" stroke-width="0.9"/>
<polygon points="455.20,477.00 457.40,479.20 455.20,481.40 453.00,479.20" fill="#0d4d8c"/>
<polygon points="453.00,479.30 455.20,481.50 453.00,483.70 450.80,481.50" fill="#0d4d8c"/>
<polygon points="457.50,479.60 459.70,481.80 457.50,484.00 455.30,481.80" fill="#0d4d8c"/>
<polygon points="452.50,482.30 454.70,484.50 452.50,486.70 450.30,484.50" fill="#0d4d8c"/>
<polygon points="456.00,482.30 458.20,484.50 456.00,486.70 453.80,484.50" fill="#0d4d8c"/>
<polygon points="459.20,482.60 461.40,484.80 459.20,487.00 457.00,484.80" fill="#0d4d8c"/>
<polygon points="454.00,485.00 456.20,487.20 454.00,489.40 451.80,487.20" fill="#0d4d8c"/>
<polygon points="458.00,485.10 460.20,487.30 458.00,489.50 455.80,487.30" fill="#0d4d8c"/>
<rect x="465.00" y="460.50" width="8.50" height="32.00" fill="#86a7c9"/>
<line x1="469.25" y1="451.70" x2="469.25" y2="469.30" stroke="#111" stroke-width="0.9"/>
<line x1="467.05" y1="451.70" x2="471.45" y2="451.70" stroke="#111" stroke-width="0.9"/>
<line x1="467.05" y1="469.30" x2="471.45" y2="469.30" stroke="#111" stroke-width="0.9"/>
<polygon points="468.90,441.40 471.10,443.60 468.90,445.80 466.70,443.60" fill="#0d4d8c"/>
<polygon points="468.90,448.20 471.10,450.40 468.90,452.60 466.70,450.40" fill="#0d4d8c"/>
<polygon points="466.70,457.30 468.90,459.50 466.70,461.70 464.50,459.50" fill="#0d4d8c"/>
<polygon points="471.50,457.30 473.70,459.50 471.50,461.70 469.30,459.50" fill="#0d4d8c"/>
<polygon points="466.70,461.30 468.90,463.50 466.70,465.70 464.50,463.50" fill="#0d4d8c"/>
<polygon points="471.90,461.50 474.10,463.70 471.90,465.90 469.70,463.70" fill="#0d4d8c"/>
<polygon points="466.70,465.80 468.90,468.00 466.70,470.20 464.50,468.00" fill="#0d4d8c"/>
<polygon points="471.90,465.80 474.10,468.00 471.90,470.20 469.70,468.00" fill="#0d4d8c"/>
<polygon points="468.90,471.10 471.10,473.30 468.90,475.50 466.70,473.30" fill="#0d4d8c"/>
<polygon points="468.90,463.90 471.10,466.10 468.90,468.30 466.70,466.10" fill="#0d4d8c"/>
<line x1="417.00" y1="440.00" x2="438.25" y2="440.00" stroke="#111" stroke-width="0.9"/>
<text x="427.62" y="440.10" font-size="9.36" text-anchor="middle" font-weight="bold" textLength="6.60" lengthAdjust="spacingAndGlyphs">**</text>
<line x1="429.50" y1="431.25" x2="473.75" y2="431.25" stroke="#111" stroke-width="0.9"/>
<text x="451.62" y="429.60" font-size="8.19" text-anchor="middle" textLength="9.80" lengthAdjust="spacingAndGlyphs">NS</text>
<line x1="421.75" y1="492.50" x2="421.75" y2="494.70" stroke="#111" stroke-width="0.9"/>
<line x1="419.65" y1="502.90" x2="423.85" y2="502.90" stroke="#111" stroke-width="1.0"/>
<line x1="435.00" y1="492.50" x2="435.00" y2="494.70" stroke="#111" stroke-width="0.9"/>
<line x1="433.10" y1="502.50" x2="436.90" y2="502.50" stroke="#111" stroke-width="1.0"/>
<line x1="435.00" y1="500.60" x2="435.00" y2="504.40" stroke="#111" stroke-width="1.0"/>
<line x1="458.25" y1="492.50" x2="458.25" y2="494.70" stroke="#111" stroke-width="0.9"/>
<line x1="456.15" y1="502.90" x2="460.35" y2="502.90" stroke="#111" stroke-width="1.0"/>
<line x1="471.75" y1="492.50" x2="471.75" y2="494.70" stroke="#111" stroke-width="0.9"/>
<line x1="469.85" y1="502.50" x2="473.65" y2="502.50" stroke="#111" stroke-width="1.0"/>
<line x1="471.75" y1="500.60" x2="471.75" y2="504.40" stroke="#111" stroke-width="1.0"/>
<text x="268.00" y="532.74" font-size="13.45" font-weight="bold" textLength="8.25" lengthAdjust="spacingAndGlyphs">G</text>
<rect x="298.50" y="527.25" width="3.0" height="3.0" fill="#d0021b"/>
<text x="305.00" y="531.60" font-size="8.89" fill="#111" textLength="20.00" lengthAdjust="spacingAndGlyphs"><tspan font-style="italic">Il33</tspan><tspan font-size="5.51" dy="-3.2" font-style="italic">fl/fl</tspan></text>
<polygon points="333.75,526.55 335.95,528.75 333.75,530.95 331.55,528.75" fill="#0d4d8c"/>
<text x="339.50" y="531.60" font-size="8.89" fill="#111" textLength="39.20" lengthAdjust="spacingAndGlyphs"><tspan font-style="italic">Vil1</tspan><tspan font-size="5.51" dy="-3.2" font-style="italic">cre</tspan><tspan dy="3.2" font-style="italic">Il33</tspan><tspan font-size="5.51" dy="-3.2" font-style="italic">fl/fl</tspan></text>
<line x1="300.75" y1="547.50" x2="300.75" y2="619.25" stroke="#111" stroke-width="1.1"/>
<line x1="300.25" y1="618.75" x2="375.50" y2="618.75" stroke="#111" stroke-width="1.1"/>
<line x1="298.25" y1="618.75" x2="300.75" y2="618.75" stroke="#111" stroke-width="0.9"/>
<text x="294.85" y="621.78" font-size="8.42" text-anchor="end" textLength="4.30" lengthAdjust="spacingAndGlyphs">0</text>
<line x1="298.25" y1="596.00" x2="300.75" y2="596.00" stroke="#111" stroke-width="0.9"/>
<text x="294.85" y="599.03" font-size="8.42" text-anchor="end" textLength="12.90" lengthAdjust="spacingAndGlyphs">300</text>
<line x1="298.25" y1="573.25" x2="300.75" y2="573.25" stroke="#111" stroke-width="0.9"/>
<text x="294.85" y="576.28" font-size="8.42" text-anchor="end" textLength="12.90" lengthAdjust="spacingAndGlyphs">600</text>
<line x1="298.25" y1="550.50" x2="300.75" y2="550.50" stroke="#111" stroke-width="0.9"/>
<text x="294.85" y="553.53" font-size="8.42" text-anchor="end" textLength="12.90" lengthAdjust="spacingAndGlyphs">900</text>
<rect x="304.20" y="588.00" width="12.30" height="30.50" fill="#e68a99"/>
<line x1="310.35" y1="585.75" x2="310.35" y2="590.25" stroke="#111" stroke-width="0.9"/>
<line x1="308.15" y1="585.75" x2="312.55" y2="585.75" stroke="#111" stroke-width="0.9"/>
<line x1="308.15" y1="590.25" x2="312.55" y2="590.25" stroke="#111" stroke-width="0.9"/>
<rect x="307.50" y="578.70" width="3.0" height="3.0" fill="#d0021b"/>
<rect x="309.75" y="579.75" width="3.0" height="3.0" fill="#d0021b"/>
<rect x="306.00" y="583.50" width="3.0" height="3.0" fill="#d0021b"/>
<rect x="309.00" y="582.00" width="3.0" height="3.0" fill="#d0021b"/>
<rect x="312.00" y="585.00" width="3.0" height="3.0" fill="#d0021b"/>
<rect x="303.90" y="587.25" width="3.0" height="3.0" fill="#d0021b"/>
<rect x="308.00" y="586.50" width="3.0" height="3.0" fill="#d0021b"/>
<rect x="313.50" y="588.75" width="3.0" height="3.0" fill="#d0021b"/>
<rect x="303.90" y="589.50" width="3.0" height="3.0" fill="#d0021b"/>
<rect x="309.75" y="588.75" width="3.0" height="3.0" fill="#d0021b"/>
<rect x="311.50" y="587.50" width="3.0" height="3.0" fill="#d0021b"/>
<rect x="322.77" y="591.75" width="12.45" height="26.75" fill="#e68a99"/>
<line x1="329.00" y1="590.70" x2="329.00" y2="594.75" stroke="#111" stroke-width="0.9"/>
<line x1="326.80" y1="590.70" x2="331.20" y2="590.70" stroke="#111" stroke-width="0.9"/>
<line x1="326.80" y1="594.75" x2="331.20" y2="594.75" stroke="#111" stroke-width="0.9"/>
<rect x="327.75" y="583.20" width="3.0" height="3.0" fill="#d0021b"/>
<rect x="332.70" y="586.80" width="3.0" height="3.0" fill="#d0021b"/>
<rect x="322.50" y="589.20" width="3.0" height="3.0" fill="#d0021b"/>
<rect x="330.00" y="590.70" width="3.0" height="3.0" fill="#d0021b"/>
<rect x="322.50" y="594.00" width="3.0" height="3.0" fill="#d0021b"/>
<rect x="332.70" y="593.70" width="3.0" height="3.0" fill="#d0021b"/>
<rect x="327.75" y="592.50" width="3.0" height="3.0" fill="#d0021b"/>
<rect x="325.20" y="600.00" width="3.0" height="3.0" fill="#d0021b"/>
<rect x="330.00" y="598.80" width="3.0" height="3.0" fill="#d0021b"/>
<rect x="341.23" y="577.20" width="12.75" height="41.30" fill="#86a7c9"/>
<line x1="347.60" y1="573.30" x2="347.60" y2="580.20" stroke="#111" stroke-width="0.9"/>
<line x1="345.40" y1="573.30" x2="349.80" y2="573.30" stroke="#111" stroke-width="0.9"/>
<line x1="345.40" y1="580.20" x2="349.80" y2="580.20" stroke="#111" stroke-width="0.9"/>
<polygon points="347.70,560.30 349.90,562.50 347.70,564.70 345.50,562.50" fill="#0d4d8c"/>
<polygon points="344.25,564.50 346.45,566.70 344.25,568.90 342.05,566.70" fill="#0d4d8c"/>
<polygon points="350.70,566.00 352.90,568.20 350.70,570.40 348.50,568.20" fill="#0d4d8c"/>
<polygon points="345.00,568.55 347.20,570.75 345.00,572.95 342.80,570.75" fill="#0d4d8c"/>
<polygon points="347.70,574.30 349.90,576.50 347.70,578.70 345.50,576.50" fill="#0d4d8c"/>
<polygon points="344.70,582.05 346.90,584.25 344.70,586.45 342.50,584.25" fill="#0d4d8c"/>
<polygon points="350.70,579.05 352.90,581.25 350.70,583.45 348.50,581.25" fill="#0d4d8c"/>
<polygon points="347.70,586.55 349.90,588.75 347.70,590.95 345.50,588.75" fill="#0d4d8c"/>
<polygon points="347.25,591.80 349.45,594.00 347.25,596.20 345.05,594.00" fill="#0d4d8c"/>
<polygon points="350.50,572.80 352.70,575.00 350.50,577.20 348.30,575.00" fill="#0d4d8c"/>
<rect x="360.77" y="591.75" width="12.25" height="26.75" fill="#86a7c9"/>
<line x1="366.90" y1="588.75" x2="366.90" y2="594.00" stroke="#111" stroke-width="0.9"/>
<line x1="364.70" y1="588.75" x2="369.10" y2="588.75" stroke="#111" stroke-width="0.9"/>
<line x1="364.70" y1="594.00" x2="369.10" y2="594.00" stroke="#111" stroke-width="0.9"/>
<polygon points="371.25,574.55 373.45,576.75 371.25,578.95 369.05,576.75" fill="#0d4d8c"/>
<polygon points="366.00,577.55 368.20,579.75 366.00,581.95 363.80,579.75" fill="#0d4d8c"/>
<polygon points="366.00,585.05 368.20,587.25 366.00,589.45 363.80,587.25" fill="#0d4d8c"/>
<polygon points="361.50,588.80 363.70,591.00 361.50,593.20 359.30,591.00" fill="#0d4d8c"/>
<polygon points="371.25,589.55 373.45,591.75 371.25,593.95 369.05,591.75" fill="#0d4d8c"/>
<polygon points="366.00,589.80 368.20,592.00 366.00,594.20 363.80,592.00" fill="#0d4d8c"/>
<polygon points="362.25,592.55 364.45,594.75 362.25,596.95 360.05,594.75" fill="#0d4d8c"/>
<polygon points="371.25,593.30 373.45,595.50 371.25,597.70 369.05,595.50" fill="#0d4d8c"/>
<polygon points="366.00,597.80 368.20,600.00 366.00,602.20 363.80,600.00" fill="#0d4d8c"/>
<polygon points="366.00,602.30 368.20,604.50 366.00,606.70 363.80,604.50" fill="#0d4d8c"/>
<line x1="305.75" y1="545.00" x2="349.50" y2="545.00" stroke="#111" stroke-width="0.9"/>
<text x="327.62" y="546.80" font-size="9.36" text-anchor="middle" font-weight="bold" textLength="3.30" lengthAdjust="spacingAndGlyphs">*</text>
<line x1="340.75" y1="557.50" x2="368.25" y2="557.50" stroke="#111" stroke-width="0.9"/>
<text x="354.50" y="557.60" font-size="9.36" text-anchor="middle" font-weight="bold" textLength="6.60" lengthAdjust="spacingAndGlyphs">**</text>
<line x1="305.00" y1="568.25" x2="332.50" y2="568.25" stroke="#111" stroke-width="0.9"/>
<text x="318.75" y="568.30" font-size="9.36" text-anchor="middle" font-weight="bold" textLength="6.60" lengthAdjust="spacingAndGlyphs">**</text>
<line x1="310.00" y1="618.75" x2="310.00" y2="620.95" stroke="#111" stroke-width="0.9"/>
<line x1="307.90" y1="629.65" x2="312.10" y2="629.65" stroke="#111" stroke-width="1.0"/>
<line x1="329.25" y1="618.75" x2="329.25" y2="620.95" stroke="#111" stroke-width="0.9"/>
<line x1="327.35" y1="629.25" x2="331.15" y2="629.25" stroke="#111" stroke-width="1.0"/>
<line x1="329.25" y1="627.35" x2="329.25" y2="631.15" stroke="#111" stroke-width="1.0"/>
<line x1="347.00" y1="618.75" x2="347.00" y2="620.95" stroke="#111" stroke-width="0.9"/>
<line x1="344.90" y1="629.65" x2="349.10" y2="629.65" stroke="#111" stroke-width="1.0"/>
<line x1="366.25" y1="618.75" x2="366.25" y2="620.95" stroke="#111" stroke-width="0.9"/>
<line x1="364.35" y1="629.25" x2="368.15" y2="629.25" stroke="#111" stroke-width="1.0"/>
<line x1="366.25" y1="627.35" x2="366.25" y2="631.15" stroke="#111" stroke-width="1.0"/>
<text x="291.60" y="632.79" font-size="9.13" text-anchor="middle" textLength="16.80" lengthAdjust="spacingAndGlyphs">IL-33</text>
<text transform="translate(276.10,581.80) rotate(-90)" font-size="9.71" text-anchor="middle" fill="#111" textLength="40.00" lengthAdjust="spacingAndGlyphs">Bleeding (S)</text>
<text x="393.00" y="532.74" font-size="13.45" font-weight="bold" textLength="8.25" lengthAdjust="spacingAndGlyphs">H</text>
<rect x="413.50" y="527.25" width="3.0" height="3.0" fill="#d0021b"/>
<text x="419.50" y="531.60" font-size="8.89" fill="#111" textLength="23.00" lengthAdjust="spacingAndGlyphs"><tspan font-style="italic">Il1rl1</tspan><tspan font-size="5.51" dy="-3.2" font-style="italic">fl/fl</tspan></text>
<polygon points="452.00,526.55 454.20,528.75 452.00,530.95 449.80,528.75" fill="#0d4d8c"/>
<text x="457.50" y="531.60" font-size="8.89" fill="#111" textLength="53.75" lengthAdjust="spacingAndGlyphs"><tspan font-style="italic">Chga</tspan><tspan font-size="5.51" dy="-3.2">creER</tspan><tspan dy="3.2" font-style="italic">Il1rl1</tspan><tspan font-size="5.51" dy="-3.2" font-style="italic">fl/fl</tspan></text>
<line x1="427.00" y1="547.50" x2="427.00" y2="619.25" stroke="#111" stroke-width="1.1"/>
<line x1="426.50" y1="618.75" x2="501.25" y2="618.75" stroke="#111" stroke-width="1.1"/>
<line x1="424.50" y1="618.75" x2="427.00" y2="618.75" stroke="#111" stroke-width="0.9"/>
<text x="421.10" y="621.78" font-size="8.42" text-anchor="end" textLength="12.90" lengthAdjust="spacingAndGlyphs">100</text>
<line x1="424.50" y1="596.00" x2="427.00" y2="596.00" stroke="#111" stroke-width="0.9"/>
<text x="421.10" y="599.03" font-size="8.42" text-anchor="end" textLength="12.90" lengthAdjust="spacingAndGlyphs">400</text>
<line x1="424.50" y1="573.25" x2="427.00" y2="573.25" stroke="#111" stroke-width="0.9"/>
<text x="421.10" y="576.28" font-size="8.42" text-anchor="end" textLength="12.90" lengthAdjust="spacingAndGlyphs">700</text>
<line x1="424.50" y1="550.50" x2="427.00" y2="550.50" stroke="#111" stroke-width="0.9"/>
<text x="421.10" y="553.53" font-size="8.42" text-anchor="end" textLength="17.20" lengthAdjust="spacingAndGlyphs">1000</text>
<rect x="430.50" y="593.70" width="12.50" height="24.80" fill="#e68a99"/>
<line x1="436.75" y1="591.75" x2="436.75" y2="595.50" stroke="#111" stroke-width="0.9"/>
<line x1="434.55" y1="591.75" x2="438.95" y2="591.75" stroke="#111" stroke-width="0.9"/>
<line x1="434.55" y1="595.50" x2="438.95" y2="595.50" stroke="#111" stroke-width="0.9"/>
<rect x="433.50" y="583.50" width="3.0" height="3.0" fill="#d0021b"/>
<rect x="436.80" y="585.75" width="3.0" height="3.0" fill="#d0021b"/>
<rect x="435.00" y="590.25" width="3.0" height="3.0" fill="#d0021b"/>
<rect x="430.00" y="593.25" width="3.0" height="3.0" fill="#d0021b"/>
<rect x="440.25" y="593.25" width="3.0" height="3.0" fill="#d0021b"/>
<rect x="433.00" y="594.00" width="3.0" height="3.0" fill="#d0021b"/>
<rect x="437.25" y="595.50" width="3.0" height="3.0" fill="#d0021b"/>
<rect x="431.25" y="599.25" width="3.0" height="3.0" fill="#d0021b"/>
<rect x="438.75" y="599.25" width="3.0" height="3.0" fill="#d0021b"/>
<rect x="435.00" y="600.00" width="3.0" height="3.0" fill="#d0021b"/>
<rect x="449.27" y="600.75" width="12.45" height="17.75" fill="#e68a99"/>
<line x1="455.50" y1="600.00" x2="455.50" y2="603.00" stroke="#111" stroke-width="0.9"/>
<line x1="453.30" y1="600.00" x2="457.70" y2="600.00" stroke="#111" stroke-width="0.9"/>
<line x1="453.30" y1="603.00" x2="457.70" y2="603.00" stroke="#111" stroke-width="0.9"/>
<rect x="452.25" y="592.20" width="3.0" height="3.0" fill="#d0021b"/>
<rect x="455.25" y="591.30" width="3.0" height="3.0" fill="#d0021b"/>
<rect x="448.50" y="598.50" width="3.0" height="3.0" fill="#d0021b"/>
<rect x="455.25" y="596.25" width="3.0" height="3.0" fill="#d0021b"/>
<rect x="448.50" y="603.30" width="3.0" height="3.0" fill="#d0021b"/>
<rect x="458.70" y="603.00" width="3.0" height="3.0" fill="#d0021b"/>
<rect x="452.25" y="603.50" width="3.0" height="3.0" fill="#d0021b"/>
<rect x="452.25" y="607.80" width="3.0" height="3.0" fill="#d0021b"/>
<rect x="455.25" y="605.50" width="3.0" height="3.0" fill="#d0021b"/>
<rect x="467.50" y="584.25" width="12.50" height="34.25" fill="#86a7c9"/>
<line x1="473.75" y1="580.20" x2="473.75" y2="587.70" stroke="#111" stroke-width="0.9"/>
<line x1="471.55" y1="580.20" x2="475.95" y2="580.20" stroke="#111" stroke-width="0.9"/>
<line x1="471.55" y1="587.70" x2="475.95" y2="587.70" stroke="#111" stroke-width="0.9"/>
<polygon points="469.20,566.00 471.40,568.20 469.20,570.40 467.00,568.20" fill="#0d4d8c"/>
<polygon points="478.50,569.30 480.70,571.50 478.50,573.70 476.30,571.50" fill="#0d4d8c"/>
<polygon points="469.20,573.05 471.40,575.25 469.20,577.45 467.00,575.25" fill="#0d4d8c"/>
<polygon points="478.50,575.30 480.70,577.50 478.50,579.70 476.30,577.50" fill="#0d4d8c"/>
<polygon points="469.20,579.05 471.40,581.25 469.20,583.45 467.00,581.25" fill="#0d4d8c"/>
<polygon points="469.20,589.55 471.40,591.75 469.20,593.95 467.00,591.75" fill="#0d4d8c"/>
<polygon points="478.50,588.05 480.70,590.25 478.50,592.45 476.30,590.25" fill="#0d4d8c"/>
<polygon points="473.70,594.80 475.90,597.00 473.70,599.20 471.50,597.00" fill="#0d4d8c"/>
<polygon points="473.70,599.60 475.90,601.80 473.70,604.00 471.50,601.80" fill="#0d4d8c"/>
<polygon points="473.70,582.80 475.90,585.00 473.70,587.20 471.50,585.00" fill="#0d4d8c"/>
<rect x="486.02" y="580.50" width="12.75" height="38.00" fill="#86a7c9"/>
<line x1="492.40" y1="577.50" x2="492.40" y2="582.75" stroke="#111" stroke-width="0.9"/>
<line x1="490.20" y1="577.50" x2="494.60" y2="577.50" stroke="#111" stroke-width="0.9"/>
<line x1="490.20" y1="582.75" x2="494.60" y2="582.75" stroke="#111" stroke-width="0.9"/>
<polygon points="487.50,569.00 489.70,571.20 487.50,573.40 485.30,571.20" fill="#0d4d8c"/>
<polygon points="496.50,567.80 498.70,570.00 496.50,572.20 494.30,570.00" fill="#0d4d8c"/>
<polygon points="492.00,573.05 494.20,575.25 492.00,577.45 489.80,575.25" fill="#0d4d8c"/>
<polygon points="496.50,572.30 498.70,574.50 496.50,576.70 494.30,574.50" fill="#0d4d8c"/>
<polygon points="487.50,576.05 489.70,578.25 487.50,580.45 485.30,578.25" fill="#0d4d8c"/>
<polygon points="496.50,578.00 498.70,580.20 496.50,582.40 494.30,580.20" fill="#0d4d8c"/>
<polygon points="492.00,580.55 494.20,582.75 492.00,584.95 489.80,582.75" fill="#0d4d8c"/>
<polygon points="487.50,584.30 489.70,586.50 487.50,588.70 485.30,586.50" fill="#0d4d8c"/>
<polygon points="496.50,584.30 498.70,586.50 496.50,588.70 494.30,586.50" fill="#0d4d8c"/>
<polygon points="492.00,592.10 494.20,594.30 492.00,596.50 489.80,594.30" fill="#0d4d8c"/>
<line x1="431.25" y1="549.50" x2="480.00" y2="549.50" stroke="#111" stroke-width="0.9"/>
<text x="455.62" y="551.30" font-size="9.36" text-anchor="middle" font-weight="bold" textLength="3.30" lengthAdjust="spacingAndGlyphs">*</text>
<line x1="467.50" y1="563.25" x2="495.00" y2="563.25" stroke="#111" stroke-width="0.9"/>
<text x="481.25" y="561.60" font-size="8.19" text-anchor="middle" textLength="9.80" lengthAdjust="spacingAndGlyphs">NS</text>
<line x1="431.25" y1="579.50" x2="458.25" y2="579.50" stroke="#111" stroke-width="0.9"/>
<text x="444.75" y="579.60" font-size="9.36" text-anchor="middle" font-weight="bold" textLength="6.60" lengthAdjust="spacingAndGlyphs">**</text>
<line x1="437.00" y1="618.75" x2="437.00" y2="620.95" stroke="#111" stroke-width="0.9"/>
<line x1="434.90" y1="629.65" x2="439.10" y2="629.65" stroke="#111" stroke-width="1.0"/>
<line x1="455.75" y1="618.75" x2="455.75" y2="620.95" stroke="#111" stroke-width="0.9"/>
<line x1="453.85" y1="629.25" x2="457.65" y2="629.25" stroke="#111" stroke-width="1.0"/>
<line x1="455.75" y1="627.35" x2="455.75" y2="631.15" stroke="#111" stroke-width="1.0"/>
<line x1="473.75" y1="618.75" x2="473.75" y2="620.95" stroke="#111" stroke-width="0.9"/>
<line x1="471.65" y1="629.65" x2="475.85" y2="629.65" stroke="#111" stroke-width="1.0"/>
<line x1="492.50" y1="618.75" x2="492.50" y2="620.95" stroke="#111" stroke-width="0.9"/>
<line x1="490.60" y1="629.25" x2="494.40" y2="629.25" stroke="#111" stroke-width="1.0"/>
<line x1="492.50" y1="627.35" x2="492.50" y2="631.15" stroke="#111" stroke-width="1.0"/>
<text x="418.30" y="632.79" font-size="9.13" text-anchor="middle" textLength="17.00" lengthAdjust="spacingAndGlyphs">IL-33</text>
<text transform="translate(401.10,581.80) rotate(-90)" font-size="9.71" text-anchor="middle" fill="#111" textLength="40.00" lengthAdjust="spacingAndGlyphs">Bleeding (S)</text>
<rect x="0.5" y="0.5" width="519" height="638" fill="none" stroke="#000" stroke-width="1"/>
</svg>
</body></html>
